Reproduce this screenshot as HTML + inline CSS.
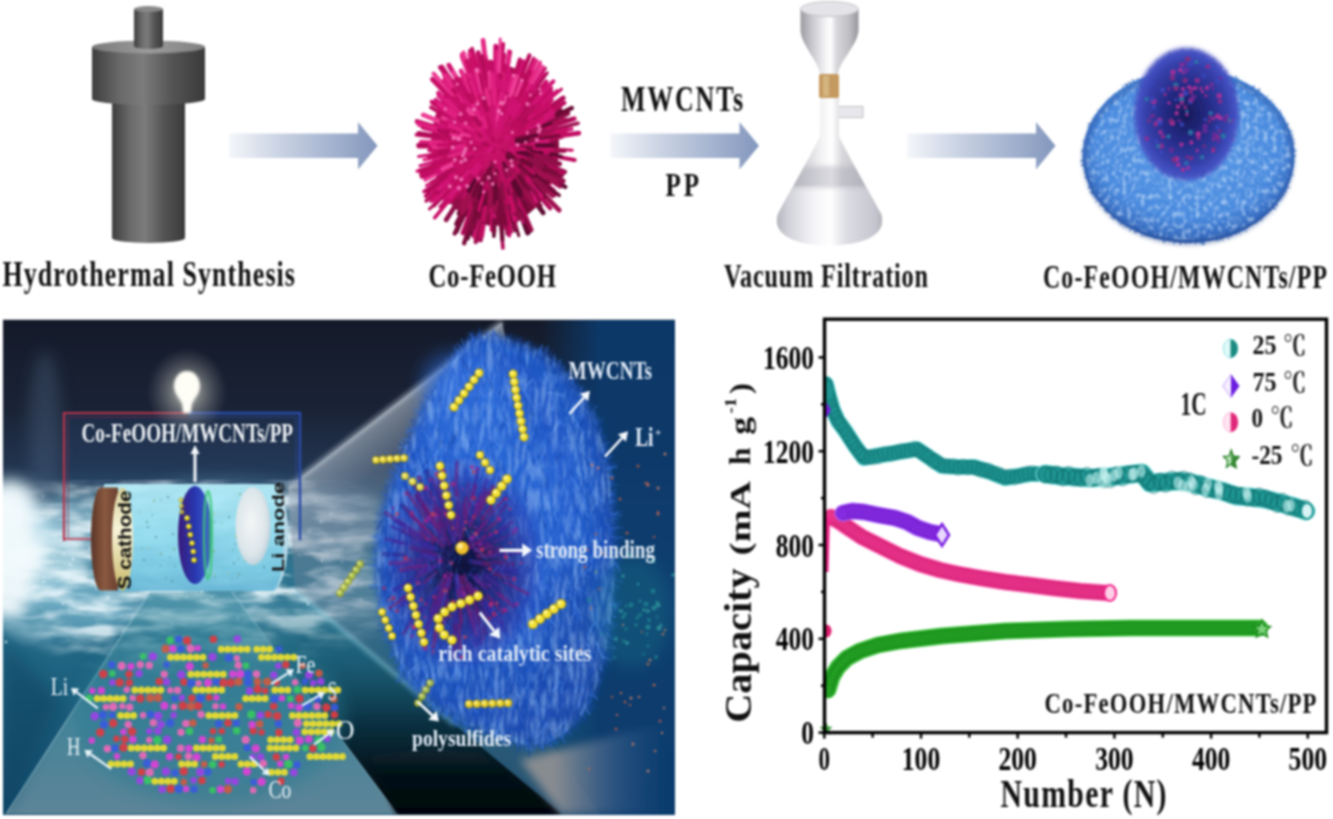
<!DOCTYPE html>
<html><head><meta charset="utf-8"><title>Co-FeOOH/MWCNTs/PP</title>
<style>html,body{margin:0;padding:0;background:#fff;overflow:hidden}svg{display:block}#w{filter:blur(1px)}</style></head>
<body><div id="w"><svg width="1333" height="819" viewBox="0 0 1333 819" font-family="Liberation Serif, 'Noto Serif CJK SC', serif">
<defs><linearGradient id="arrowg" x1="0" x2="1" y1="0" y2="0">
<stop offset="0" stop-color="#f4f6fa"/><stop offset="0.35" stop-color="#c9d2e3"/><stop offset="1" stop-color="#8397bd"/></linearGradient><linearGradient id="metal" x1="0" x2="1" y1="0" y2="0">
<stop offset="0" stop-color="#3e3e3e"/><stop offset="0.25" stop-color="#6a6a6a"/><stop offset="0.45" stop-color="#7c7c7c"/><stop offset="0.7" stop-color="#555"/><stop offset="1" stop-color="#3a3a3a"/></linearGradient><linearGradient id="metaltop" x1="0" x2="1" y1="0" y2="0">
<stop offset="0" stop-color="#7a7a7a"/><stop offset="0.5" stop-color="#9c9c9c"/><stop offset="1" stop-color="#808080"/></linearGradient><linearGradient id="glass" x1="0" x2="1" y1="0" y2="0">
<stop offset="0" stop-color="#cfcfd2"/><stop offset="0.3" stop-color="#eeeef0"/><stop offset="0.6" stop-color="#e2e2e5"/><stop offset="1" stop-color="#bdbdc2"/></linearGradient><radialGradient id="urchg" cx="0.4" cy="0.38" r="0.65"><stop offset="0" stop-color="#d41872"/><stop offset="0.6" stop-color="#b80e5e"/><stop offset="1" stop-color="#7a0a3a"/></radialGradient><linearGradient id="glass2" x1="0" x2="1" y1="0" y2="0">
<stop offset="0" stop-color="#9a9aa0"/><stop offset="0.18" stop-color="#c4c4ca"/><stop offset="0.42" stop-color="#f2f2f4"/><stop offset="0.52" stop-color="#ffffff"/><stop offset="0.62" stop-color="#d8d8dc"/><stop offset="0.85" stop-color="#bcbcc2"/><stop offset="1" stop-color="#94949a"/></linearGradient><linearGradient id="glass3" x1="0" x2="1" y1="0" y2="0">
<stop offset="0" stop-color="#a8a8b0"/><stop offset="0.15" stop-color="#d4d4dc"/><stop offset="0.35" stop-color="#f4f4f8"/><stop offset="0.5" stop-color="#ffffff"/><stop offset="0.65" stop-color="#dcdce4"/><stop offset="0.88" stop-color="#c8c8d2"/><stop offset="1" stop-color="#a0a0a8"/></linearGradient><clipPath id="conec"><path d="M820,96 L820,136 C816,146 792,188 778,214 C772,232 790,245 829.5,245 C869,245 887,232 881,214 C867,188 843,146 839,136 L839,96 Z"/></clipPath><radialGradient id="discg" cx="0.5" cy="0.42" r="0.58">
<stop offset="0" stop-color="#5c9ce8"/><stop offset="0.75" stop-color="#4a8ade"/><stop offset="0.92" stop-color="#3a70c4"/><stop offset="1" stop-color="#2d5aa8"/></radialGradient><radialGradient id="blobg" cx="0.5" cy="0.5" r="0.5">
<stop offset="0" stop-color="#161a58"/><stop offset="0.5" stop-color="#262c88"/><stop offset="0.85" stop-color="#3640aa"/><stop offset="1" stop-color="#4250c0"/></radialGradient><filter id="speck" x="0" y="0" width="100%" height="100%">
<feTurbulence type="fractalNoise" baseFrequency="0.22 0.17" numOctaves="2" seed="11" result="n"/>
<feColorMatrix in="n" type="matrix" values="0 0 0 0 0.6  0 0 0 0 0.76  0 0 0 0 0.96  2.2 0 0 0 -1.0" result="c"/>
<feComposite in="c" in2="SourceGraphic" operator="in"/></filter><clipPath id="plotc"><rect x="825" y="320" width="500" height="412"/></clipPath><marker id="mk1" markerUnits="userSpaceOnUse" markerWidth="16" markerHeight="16" refX="8.0" refY="8.0" orient="0" overflow="visible"><ellipse cx="8.0" cy="8.0" rx="4.8" ry="6.0" fill="none" stroke="#0c6a0c" stroke-width="0.8" opacity="0.55"/></marker><marker id="mk2" markerUnits="userSpaceOnUse" markerWidth="17.0" markerHeight="17.0" refX="8.5" refY="8.5" orient="0" overflow="visible"><ellipse cx="8.5" cy="8.5" rx="5.2" ry="6.5" fill="none" stroke="#b0105a" stroke-width="0.8" opacity="0.55"/></marker><marker id="mk3" markerUnits="userSpaceOnUse" markerWidth="17.0" markerHeight="17.0" refX="8.5" refY="8.5" orient="0" overflow="visible"><ellipse cx="8.5" cy="8.5" rx="5.2" ry="6.5" fill="none" stroke="#5a10b0" stroke-width="0.8" opacity="0.55"/></marker><marker id="mk4" markerUnits="userSpaceOnUse" markerWidth="18" markerHeight="18" refX="9.0" refY="9.0" orient="0" overflow="visible"><ellipse cx="9.0" cy="9.0" rx="5.6" ry="7.0" fill="none" stroke="#0b5e5c" stroke-width="0.8" opacity="0.55"/></marker><marker id="mk5" markerUnits="userSpaceOnUse" markerWidth="20" markerHeight="20" refX="10.0" refY="10.0" orient="0" overflow="visible"><ellipse cx="10.0" cy="10.0" rx="6.4" ry="8.0" fill="none" stroke="#0b5e5c" stroke-width="0.8" opacity="0.8"/></marker><clipPath id="pclip"><rect x="3" y="319.5" width="672" height="495.5"/></clipPath><linearGradient id="pbg" x1="0" x2="0" y1="320" y2="814" gradientUnits="userSpaceOnUse">
<stop offset="0" stop-color="#141a29"/><stop offset="0.18" stop-color="#1a2336"/><stop offset="0.3" stop-color="#223550"/>
<stop offset="0.38" stop-color="#2e5a76"/><stop offset="0.5" stop-color="#2f7590"/><stop offset="0.7" stop-color="#1f6482"/><stop offset="1" stop-color="#124868"/></linearGradient><linearGradient id="pright" x1="540" x2="600" y1="0" y2="0" gradientUnits="userSpaceOnUse">
<stop offset="0" stop-color="#0c3a6c" stop-opacity="0"/><stop offset="1" stop-color="#0c3a6c" stop-opacity="0.93"/></linearGradient><filter id="blur05" x="-50%" y="-50%" width="200%" height="200%"><feGaussianBlur stdDeviation="0.5"/></filter><filter id="blur8" x="-50%" y="-50%" width="200%" height="200%"><feGaussianBlur stdDeviation="8"/></filter><filter id="blur4" x="-50%" y="-50%" width="200%" height="200%"><feGaussianBlur stdDeviation="4"/></filter><filter id="blur2" x="-50%" y="-50%" width="200%" height="200%"><feGaussianBlur stdDeviation="2"/></filter><filter id="blur1" x="-50%" y="-50%" width="200%" height="200%"><feGaussianBlur stdDeviation="0.8"/></filter><filter id="blur14" x="-50%" y="-50%" width="200%" height="200%"><feGaussianBlur stdDeviation="14"/></filter><filter id="foam" x="0" y="0" width="100%" height="100%" filterUnits="objectBoundingBox">
<feTurbulence type="fractalNoise" baseFrequency="0.022 0.075" numOctaves="3" seed="5" result="n"/>
<feColorMatrix in="n" type="matrix" values="0 0 0 0 0.84  0 0 0 0 0.94  0 0 0 0 0.98  3.0 0 0 0 -1.1" result="c"/>
<feComposite in="c" in2="SourceGraphic" operator="in"/></filter><radialGradient id="foamm" cx="190" cy="565" r="240" gradientUnits="userSpaceOnUse" gradientTransform="translate(190 565) scale(1 0.48) translate(-190 -565)">
<stop offset="0" stop-color="#fff" stop-opacity="1"/><stop offset="0.7" stop-color="#fff" stop-opacity="0.8"/><stop offset="1" stop-color="#fff" stop-opacity="0"/></radialGradient><linearGradient id="latg" x1="0" x2="0" y1="592" y2="814" gradientUnits="userSpaceOnUse">
<stop offset="0" stop-color="#3f8ca0" stop-opacity="0.45"/><stop offset="0.6" stop-color="#5290a2" stop-opacity="0.8"/><stop offset="1" stop-color="#62889a" stop-opacity="0.95"/></linearGradient><linearGradient id="wedg" x1="0" x2="0" y1="590" y2="814" gradientUnits="userSpaceOnUse">
<stop offset="0" stop-color="#1e6e84" stop-opacity="0"/><stop offset="0.3" stop-color="#1a5a70" stop-opacity="0.6"/><stop offset="0.6" stop-color="#0a3040"/><stop offset="0.8" stop-color="#05161e"/><stop offset="1" stop-color="#02080c"/></linearGradient><linearGradient id="beamg" x1="288" y1="487" x2="400" y2="640" gradientUnits="userSpaceOnUse">
<stop offset="0" stop-color="#b4c0cc" stop-opacity="0.6"/><stop offset="0.22" stop-color="#7a8aa0" stop-opacity="0.45"/><stop offset="1" stop-color="#50647e" stop-opacity="0.3"/></linearGradient><linearGradient id="darkg" x1="0" x2="0" y1="745" y2="814" gradientUnits="userSpaceOnUse">
<stop offset="0" stop-color="#0a2a36"/><stop offset="0.4" stop-color="#051218"/><stop offset="1" stop-color="#020508"/></linearGradient><linearGradient id="brg" x1="555" x2="675" y1="0" y2="0" gradientUnits="userSpaceOnUse">
<stop offset="0" stop-color="#8c8e92" stop-opacity="0.95"/><stop offset="0.45" stop-color="#4a6a90" stop-opacity="0.6"/><stop offset="1" stop-color="#0d4a86" stop-opacity="0"/></linearGradient><radialGradient id="blobbg" cx="0.45" cy="0.42" r="0.62">
<stop offset="0" stop-color="#2462d2"/><stop offset="0.6" stop-color="#2058c6"/><stop offset="0.9" stop-color="#1a4cb0"/><stop offset="1" stop-color="#1a4aa8"/></radialGradient><filter id="fibr" x="0" y="0" width="100%" height="100%">
<feTurbulence type="turbulence" baseFrequency="0.15 0.035" numOctaves="3" seed="21" result="n"/>
<feColorMatrix in="n" type="matrix" values="0 0 0 0 0.45  0 0 0 0 0.68  0 0 0 0 0.98  2.2 0 0 0 -0.35" result="c"/>
<feComposite in="c" in2="SourceGraphic" operator="in"/></filter><clipPath id="blobclip"><path d="M478,336C486.7,334.0 500.5,336.7 512,340C523.5,343.3 536.3,348.3 547,356C557.7,363.7 567.8,375.0 576,386C584.2,397.0 590.7,408.0 596,422C601.3,436.0 605.0,452.0 608,470C611.0,488.0 613.2,508.3 614,530C614.8,551.7 614.7,578.3 613,600C611.3,621.7 608.2,642.5 604,660C599.8,677.5 595.0,692.5 588,705C581.0,717.5 571.7,728.3 562,735C552.3,741.7 541.2,745.0 530,745C518.8,745.0 506.3,738.8 495,735C483.7,731.2 472.8,727.5 462,722C451.2,716.5 439.8,710.7 430,702C420.2,693.3 410.5,682.8 403,670C395.5,657.2 389.3,640.8 385,625C380.7,609.2 377.7,592.5 377,575C376.3,557.5 377.8,537.5 381,520C384.2,502.5 390.0,486.3 396,470C402.0,453.7 409.7,436.7 417,422C424.3,407.3 432.8,393.7 440,382C447.2,370.3 453.7,359.7 460,352C466.3,344.3 469.3,338.0 478,336Z"/></clipPath><radialGradient id="coreg" cx="0.55" cy="0.55" r="0.5">
<stop offset="0" stop-color="#0c0c2c" stop-opacity="0.95"/><stop offset="0.35" stop-color="#1a1650" stop-opacity="0.85"/><stop offset="0.7" stop-color="#2a2088" stop-opacity="0.5"/><stop offset="1" stop-color="#3a2aa0" stop-opacity="0"/></radialGradient><radialGradient id="glow"><stop offset="0" stop-color="#ffffff" stop-opacity="0.9"/><stop offset="0.35" stop-color="#e8e8d8" stop-opacity="0.45"/><stop offset="1" stop-color="#a0a0a0" stop-opacity="0"/></radialGradient><linearGradient id="cylg" x1="0" x2="0" y1="484" y2="592" gradientUnits="userSpaceOnUse">
<stop offset="0" stop-color="#b4ecf8"/><stop offset="0.4" stop-color="#98e0f2"/><stop offset="0.8" stop-color="#7ccce6"/><stop offset="1" stop-color="#6ab8d8"/></linearGradient><linearGradient id="cathg" x1="0" x2="1" y1="0" y2="0"><stop offset="0" stop-color="#5a3428"/><stop offset="0.5" stop-color="#8a5a40"/><stop offset="1" stop-color="#6a4030"/></linearGradient><linearGradient id="creamg" x1="0" x2="0" y1="0" y2="1"><stop offset="0" stop-color="#d8d098"/><stop offset="0.4" stop-color="#f8f4d8"/><stop offset="1" stop-color="#c8b868"/></linearGradient><linearGradient id="sepg" x1="0" x2="1" y1="0" y2="0"><stop offset="0" stop-color="#3a1a7a"/><stop offset="0.5" stop-color="#2838b0"/><stop offset="0.85" stop-color="#3a58c8"/><stop offset="1" stop-color="#3ac070"/></linearGradient><radialGradient id="lig" cx="0.45" cy="0.45" r="0.6"><stop offset="0" stop-color="#f4f6f6"/><stop offset="0.7" stop-color="#dce6ea"/><stop offset="1" stop-color="#b8ccd6"/></radialGradient></defs>
<rect width="1333" height="819" fill="#fff"/>
<g id="autoclave">
<path d="M112,100 L112,238 A36.5,5 0 0 0 185,238 L185,100 Z" fill="url(#metal)"/>
<path d="M92,47 L92,99 A56.5,6 0 0 0 205,99 L205,47 Z" fill="url(#metal)"/>
<ellipse cx="148.5" cy="47" rx="56.5" ry="6.5" fill="url(#metaltop)"/>
<path d="M134,9 L134,46 A14.5,3 0 0 0 163,46 L163,9 Z" fill="url(#metal)"/>
<ellipse cx="148.5" cy="9" rx="14.5" ry="3" fill="#8a8a8a"/>
</g>
<path d="M229,133.5 L358,133.5 L358,122 L377.5,145.7 L358,169.5 L358,158 L229,158 Z" fill="url(#arrowg)"/>
<path d="M610.5,133.5 L739.5,133.5 L739.5,122 L759.0,145.7 L739.5,169.5 L739.5,158 L610.5,158 Z" fill="url(#arrowg)"/>
<path d="M907,133.5 L1036,133.5 L1036,122 L1055.5,145.7 L1036,169.5 L1036,158 L907,158 Z" fill="url(#arrowg)"/>
<g id="urchin">
<ellipse cx="495" cy="145" rx="64.0" ry="80.80000000000001" fill="url(#urchg)"/>
<path d="M505.8 205.2L509.1 223.5M545.6 149.5L560.3 150.8" stroke="#8f0f48" stroke-width="4.2" fill="none" stroke-linecap="round"/>
<path d="M548.4 176.9L565.3 187.0M474.5 214.8L467.6 238.4M543.1 120.2L561.0 111.0" stroke="#5a0830" stroke-width="4.2" fill="none" stroke-linecap="round"/>
<path d="M465.5 205.7L456.9 223.5M543.2 116.8L559.4 107.4M539.8 182.9L554.1 195.0M540.8 191.5L559.1 210.1M546.1 135.1L563.9 131.7" stroke="#a0104f" stroke-width="4.8" fill="none" stroke-linecap="round"/>
<path d="M521.6 211.9L529.3 231.3M519.8 211.8L527.7 233.1M532.1 197.3L543.2 212.9" stroke="#5a0830" stroke-width="4.8" fill="none" stroke-linecap="round"/>
<path d="M541.7 161.9L556.6 167.3M456.3 90.5L439.7 67.2M515.5 83.0L521.3 65.4M544.4 139.1L561.8 137.1M446.4 184.5L426.2 200.9M500.6 218.2L502.9 248.0" stroke="#b00b58" stroke-width="3.6" fill="none" stroke-linecap="round"/>
<path d="M448.9 186.8L435.5 199.0M453.6 191.5L439.9 206.9M453.9 185.3L440.2 198.7M476.2 75.1L469.5 50.4" stroke="#bc0c5e" stroke-width="3.0" fill="none" stroke-linecap="round"/>
<path d="M495.5 70.2L495.7 46.1M516.8 80.7L523.3 61.7M454.2 109.1L439.1 95.8M531.4 100.2L546.2 82.1M460.1 84.6L448.9 65.2" stroke="#d01272" stroke-width="4.8" fill="none" stroke-linecap="round"/>
<path d="M451.4 94.3L433.7 73.7M530.2 86.6L542.3 66.7M481.9 75.2L478.1 54.8" stroke="#ec3c94" stroke-width="4.2" fill="none" stroke-linecap="round"/>
<path d="M545.5 126.2L563.0 119.7M539.5 110.1L552.3 100.1M506.4 76.7L510.6 51.5M537.0 102.9L551.8 88.0M449.5 96.5L434.0 80.0M531.8 88.9L545.4 68.2" stroke="#c20e64" stroke-width="3.0" fill="none" stroke-linecap="round"/>
<path d="M466.6 202.4L455.7 224.3M466.1 198.5L458.0 213.7M484.1 208.1L480.8 227.6M478.2 212.3L472.4 235.3M512.5 211.9L518.7 235.7" stroke="#6d0a35" stroke-width="3.0" fill="none" stroke-linecap="round"/>
<path d="M465.1 92.2L456.1 76.3M493.6 83.4L493.1 62.9M436.6 137.4L416.4 134.8M483.1 217.7L479.3 240.4M478.5 75.2L472.1 48.5M536.4 104.2L550.4 90.3M536.5 104.9L551.2 90.8" stroke="#c20e64" stroke-width="3.6" fill="none" stroke-linecap="round"/>
<path d="M446.0 188.3L430.9 201.5M542.8 104.8L561.5 89.2M446.8 184.6L431.7 197.1M445.6 143.4L431.1 143.0M498.1 81.9L499.4 56.8M536.4 101.0L548.8 88.0M549.5 148.7L572.3 150.2M498.2 72.6L499.1 51.9M502.1 78.1L504.6 54.3" stroke="#c80e66" stroke-width="3.0" fill="none" stroke-linecap="round"/>
<path d="M537.9 106.2L552.6 92.9M508.9 205.3L514.4 229.3M521.2 89.9L531.6 68.1M439.6 160.3L420.0 165.8M445.8 174.1L426.5 185.5M445.0 131.5L427.7 126.8" stroke="#d01272" stroke-width="3.0" fill="none" stroke-linecap="round"/>
<path d="M484.3 206.2L480.8 226.3M457.2 90.5L442.8 69.6" stroke="#d21676" stroke-width="4.8" fill="none" stroke-linecap="round"/>
<path d="M545.5 149.3L564.4 150.9M542.4 175.2L560.1 186.5M469.0 200.0L460.4 218.4M549.0 120.1L567.7 111.5M541.6 170.9L558.2 180.1M481.3 213.8L475.7 242.0M547.6 173.7L562.9 182.1" stroke="#a0104f" stroke-width="4.2" fill="none" stroke-linecap="round"/>
<path d="M482.7 76.8L478.3 52.7M551.3 126.3L574.2 118.7M456.4 88.5L441.8 67.1M439.1 167.5L421.6 174.5M533.3 101.5L546.6 86.4M554.3 136.6L578.8 133.1M450.1 111.9L437.4 102.5M491.6 80.1L490.7 61.8M535.5 109.2L547.1 99.0M470.3 200.2L461.1 220.7M502.8 84.6L505.0 67.3M437.8 127.7L417.1 121.5" stroke="#c20e64" stroke-width="4.8" fill="none" stroke-linecap="round"/>
<path d="M452.2 186.1L435.6 202.1M443.8 178.6L424.0 191.6M457.9 185.0L444.3 199.6M537.8 177.8L554.0 190.1M495.8 78.6L496.1 56.5M506.2 215.4L509.4 235.7" stroke="#d01272" stroke-width="3.6" fill="none" stroke-linecap="round"/>
<path d="M500.9 207.9L502.8 228.4M543.5 183.0L559.1 195.3M481.2 203.8L476.6 223.3M476.2 211.2L470.0 233.0M543.6 169.8L558.7 177.5M547.0 126.3L565.6 119.6" stroke="#6d0a35" stroke-width="3.6" fill="none" stroke-linecap="round"/>
<path d="M475.8 76.7L469.4 53.8M471.5 80.9L461.9 54.5M471.5 82.0L461.9 56.4M505.6 79.4L509.3 56.2" stroke="#e42884" stroke-width="4.2" fill="none" stroke-linecap="round"/>
<path d="M554.3 156.2L574.5 160.0M457.7 97.1L444.4 80.0M444.0 182.6L426.0 195.9M513.4 81.7L519.8 59.6M549.6 134.7L565.0 131.8M460.6 188.5L449.9 202.0M547.1 113.3L564.3 102.9M520.7 78.1L529.4 55.4" stroke="#bc0c5e" stroke-width="4.2" fill="none" stroke-linecap="round"/>
<path d="M547.4 127.8L565.5 121.8M454.7 108.0L438.3 92.9M501.8 207.2L504.0 227.1M542.8 103.7L557.1 91.3M477.2 208.6L472.0 227.1" stroke="#d01272" stroke-width="4.2" fill="none" stroke-linecap="round"/>
<path d="M451.7 174.3L436.7 184.5M523.1 82.1L533.7 58.5M477.4 84.1L470.1 59.2M533.2 99.0L544.4 85.5M446.3 111.6L431.6 101.6M451.9 197.0L434.8 217.7" stroke="#c80e66" stroke-width="3.6" fill="none" stroke-linecap="round"/>
<path d="M529.9 93.3L543.4 73.3M505.1 82.1L508.0 63.5M516.8 204.0L523.5 222.3M445.6 181.8L431.4 192.3M478.6 216.0L473.7 237.3M511.2 210.0L515.8 228.4M519.4 203.5L526.5 220.4M443.9 155.8L429.1 159.0M439.7 153.3L418.5 156.4" stroke="#d21676" stroke-width="3.0" fill="none" stroke-linecap="round"/>
<path d="M525.3 89.1L534.3 72.6M470.1 90.4L461.2 70.9M441.3 143.0L421.2 142.2M486.6 71.2L483.1 40.4" stroke="#e42884" stroke-width="4.8" fill="none" stroke-linecap="round"/>
<path d="M532.2 184.0L544.6 197.0M543.0 166.8L561.6 175.3M479.0 206.1L473.3 227.9" stroke="#7c0b3c" stroke-width="4.8" fill="none" stroke-linecap="round"/>
<path d="M455.0 95.6L443.4 81.3M525.3 83.5L536.5 60.7M438.8 163.9L417.3 171.1M439.1 129.5L417.9 123.7" stroke="#e0207f" stroke-width="3.6" fill="none" stroke-linecap="round"/>
<path d="M484.3 217.0L480.9 240.4M553.6 129.7L578.0 123.3M520.6 207.3L528.5 226.7M521.1 205.3L531.8 230.0M503.8 209.5L507.2 233.9" stroke="#a0104f" stroke-width="3.6" fill="none" stroke-linecap="round"/>
<path d="M437.6 130.3L419.6 125.7M454.7 108.5L439.7 94.9M505.5 73.1L508.7 50.8" stroke="#e0207f" stroke-width="3.0" fill="none" stroke-linecap="round"/>
<path d="M442.3 132.1L423.4 127.5M547.4 126.7L566.2 120.1M472.2 207.9L463.1 232.9M438.4 164.6L420.5 170.8M506.3 208.4L510.5 231.8M520.1 92.3L529.7 72.2" stroke="#bc0c5e" stroke-width="4.8" fill="none" stroke-linecap="round"/>
<path d="M498.9 76.6L500.6 48.4" stroke="#e42884" stroke-width="3.0" fill="none" stroke-linecap="round"/>
<path d="M492.8 207.3L492.1 229.9M448.0 113.1L432.6 102.7M451.0 98.8L432.4 79.3M440.7 145.8L418.9 146.2" stroke="#c80e66" stroke-width="4.8" fill="none" stroke-linecap="round"/>
<path d="M454.5 181.8L443.1 192.2M447.8 172.8L431.2 182.5M449.6 180.6L433.3 193.5M449.1 118.1L430.9 107.4" stroke="#bc0c5e" stroke-width="3.6" fill="none" stroke-linecap="round"/>
<path d="M536.4 192.5L550.1 208.2M453.3 182.9L441.8 193.4M436.7 145.1L418.3 145.1M497.1 76.1L497.9 47.7M440.1 136.5L418.6 133.2M485.7 78.6L482.6 56.3" stroke="#b00b58" stroke-width="4.2" fill="none" stroke-linecap="round"/>
<path d="M548.6 165.7L564.6 171.9M546.9 122.6L567.8 113.6M457.9 201.8L446.2 219.7" stroke="#8f0f48" stroke-width="4.8" fill="none" stroke-linecap="round"/>
<path d="M471.5 75.6L463.6 52.3" stroke="#ec3c94" stroke-width="3.6" fill="none" stroke-linecap="round"/>
<path d="M521.4 211.0L529.2 230.6M503.9 207.7L506.4 225.3" stroke="#7c0b3c" stroke-width="3.0" fill="none" stroke-linecap="round"/>
<path d="M477.5 206.5L470.9 229.9M543.3 158.5L560.0 163.1" stroke="#8f0f48" stroke-width="3.0" fill="none" stroke-linecap="round"/>
<path d="M448.3 191.7L433.9 206.2M534.1 90.9L547.2 72.8M518.8 199.5L526.8 218.0M448.6 190.3L429.5 209.0" stroke="#b00b58" stroke-width="3.0" fill="none" stroke-linecap="round"/>
<path d="M464.1 91.1L453.4 72.5M443.6 123.4L423.3 114.9" stroke="#ec3c94" stroke-width="4.8" fill="none" stroke-linecap="round"/>
<path d="M447.0 177.6L427.2 191.0M453.6 180.2L438.6 192.9M543.0 111.9L563.2 98.0M544.4 165.2L562.7 172.8" stroke="#b00b58" stroke-width="4.8" fill="none" stroke-linecap="round"/>
<path d="M528.6 83.8L540.2 62.5M456.8 93.1L443.7 75.3M488.5 81.9L485.9 56.3M440.7 156.2L424.2 159.7M459.4 94.1L445.9 74.9" stroke="#e42884" stroke-width="3.6" fill="none" stroke-linecap="round"/>
<path d="M443.1 169.5L424.9 178.2M535.8 99.9L547.3 87.2M480.0 81.5L475.7 63.1M445.3 133.3L425.6 128.7M554.2 132.7L571.7 129.0M534.3 102.7L549.2 86.7" stroke="#d21676" stroke-width="3.6" fill="none" stroke-linecap="round"/>
<path d="M494.1 214.1L493.9 236.3M466.6 209.5L456.8 231.8" stroke="#5a0830" stroke-width="3.6" fill="none" stroke-linecap="round"/>
<path d="M446.3 148.9L429.4 150.2M479.1 78.4L473.0 52.9M474.5 84.2L466.7 61.1M537.1 112.2L548.7 103.2M500.9 70.1L503.0 44.2M546.0 134.1L566.2 129.8" stroke="#c80e66" stroke-width="4.2" fill="none" stroke-linecap="round"/>
<path d="M500.3 212.2L502.4 239.4M478.0 202.0L472.4 220.6M550.4 118.3L571.8 108.0" stroke="#6d0a35" stroke-width="4.2" fill="none" stroke-linecap="round"/>
<path d="M543.0 153.0L561.7 156.2" stroke="#5a0830" stroke-width="3.0" fill="none" stroke-linecap="round"/>
<path d="M494.4 212.2L494.2 232.0M530.3 192.2L540.5 205.9M466.1 208.4L454.7 233.5M473.0 215.1L464.1 243.3" stroke="#7c0b3c" stroke-width="4.2" fill="none" stroke-linecap="round"/>
<path d="M547.2 172.0L563.8 180.6M473.9 207.0L465.2 232.6" stroke="#8f0f48" stroke-width="3.6" fill="none" stroke-linecap="round"/>
<path d="M538.5 184.2L552.4 196.7M551.8 125.6L571.7 118.7" stroke="#a0104f" stroke-width="3.0" fill="none" stroke-linecap="round"/>
<path d="M439.7 168.9L421.8 176.6M503.1 85.0L505.6 66.1M485.6 210.1L481.9 236.3" stroke="#c20e64" stroke-width="4.2" fill="none" stroke-linecap="round"/>
<path d="M509.2 206.3L514.9 230.7" stroke="#7c0b3c" stroke-width="3.6" fill="none" stroke-linecap="round"/>
<path d="M497.0 77.7L497.7 52.0" stroke="#e0207f" stroke-width="4.8" fill="none" stroke-linecap="round"/>
<path d="M449.1 110.1L435.7 99.9M536.6 99.6L553.2 81.4M450.0 186.7L434.6 201.0" stroke="#d21676" stroke-width="4.2" fill="none" stroke-linecap="round"/>
<path d="M436.6 128.5L418.5 123.4" stroke="#e0207f" stroke-width="4.2" fill="none" stroke-linecap="round"/>
<path d="M498.7 69.9L500.3 38.9M443.1 171.3L425.0 180.4M498.8 76.6L500.3 50.7" stroke="#ec3c94" stroke-width="3.0" fill="none" stroke-linecap="round"/>
<path d="M510.6 199.3L516.8 221.1M453.9 130.9L440.2 126.2M465.5 180.4L454.4 193.6M534.2 148.1L548.1 149.2" stroke="#b00b58" stroke-width="3.0" fill="none" stroke-linecap="round"/>
<path d="M467.6 177.7L458.9 188.1M515.1 98.2L523.1 79.7M534.2 137.8L547.6 135.4M535.4 174.3L548.2 183.6" stroke="#b00b58" stroke-width="4.8" fill="none" stroke-linecap="round"/>
<path d="M533.1 142.2L547.3 141.2M466.8 99.6L457.2 84.2M522.1 101.5L531.4 86.5M527.0 102.1L535.9 90.1M459.0 149.0L446.9 150.3M457.5 159.1L445.2 163.7M455.0 176.4L439.2 188.9M483.6 88.0L480.1 70.8" stroke="#d21676" stroke-width="4.8" fill="none" stroke-linecap="round"/>
<path d="M458.1 108.6L445.7 96.5M464.5 98.3L453.3 81.1M538.0 157.4L552.8 161.7M535.5 151.1L547.9 153.0M461.6 175.6L449.9 186.4M497.8 92.2L498.7 74.9M523.0 104.7L533.6 89.4" stroke="#c20e64" stroke-width="3.6" fill="none" stroke-linecap="round"/>
<path d="M456.3 137.5L442.1 134.7M476.5 97.5L469.3 79.1M452.5 126.7L440.8 121.7M458.3 181.4L444.8 194.8M521.5 106.2L531.5 91.7M525.5 181.7L536.4 194.8" stroke="#bc0c5e" stroke-width="3.0" fill="none" stroke-linecap="round"/>
<path d="M451.5 132.6L437.9 128.7M510.3 202.4L514.7 219.1M451.9 129.7L439.7 125.4M509.1 191.7L513.9 207.3M521.5 107.2L530.6 94.2" stroke="#d01272" stroke-width="4.2" fill="none" stroke-linecap="round"/>
<path d="M532.7 161.0L545.4 166.4M482.6 198.6L478.3 217.3M539.1 165.4L555.9 173.2M479.7 189.5L474.8 203.6" stroke="#7c0b3c" stroke-width="4.8" fill="none" stroke-linecap="round"/>
<path d="M534.1 156.9L545.4 160.4M512.5 194.5L518.2 210.6" stroke="#5a0830" stroke-width="3.6" fill="none" stroke-linecap="round"/>
<path d="M523.7 183.0L531.7 193.7M476.3 186.6L470.2 200.1M500.2 198.5L501.8 215.1M499.2 191.9L500.6 207.2M531.3 150.9L542.1 152.7M537.6 128.4L550.7 123.3" stroke="#5a0830" stroke-width="3.0" fill="none" stroke-linecap="round"/>
<path d="M460.1 128.1L450.3 123.3M461.6 170.4L452.0 177.8M455.1 116.2L443.1 107.6M526.7 107.6L535.8 96.9M516.4 98.1L522.5 84.6" stroke="#c20e64" stroke-width="4.2" fill="none" stroke-linecap="round"/>
<path d="M448.6 146.7L433.0 147.2" stroke="#ec3c94" stroke-width="3.0" fill="none" stroke-linecap="round"/>
<path d="M482.1 193.3L478.4 207.2M540.3 146.4L554.8 146.9M485.3 192.4L482.4 206.8M485.9 199.6L482.3 221.2" stroke="#6d0a35" stroke-width="3.0" fill="none" stroke-linecap="round"/>
<path d="M458.1 148.3L446.6 149.3M479.8 88.5L474.9 70.1M481.6 100.7L477.6 87.7M491.3 92.6L490.1 75.6M459.0 142.0L446.8 141.0" stroke="#e0207f" stroke-width="3.6" fill="none" stroke-linecap="round"/>
<path d="M468.0 112.4L459.2 101.8M459.0 143.9L447.3 143.5M522.1 111.4L531.2 100.2" stroke="#c80e66" stroke-width="4.8" fill="none" stroke-linecap="round"/>
<path d="M515.7 94.8L521.7 80.4M482.0 91.2L476.9 70.1M478.8 101.4L473.9 88.3" stroke="#ec3c94" stroke-width="4.2" fill="none" stroke-linecap="round"/>
<path d="M447.8 144.5L430.2 144.3M462.2 119.5L449.3 109.5M458.4 109.8L448.1 99.9M454.2 115.2L438.8 104.1M476.8 93.3L470.3 74.8" stroke="#e0207f" stroke-width="4.2" fill="none" stroke-linecap="round"/>
<path d="M538.1 121.0L553.4 112.5M462.9 182.2L450.4 196.7M527.1 188.9L536.1 201.3" stroke="#d21676" stroke-width="4.2" fill="none" stroke-linecap="round"/>
<path d="M534.7 173.6L547.2 182.6M526.7 179.7L538.8 193.0M471.1 191.6L463.2 206.9M530.4 173.8L540.0 181.6" stroke="#6d0a35" stroke-width="4.8" fill="none" stroke-linecap="round"/>
<path d="M501.2 89.5L502.9 74.1M490.1 95.1L488.6 80.4" stroke="#e42884" stroke-width="3.6" fill="none" stroke-linecap="round"/>
<path d="M457.6 134.1L445.5 130.6M518.0 100.0L526.7 83.0M499.7 92.0L501.2 75.1M462.7 102.0L453.4 89.6" stroke="#bc0c5e" stroke-width="4.2" fill="none" stroke-linecap="round"/>
<path d="M483.5 90.7L480.2 74.8M533.1 119.4L545.0 111.4M509.8 93.0L513.9 78.5" stroke="#bc0c5e" stroke-width="3.6" fill="none" stroke-linecap="round"/>
<path d="M528.9 181.9L541.9 195.9M529.3 106.2L540.6 93.5M505.4 189.0L509.0 204.5M522.9 103.1L533.8 86.6M521.8 107.2L530.4 95.1M535.5 119.2L551.2 109.2M538.3 124.1L554.0 116.5M497.2 97.1L498.1 78.8M453.4 117.6L439.2 108.3M461.4 111.0L449.0 98.5" stroke="#d01272" stroke-width="3.0" fill="none" stroke-linecap="round"/>
<path d="M512.8 93.7L518.1 78.6M499.5 196.8L500.9 212.8M523.2 103.5L530.9 92.2M505.4 99.0L509.1 82.4M450.3 159.7L432.9 165.4M476.2 97.8L469.7 81.4M447.8 153.4L429.3 156.7M456.9 139.4L441.9 137.2" stroke="#bc0c5e" stroke-width="4.8" fill="none" stroke-linecap="round"/>
<path d="M490.3 93.9L489.0 79.4M452.8 134.0L439.3 130.5M521.5 110.2L531.4 97.2M534.1 118.2L546.3 109.8M489.2 191.8L487.0 209.8M480.8 189.2L476.9 201.0" stroke="#b00b58" stroke-width="4.2" fill="none" stroke-linecap="round"/>
<path d="M494.3 197.2L494.1 217.2M494.9 87.7L494.9 70.8M470.6 105.8L461.4 90.9M478.5 93.2L473.0 76.2M469.8 111.7L460.3 99.2M523.4 175.7L532.9 186.0M468.7 95.7L460.0 79.3" stroke="#d21676" stroke-width="3.0" fill="none" stroke-linecap="round"/>
<path d="M498.9 193.8L499.9 207.1M495.7 195.1L495.9 212.6M519.5 194.3L527.0 209.3" stroke="#6d0a35" stroke-width="3.6" fill="none" stroke-linecap="round"/>
<path d="M525.0 108.7L534.2 97.6M499.2 95.0L500.4 80.8M455.8 173.9L441.6 184.4M471.9 185.3L464.8 197.5M473.2 105.5L464.9 90.4" stroke="#d01272" stroke-width="3.6" fill="none" stroke-linecap="round"/>
<path d="M535.0 148.0L547.6 148.9M488.9 85.2L486.4 61.0M463.2 172.4L452.2 181.8M467.9 97.5L457.2 78.8M538.2 147.9L552.1 148.8M455.7 149.2L441.9 150.6" stroke="#c20e64" stroke-width="4.8" fill="none" stroke-linecap="round"/>
<path d="M507.2 92.9L511.9 72.7M452.4 150.7L438.6 152.6M518.8 108.7L526.3 97.4M454.3 168.2L438.4 177.3M528.0 103.9L539.8 89.2" stroke="#b00b58" stroke-width="3.6" fill="none" stroke-linecap="round"/>
<path d="M520.6 177.1L527.8 186.1M515.3 185.4L521.7 198.2M524.6 179.8L536.0 193.1M501.5 194.9L503.7 211.7" stroke="#8f0f48" stroke-width="3.6" fill="none" stroke-linecap="round"/>
<path d="M511.6 195.0L517.0 211.2M469.1 98.4L460.5 82.9" stroke="#c20e64" stroke-width="3.0" fill="none" stroke-linecap="round"/>
<path d="M452.1 163.8L435.1 171.2M487.5 197.1L484.8 215.7M527.3 119.8L536.2 112.8" stroke="#c80e66" stroke-width="3.6" fill="none" stroke-linecap="round"/>
<path d="M506.5 193.2L509.7 206.6M473.2 192.7L465.2 210.2M531.7 168.9L545.9 178.1M539.3 134.0L552.5 130.7M489.9 195.5L488.5 210.5" stroke="#a0104f" stroke-width="3.6" fill="none" stroke-linecap="round"/>
<path d="M540.8 138.2L558.7 135.5M521.0 182.6L530.9 196.9M480.3 193.0L476.1 207.0M486.2 202.7L483.3 222.1" stroke="#7c0b3c" stroke-width="3.6" fill="none" stroke-linecap="round"/>
<path d="M458.9 153.8L448.6 156.3" stroke="#e42884" stroke-width="3.0" fill="none" stroke-linecap="round"/>
<path d="M477.7 186.4L472.2 199.3M491.9 192.7L491.0 206.4M533.4 155.7L548.4 159.9M484.6 190.2L481.8 202.4" stroke="#8f0f48" stroke-width="3.0" fill="none" stroke-linecap="round"/>
<path d="M455.0 123.9L442.7 117.5M490.5 87.8L489.3 72.3" stroke="#ec3c94" stroke-width="3.6" fill="none" stroke-linecap="round"/>
<path d="M530.1 160.6L541.2 165.5M510.0 196.5L514.8 213.3M534.6 179.1L546.2 189.1M513.5 200.3L519.5 218.3M541.2 158.6L559.6 164.0" stroke="#8f0f48" stroke-width="4.8" fill="none" stroke-linecap="round"/>
<path d="M520.8 180.4L528.1 190.4" stroke="#6d0a35" stroke-width="4.2" fill="none" stroke-linecap="round"/>
<path d="M507.3 190.5L512.0 207.7M500.6 199.9L502.7 220.0M500.7 204.5L502.5 223.4" stroke="#7c0b3c" stroke-width="4.2" fill="none" stroke-linecap="round"/>
<path d="M470.7 195.1L462.2 212.6M531.7 132.9L541.9 129.5M487.5 198.7L484.7 218.4M524.5 189.6L535.2 205.8" stroke="#a0104f" stroke-width="4.2" fill="none" stroke-linecap="round"/>
<path d="M499.2 203.8L500.7 226.2" stroke="#7c0b3c" stroke-width="3.0" fill="none" stroke-linecap="round"/>
<path d="M509.9 196.8L514.0 211.0M452.9 145.2L438.5 145.2M518.4 105.0L525.0 93.7" stroke="#c80e66" stroke-width="4.2" fill="none" stroke-linecap="round"/>
<path d="M526.7 168.9L535.1 175.2M536.8 145.4L552.7 145.5" stroke="#5a0830" stroke-width="4.2" fill="none" stroke-linecap="round"/>
<path d="M509.4 90.6L513.5 75.5M493.2 94.5L492.5 75.1M457.5 117.8L445.3 109.0" stroke="#e0207f" stroke-width="4.8" fill="none" stroke-linecap="round"/>
<path d="M494.7 194.2L494.6 210.8M470.5 191.2L461.0 209.1" stroke="#a0104f" stroke-width="4.8" fill="none" stroke-linecap="round"/>
<path d="M485.8 201.7L482.6 221.1M529.9 124.7L542.6 117.4M459.4 176.8L446.7 188.2M482.5 195.6L478.9 210.4M520.7 107.9L530.0 94.6M450.5 162.1L437.8 167.0M536.0 115.3L550.8 104.5" stroke="#c80e66" stroke-width="3.0" fill="none" stroke-linecap="round"/>
<path d="M505.1 90.1L508.6 71.1M467.6 178.6L459.5 188.4M458.3 126.9L447.9 121.7M451.4 165.7L437.8 172.2" stroke="#d01272" stroke-width="4.8" fill="none" stroke-linecap="round"/>
<path d="M454.2 163.6L442.7 168.9M510.7 95.6L516.7 76.6" stroke="#ec3c94" stroke-width="4.8" fill="none" stroke-linecap="round"/>
<path d="M505.7 193.6L508.9 208.2" stroke="#8f0f48" stroke-width="4.2" fill="none" stroke-linecap="round"/>
<path d="M467.8 108.1L457.7 94.4M477.1 98.3L470.5 81.2" stroke="#e0207f" stroke-width="3.0" fill="none" stroke-linecap="round"/>
<path d="M473.4 190.7L465.1 208.3" stroke="#a0104f" stroke-width="3.0" fill="none" stroke-linecap="round"/>
<path d="M502.6 97.9L505.2 81.9" stroke="#d21676" stroke-width="3.6" fill="none" stroke-linecap="round"/>
<path d="M500.9 112.7L502.7 103.3M503.2 187.9L506.2 203.6M519.1 114.7L527.5 104.1M494.6 110.3L494.4 97.6M461.1 145.2L451.2 145.3M472.7 128.2L465.8 123.0" stroke="#b00b58" stroke-width="3.6" fill="none" stroke-linecap="round"/>
<path d="M520.4 171.8L529.7 181.6M519.8 133.2L526.4 130.0M468.6 132.2L458.3 127.3M471.6 114.1L464.4 104.5M493.9 114.0L493.6 104.4M475.1 163.9L467.7 170.9" stroke="#c20e64" stroke-width="4.2" fill="none" stroke-linecap="round"/>
<path d="M518.1 164.8L526.5 171.9M515.3 179.4L522.3 191.1M518.9 163.1L527.2 169.3" stroke="#a0104f" stroke-width="3.0" fill="none" stroke-linecap="round"/>
<path d="M508.0 109.8L513.0 96.3M524.3 121.8L533.1 114.8" stroke="#d01272" stroke-width="3.0" fill="none" stroke-linecap="round"/>
<path d="M508.6 119.3L513.1 110.9M519.5 131.1L527.6 126.5M469.5 122.0L460.7 114.0M504.9 187.9L508.3 202.8" stroke="#bc0c5e" stroke-width="3.0" fill="none" stroke-linecap="round"/>
<path d="M480.8 114.7L476.8 106.3M467.4 146.4L458.2 146.9M488.8 104.1L486.7 89.8M468.9 150.0L461.2 151.4" stroke="#e42884" stroke-width="4.8" fill="none" stroke-linecap="round"/>
<path d="M482.2 115.0L477.5 104.0M515.6 115.7L521.2 107.7M497.6 103.7L498.4 90.5M467.5 154.2L458.3 157.3" stroke="#c20e64" stroke-width="3.6" fill="none" stroke-linecap="round"/>
<path d="M484.6 184.4L481.6 195.9M518.5 155.3L525.8 158.5M465.4 155.9L454.9 159.8M525.4 131.2L535.9 126.4M486.6 185.6L484.2 196.9M474.9 107.7L468.0 95.1M470.3 153.0L462.8 155.4" stroke="#bc0c5e" stroke-width="4.8" fill="none" stroke-linecap="round"/>
<path d="M497.2 183.9L497.9 195.1M511.7 115.8L517.5 105.7M462.9 130.5L454.0 126.4M483.5 109.5L479.2 96.2M512.3 117.9L518.1 108.8M525.7 126.1L533.9 121.0M518.3 167.2L524.7 173.2" stroke="#c80e66" stroke-width="3.6" fill="none" stroke-linecap="round"/>
<path d="M463.4 137.2L451.2 134.2" stroke="#e42884" stroke-width="3.6" fill="none" stroke-linecap="round"/>
<path d="M472.4 168.8L465.9 175.7M471.9 132.7L463.5 128.2" stroke="#bc0c5e" stroke-width="3.6" fill="none" stroke-linecap="round"/>
<path d="M499.5 112.4L500.8 103.0M498.9 107.5L500.0 96.9M514.8 124.0L521.1 117.3M485.0 111.7L481.8 100.9" stroke="#c80e66" stroke-width="4.8" fill="none" stroke-linecap="round"/>
<path d="M498.9 186.0L500.3 201.3M526.5 141.3L536.8 140.1M516.1 179.2L523.0 190.4" stroke="#7c0b3c" stroke-width="3.0" fill="none" stroke-linecap="round"/>
<path d="M468.9 175.0L459.6 185.8M460.6 149.8L451.0 151.1M465.2 169.8L456.1 177.3M480.0 172.7L474.4 183.0M472.1 111.0L464.4 99.7" stroke="#d21676" stroke-width="3.6" fill="none" stroke-linecap="round"/>
<path d="M465.6 128.4L454.7 122.2M518.5 135.9L526.7 132.7M479.3 168.1L473.6 176.5M487.4 115.9L485.0 106.7" stroke="#d21676" stroke-width="3.0" fill="none" stroke-linecap="round"/>
<path d="M463.9 160.3L455.5 164.4M469.9 117.5L460.3 107.0M472.3 133.3L465.6 129.9M518.3 136.2L527.4 132.8M466.3 123.5L458.5 117.8" stroke="#c20e64" stroke-width="4.8" fill="none" stroke-linecap="round"/>
<path d="M478.5 184.5L474.0 195.2M488.2 187.7L485.7 203.5M515.6 171.2L522.8 180.4M522.0 160.3L530.7 165.2M490.3 182.9L489.1 193.1M497.4 185.5L498.1 197.4" stroke="#6d0a35" stroke-width="4.8" fill="none" stroke-linecap="round"/>
<path d="M501.4 183.9L503.7 198.2M492.5 179.3L491.8 190.3M490.0 178.6L488.3 190.4" stroke="#8f0f48" stroke-width="4.2" fill="none" stroke-linecap="round"/>
<path d="M516.3 179.8L523.7 192.0M528.2 156.9L537.5 160.2M515.2 164.5L521.1 170.2M527.9 133.5L539.8 129.4" stroke="#8f0f48" stroke-width="4.8" fill="none" stroke-linecap="round"/>
<path d="M487.0 180.9L484.8 190.4M472.8 160.0L466.1 164.6M462.2 140.3L452.2 138.9M467.0 170.3L457.1 179.2M496.7 182.6L497.3 195.7M525.7 153.2L533.8 155.4M471.0 172.5L461.7 183.1" stroke="#bc0c5e" stroke-width="4.2" fill="none" stroke-linecap="round"/>
<path d="M514.5 180.8L520.4 191.7M519.7 147.6L528.2 148.5M482.1 186.9L478.6 198.4" stroke="#5a0830" stroke-width="3.6" fill="none" stroke-linecap="round"/>
<path d="M479.9 119.4L474.0 109.4" stroke="#e42884" stroke-width="3.0" fill="none" stroke-linecap="round"/>
<path d="M513.4 114.6L519.0 105.5M528.2 130.2L538.5 125.6M528.9 134.7L538.7 131.7M516.3 120.6L523.8 111.9M491.2 177.7L490.2 186.5" stroke="#d01272" stroke-width="4.8" fill="none" stroke-linecap="round"/>
<path d="M528.6 134.1L541.7 129.9" stroke="#8f0f48" stroke-width="3.0" fill="none" stroke-linecap="round"/>
<path d="M511.6 167.0L516.7 173.8M495.9 189.7L496.2 205.0M490.7 188.3L489.3 202.6" stroke="#a0104f" stroke-width="4.2" fill="none" stroke-linecap="round"/>
<path d="M475.4 177.3L468.0 189.4M470.6 121.4L463.2 114.3M471.2 113.9L464.7 105.4M524.1 166.5L533.7 173.6" stroke="#c20e64" stroke-width="3.0" fill="none" stroke-linecap="round"/>
<path d="M517.9 167.1L525.0 174.0" stroke="#a0104f" stroke-width="3.6" fill="none" stroke-linecap="round"/>
<path d="M474.7 180.5L468.7 191.0M494.9 182.1L494.9 192.3M495.4 184.8L495.5 199.1" stroke="#5a0830" stroke-width="4.2" fill="none" stroke-linecap="round"/>
<path d="M469.8 135.5L462.9 132.9M499.7 105.3L501.2 93.2M462.8 146.9L452.7 147.4M465.2 140.1L453.6 138.2" stroke="#e0207f" stroke-width="3.0" fill="none" stroke-linecap="round"/>
<path d="M528.3 132.7L540.4 128.2M527.0 138.8L535.8 137.1" stroke="#a0104f" stroke-width="4.8" fill="none" stroke-linecap="round"/>
<path d="M463.9 163.0L455.4 167.9M465.4 167.4L456.4 174.2" stroke="#c80e66" stroke-width="3.0" fill="none" stroke-linecap="round"/>
<path d="M486.4 180.6L483.7 192.0M481.8 170.9L478.1 178.3M472.0 156.4L465.2 159.8" stroke="#b00b58" stroke-width="4.2" fill="none" stroke-linecap="round"/>
<path d="M522.8 152.9L533.2 155.8M522.0 152.8L530.4 155.3M512.3 182.8L517.5 194.2" stroke="#6d0a35" stroke-width="3.6" fill="none" stroke-linecap="round"/>
<path d="M498.6 188.4L499.6 200.1M519.3 165.3L525.8 170.7M484.9 175.2L482.1 183.5M521.0 140.4L529.0 138.9" stroke="#7c0b3c" stroke-width="3.6" fill="none" stroke-linecap="round"/>
<path d="M524.6 165.9L532.6 171.5M470.2 157.4L461.3 161.8M473.5 176.9L467.3 186.1M518.6 118.6L527.5 108.7M518.5 123.5L527.1 115.6" stroke="#b00b58" stroke-width="3.0" fill="none" stroke-linecap="round"/>
<path d="M486.6 110.2L483.6 98.0M519.6 126.0L526.0 121.1" stroke="#b00b58" stroke-width="4.8" fill="none" stroke-linecap="round"/>
<path d="M522.5 147.3L531.3 148.0M522.3 160.7L531.2 165.8M494.4 188.5L494.2 203.7" stroke="#6d0a35" stroke-width="3.0" fill="none" stroke-linecap="round"/>
<path d="M510.8 111.2L515.6 101.1" stroke="#d01272" stroke-width="4.2" fill="none" stroke-linecap="round"/>
<path d="M472.5 130.0L464.0 124.3M479.0 115.5L473.4 105.2" stroke="#e0207f" stroke-width="4.2" fill="none" stroke-linecap="round"/>
<path d="M519.7 166.1L527.3 172.6" stroke="#7c0b3c" stroke-width="4.2" fill="none" stroke-linecap="round"/>
<path d="M474.2 117.5L468.3 109.8" stroke="#ec3c94" stroke-width="4.8" fill="none" stroke-linecap="round"/>
<path d="M461.5 130.5L449.6 125.4M469.0 145.9L461.6 146.2" stroke="#e0207f" stroke-width="3.6" fill="none" stroke-linecap="round"/>
<path d="M468.9 171.6L461.2 179.4" stroke="#d21676" stroke-width="4.2" fill="none" stroke-linecap="round"/>
<path d="M503.2 108.7L506.1 95.8M463.0 138.4L453.2 136.4M466.9 140.4L458.4 139.1" stroke="#ec3c94" stroke-width="3.0" fill="none" stroke-linecap="round"/>
<path d="M468.5 137.1L461.5 135.0" stroke="#ec3c94" stroke-width="4.2" fill="none" stroke-linecap="round"/>
<path d="M518.7 151.6L527.1 153.9M514.4 183.0L520.8 195.7" stroke="#5a0830" stroke-width="4.8" fill="none" stroke-linecap="round"/>
<path d="M526.8 137.4L537.1 135.0" stroke="#5a0830" stroke-width="3.0" fill="none" stroke-linecap="round"/>
<path d="M517.1 169.4L523.5 176.5" stroke="#8f0f48" stroke-width="3.6" fill="none" stroke-linecap="round"/>
<path d="M484.8 116.8L481.8 108.3" stroke="#c80e66" stroke-width="4.2" fill="none" stroke-linecap="round"/>
<path d="M494.6 103.2L494.5 90.6" stroke="#e0207f" stroke-width="4.8" fill="none" stroke-linecap="round"/>
<path d="M481.3 136.1L476.3 132.8M503.9 129.3L506.6 124.6" stroke="#b00b58" stroke-width="3.0" fill="none" stroke-linecap="round"/>
<path d="M492.4 162.9L491.3 170.4M506.0 166.6L510.4 175.3" stroke="#8f0f48" stroke-width="4.2" fill="none" stroke-linecap="round"/>
<path d="M475.8 140.8L470.6 139.6M482.1 141.4L477.5 140.1M512.0 148.4L518.7 149.7" stroke="#d21676" stroke-width="3.6" fill="none" stroke-linecap="round"/>
<path d="M515.8 135.3L522.0 132.4M473.5 147.8L465.7 148.8M514.9 128.5L520.4 123.9M511.1 136.6L516.9 133.6M512.6 164.7L518.1 170.9" stroke="#bc0c5e" stroke-width="4.8" fill="none" stroke-linecap="round"/>
<path d="M473.7 158.8L466.0 163.8M478.7 150.7L473.1 152.6M471.4 150.2L464.5 151.8M477.7 147.0L472.4 147.6" stroke="#bc0c5e" stroke-width="4.2" fill="none" stroke-linecap="round"/>
<path d="M494.9 165.7L494.9 173.6M491.4 171.9L490.1 182.1M517.4 142.9L525.6 142.1" stroke="#a0104f" stroke-width="3.0" fill="none" stroke-linecap="round"/>
<path d="M518.3 148.3L525.0 149.3M507.3 136.0L512.3 132.4M484.5 129.5L480.6 123.7M482.2 150.5L478.0 152.3M477.2 157.8L471.6 161.8" stroke="#d21676" stroke-width="3.0" fill="none" stroke-linecap="round"/>
<path d="M475.3 141.7L469.5 140.8M484.7 118.7L480.7 108.5M505.6 119.0L508.7 111.3M489.2 128.6L487.3 123.1" stroke="#d01272" stroke-width="3.6" fill="none" stroke-linecap="round"/>
<path d="M506.2 139.0L511.0 136.4M476.1 133.9L470.6 130.7" stroke="#d01272" stroke-width="3.0" fill="none" stroke-linecap="round"/>
<path d="M507.2 157.0L511.2 161.0M503.5 163.0L506.8 169.9" stroke="#5a0830" stroke-width="3.0" fill="none" stroke-linecap="round"/>
<path d="M511.9 144.9L517.5 144.8M502.3 116.3L505.0 105.6M504.9 170.5L508.2 179.0M472.0 140.3L464.0 138.7M509.3 133.7L514.1 129.9" stroke="#c20e64" stroke-width="4.8" fill="none" stroke-linecap="round"/>
<path d="M494.3 126.7L494.1 120.6M488.4 128.3L486.4 123.2" stroke="#ec3c94" stroke-width="4.8" fill="none" stroke-linecap="round"/>
<path d="M480.3 161.0L474.6 167.1M474.3 159.2L468.0 163.5M483.1 161.9L478.5 168.6" stroke="#c20e64" stroke-width="3.0" fill="none" stroke-linecap="round"/>
<path d="M492.7 129.1L491.9 123.8M498.2 166.6L499.3 174.0M481.2 155.7L476.9 159.0" stroke="#c20e64" stroke-width="3.6" fill="none" stroke-linecap="round"/>
<path d="M514.0 160.1L520.9 165.6" stroke="#6d0a35" stroke-width="3.0" fill="none" stroke-linecap="round"/>
<path d="M512.1 158.2L517.9 162.7" stroke="#a0104f" stroke-width="4.2" fill="none" stroke-linecap="round"/>
<path d="M496.5 171.3L497.0 179.2" stroke="#5a0830" stroke-width="4.2" fill="none" stroke-linecap="round"/>
<path d="M493.2 173.7L492.6 184.0M478.0 125.1L471.5 117.4M484.8 156.2L480.6 160.9" stroke="#c80e66" stroke-width="4.2" fill="none" stroke-linecap="round"/>
<path d="M512.2 155.9L518.4 159.8" stroke="#8f0f48" stroke-width="3.0" fill="none" stroke-linecap="round"/>
<path d="M507.3 153.5L512.6 157.1M490.3 169.2L488.7 177.7" stroke="#6d0a35" stroke-width="4.8" fill="none" stroke-linecap="round"/>
<path d="M499.9 128.3L501.5 123.0M493.8 128.5L493.2 121.2M497.6 119.6L498.5 111.4M472.2 152.7L464.0 155.4" stroke="#d01272" stroke-width="4.8" fill="none" stroke-linecap="round"/>
<path d="M496.7 172.3L497.2 180.7" stroke="#7c0b3c" stroke-width="4.2" fill="none" stroke-linecap="round"/>
<path d="M511.9 126.5L518.6 119.2M479.5 147.9L474.8 148.8M482.1 144.2L477.8 143.9" stroke="#b00b58" stroke-width="4.2" fill="none" stroke-linecap="round"/>
<path d="M478.3 165.2L472.9 171.7" stroke="#d21676" stroke-width="4.8" fill="none" stroke-linecap="round"/>
<path d="M503.6 168.2L506.8 176.8" stroke="#8f0f48" stroke-width="3.6" fill="none" stroke-linecap="round"/>
<path d="M503.3 130.8L505.9 126.4M492.9 171.4L492.3 179.4M477.9 143.1L471.1 142.3M482.9 149.7L478.7 151.3" stroke="#c80e66" stroke-width="3.6" fill="none" stroke-linecap="round"/>
<path d="M491.2 130.6L489.9 125.6" stroke="#bc0c5e" stroke-width="3.0" fill="none" stroke-linecap="round"/>
<path d="M516.7 139.2L524.2 137.2" stroke="#6d0a35" stroke-width="4.2" fill="none" stroke-linecap="round"/>
<path d="M489.7 128.8L487.5 122.3M511.9 127.4L517.7 121.3" stroke="#bc0c5e" stroke-width="3.6" fill="none" stroke-linecap="round"/>
<path d="M492.2 173.8L491.2 184.6" stroke="#7c0b3c" stroke-width="4.8" fill="none" stroke-linecap="round"/>
<path d="M480.1 126.6L476.1 121.6M497.3 116.1L498.1 105.9M486.4 125.1L483.3 118.0" stroke="#e0207f" stroke-width="4.2" fill="none" stroke-linecap="round"/>
<path d="M482.4 149.2L478.3 150.6M489.5 125.0L487.4 117.3M515.6 148.1L523.1 149.3M473.7 143.9L467.4 143.6" stroke="#c20e64" stroke-width="4.2" fill="none" stroke-linecap="round"/>
<path d="M507.7 160.4L512.0 165.6M517.1 140.8L523.9 139.6M497.8 174.9L498.9 186.0" stroke="#a0104f" stroke-width="3.6" fill="none" stroke-linecap="round"/>
<path d="M494.3 115.5L494.1 107.2" stroke="#d21676" stroke-width="4.2" fill="none" stroke-linecap="round"/>
<path d="M482.5 127.5L478.4 121.7" stroke="#e0207f" stroke-width="4.8" fill="none" stroke-linecap="round"/>
<path d="M480.0 125.0L474.9 118.2" stroke="#b00b58" stroke-width="4.8" fill="none" stroke-linecap="round"/>
<path d="M476.8 160.0L469.9 165.6" stroke="#c80e66" stroke-width="4.8" fill="none" stroke-linecap="round"/>
<path d="M517.3 141.5L525.8 140.2" stroke="#5a0830" stroke-width="4.8" fill="none" stroke-linecap="round"/>
<path d="M497.8 119.7L498.8 110.9" stroke="#ec3c94" stroke-width="3.6" fill="none" stroke-linecap="round"/>
<path d="M500.0 121.4L501.7 113.7M480.4 166.4L475.0 174.2" stroke="#d01272" stroke-width="4.2" fill="none" stroke-linecap="round"/>
<path d="M488.1 170.4L485.6 179.6" stroke="#7c0b3c" stroke-width="3.6" fill="none" stroke-linecap="round"/>
<path d="M502.8 134.6L506.1 130.1M488.0 148.7L483.6 151.1" stroke="#c80e66" stroke-width="3.0" fill="none" stroke-linecap="round"/>
<path d="M494.8 153.5L494.6 158.9M483.4 144.4L478.9 144.2" stroke="#d21676" stroke-width="3.6" fill="none" stroke-linecap="round"/>
<path d="M498.9 141.9L501.7 139.8M494.3 148.3L493.3 152.4" stroke="#bc0c5e" stroke-width="4.2" fill="none" stroke-linecap="round"/>
<path d="M495.1 143.4L495.4 139.9" stroke="#d21676" stroke-width="4.2" fill="none" stroke-linecap="round"/>
<path d="M494.9 140.5L494.8 135.5" stroke="#d01272" stroke-width="3.0" fill="none" stroke-linecap="round"/>
<path d="M493.7 141.3L492.4 137.7" stroke="#bc0c5e" stroke-width="4.8" fill="none" stroke-linecap="round"/>
<path d="M490.5 134.5L488.5 129.9" stroke="#c20e64" stroke-width="4.8" fill="none" stroke-linecap="round"/>
<path d="M497.5 141.9L499.8 138.9" stroke="#c20e64" stroke-width="3.6" fill="none" stroke-linecap="round"/>
<path d="M491.3 148.3L488.2 151.2" stroke="#d21676" stroke-width="4.8" fill="none" stroke-linecap="round"/>
<path d="M487.2 134.7L483.7 130.1" stroke="#d01272" stroke-width="4.8" fill="none" stroke-linecap="round"/>
<path d="M495.1 157.2L495.1 161.9M483.5 144.4L479.0 144.1" stroke="#c80e66" stroke-width="4.8" fill="none" stroke-linecap="round"/>
<path d="M489.4 135.2L487.1 131.2" stroke="#c20e64" stroke-width="3.0" fill="none" stroke-linecap="round"/>
<path d="M502.0 150.0L505.9 152.8" stroke="#b00b58" stroke-width="3.0" fill="none" stroke-linecap="round"/>
<path d="M489.5 146.2L485.7 147.0" stroke="#c80e66" stroke-width="4.2" fill="none" stroke-linecap="round"/>
<path d="M487.3 144.2L483.6 143.8" stroke="#b00b58" stroke-width="4.2" fill="none" stroke-linecap="round"/>
<path d="M502.7 103.3h0M458.9 188.1h0M477.5 104.0h0M500.8 103.0h0M465.7 148.8h0M474.0 109.4h0M511.2 161.0h0M517.5 144.8h0M527.5 104.1h0M456.1 177.3h0M492.6 184.0h0M454.9 159.8h0M476.9 70.1h0M483.6 98.0h0M461.3 161.8h0M538.5 125.6h0M536.8 140.1h0M512.0 165.6h0M461.2 179.4h0M449.9 186.4h0M538.7 131.7h0M464.5 151.8h0M488.7 177.7h0M460.7 114.0h0M458.4 139.1h0M452.7 147.4h0M498.8 110.9h0M467.3 186.1h0M453.6 138.2h0M465.2 159.8h0M462.8 155.4h0M539.8 129.4h0" stroke="#f27ab8" stroke-width="4.2" fill="none" opacity="0.85" stroke-linecap="round"/>
<path d="M454.7 122.2h0M521.7 80.4h0M494.9 173.6h0M512.3 132.4h0M457.2 84.2h0M540.6 93.5h0M483.7 192.0h0M513.5 75.5h0M530.4 95.1h0M527.4 132.8h0M525.6 142.1h0M482.1 183.5h0M474.8 148.8h0M478.1 178.3h0M506.8 169.9h0M539.8 89.2h0M471.1 142.3h0M495.1 161.9h0M501.7 113.7h0M445.3 109.0h0M465.8 123.0h0" stroke="#f27ab8" stroke-width="3.4" fill="none" opacity="0.85" stroke-linecap="round"/>
</g>
<g id="flask">
<path d="M800.5,9 L800.5,30 C801,45 818,60 820,74 L838,74 C840,60 858,45 858.5,30 L858.5,9 Z" fill="url(#glass2)"/>
<ellipse cx="829.5" cy="9" rx="29" ry="7.5" fill="#e4e4e8" stroke="#b8b8bc" stroke-width="0.8"/>
<rect x="837" y="106.5" width="26" height="11" fill="#e8e8ec" stroke="#b4b4b8" stroke-width="0.8"/>
<path d="M820,96 L820,136 C816,146 792,188 778,214 C772,232 790,245 829.5,245 C869,245 887,232 881,214 C867,188 843,146 839,136 L839,96 Z" fill="url(#glass2)"/>
<g clip-path="url(#conec)">
<rect x="770" y="186" width="120" height="70" fill="url(#glass3)" opacity="0.9"/>
<rect x="770" y="166" width="120" height="22" fill="#a4a4b0" opacity="0.4" filter="url(#blur2)"/>
</g>
<rect x="819" y="74" width="20" height="24" rx="2" fill="#c49a60"/>
<rect x="823" y="76" width="6" height="20" fill="#dcc08e" opacity="0.7"/>
</g>
<g id="disc">
<path d="M1197.6 71.9L1197.4 67.4M1249.5 88.0L1250.8 86.3M1196.7 240.1L1195.5 244.5M1185.6 71.6L1186.6 66.4M1288.4 176.3L1291.4 175.7M1261.4 215.6L1263.7 216.5M1225.3 234.8L1224.9 238.0M1287.9 134.2L1291.1 134.0M1192.5 71.7L1194.2 68.0M1249.0 87.7L1254.6 85.8M1280.8 193.3L1283.9 195.5M1085.8 158.2L1082.3 160.4M1286.6 130.4L1291.2 131.4M1133.6 227.3L1128.9 231.0M1203.0 239.6L1202.4 245.3M1179.4 240.1L1180.8 243.5M1135.0 84.0L1131.9 79.5M1135.3 228.2L1135.5 231.0M1137.6 229.3L1135.8 231.5M1094.8 190.5L1089.2 192.2M1279.3 195.8L1281.6 196.0M1186.2 71.6L1184.9 68.2M1214.1 74.2L1217.6 70.8M1283.6 188.2L1286.9 189.2M1290.9 164.8L1293.2 163.7M1135.4 83.8L1133.6 81.1M1289.5 172.1L1293.8 176.0M1291.1 149.8L1295.0 150.2M1136.4 83.3L1132.4 79.0M1291.3 159.2L1294.7 161.8M1291.4 153.4L1293.9 154.2M1161.8 237.5L1163.2 241.1M1129.1 224.8L1126.7 227.6M1271.2 206.2L1276.3 209.1M1163.6 74.1L1161.7 71.8M1216.6 237.2L1217.6 239.7M1281.2 192.6L1282.8 195.9M1291.3 152.3L1296.0 150.8M1280.8 118.6L1284.8 117.9M1135.0 84.0L1132.9 82.0M1203.9 239.5L1203.6 244.4M1220.4 236.3L1218.9 241.5M1099.9 198.6L1095.2 202.2M1133.5 227.2L1129.8 229.1M1092.6 125.8L1087.7 123.4M1165.4 238.2L1162.3 241.2M1097.3 117.2L1093.6 116.8M1124.0 221.7L1119.8 225.9M1257.3 218.8L1258.9 221.6M1291.2 161.2L1293.6 162.8M1204.3 239.4L1202.9 245.0M1274.1 202.8L1277.7 204.8M1139.5 230.1L1136.8 231.6M1178.7 72.0L1176.9 66.3M1085.8 153.7L1083.3 154.3M1108.5 208.9L1104.4 210.3M1092.6 186.2L1088.8 187.5M1277.6 113.7L1281.0 109.7M1121.3 219.8L1118.8 223.2M1086.5 165.7L1081.6 164.8M1098.8 197.1L1097.3 201.2M1282.5 190.3L1287.0 190.6M1242.9 227.7L1244.0 230.5M1091.8 184.6L1089.4 185.5M1117.8 94.8L1114.4 93.3M1137.1 229.0L1136.1 233.2M1088.0 138.7L1085.6 136.7M1086.9 143.6L1082.7 140.5M1275.3 110.6L1277.4 108.2M1092.2 185.4L1089.5 187.3M1132.0 226.5L1130.1 228.4M1290.5 144.5L1292.9 143.5M1286.9 131.3L1290.5 129.0M1278.7 115.3L1281.0 112.2M1182.1 240.2L1181.2 242.5M1087.2 170.1L1084.3 172.7M1201.4 239.7L1200.2 244.2M1157.2 236.4L1157.0 239.1" stroke="#3c70c8" stroke-width="0.9" fill="none"/>
<path d="M1222.8 235.6L1225.8 237.6M1258.4 94.1L1259.2 90.8M1190.4 71.6L1192.4 68.4M1290.2 142.8L1295.2 142.8M1108.7 209.2L1105.6 213.1M1269.8 207.7L1275.4 208.8M1092.9 125.1L1088.5 123.6M1285.4 184.4L1287.5 184.6M1223.5 76.6L1222.3 71.3M1126.6 88.7L1126.1 84.7M1150.4 234.3L1150.9 237.3M1289.1 138.3L1293.2 135.3M1228.1 78.1L1227.9 74.9M1135.0 228.0L1132.7 229.1M1291.0 163.6L1292.8 164.8M1144.9 232.4L1143.7 236.6M1181.7 240.2L1180.2 245.0M1165.8 238.3L1163.7 243.3M1086.0 150.6L1081.0 152.5M1126.0 222.9L1123.1 227.4M1253.6 90.6L1253.8 88.5M1127.0 88.4L1127.2 82.6M1131.1 86.0L1128.9 81.7M1124.3 221.9L1124.3 223.9M1115.8 96.4L1112.9 94.9M1254.8 91.4L1257.2 90.3M1277.8 114.1L1281.0 112.9M1201.7 239.7L1204.9 244.4M1095.7 192.1L1090.7 194.3M1138.6 82.3L1136.7 78.3M1108.5 103.1L1106.4 101.5M1290.9 147.6L1294.6 148.3M1129.6 86.9L1124.3 84.1M1169.3 73.1L1167.8 68.3M1220.1 75.7L1218.3 70.3M1191.5 71.6L1192.0 68.6M1211.6 73.8L1215.2 70.4M1256.4 92.6L1260.3 88.2M1256.0 219.7L1256.8 223.6M1185.4 71.7L1185.8 68.4M1272.5 107.2L1273.9 105.2M1086.0 161.4L1080.5 159.8M1230.6 79.0L1232.2 76.2M1216.6 74.8L1217.7 69.1M1221.6 235.9L1222.4 240.7M1216.8 237.2L1216.4 241.3M1094.0 122.9L1091.6 123.4M1109.8 210.2L1107.7 211.8M1115.9 96.3L1114.1 95.2M1285.6 127.9L1288.1 124.5M1109.4 209.8L1106.8 210.9M1098.6 196.8L1093.3 197.3M1096.2 193.0L1090.8 191.9M1155.5 235.9L1154.4 239.2M1111.5 100.2L1108.2 98.2M1088.7 176.0L1084.9 178.1M1251.7 89.4L1254.3 86.5M1108.4 103.2L1107.8 100.9M1246.2 86.1L1247.2 83.6M1291.0 163.4L1293.4 163.2M1086.8 143.9L1084.9 142.8M1280.3 194.1L1282.7 199.3M1094.2 122.5L1089.9 123.7M1122.8 91.2L1121.0 89.1M1277.7 113.8L1279.7 113.4M1259.9 216.8L1262.2 218.9M1094.8 121.3L1092.4 118.0M1285.0 126.7L1288.8 123.2M1183.3 240.3L1186.0 244.4M1086.5 165.8L1080.8 165.2M1086.9 143.7L1083.7 141.8M1106.4 105.3L1103.4 104.4M1122.4 220.6L1120.8 224.9M1087.0 143.3L1084.9 143.5M1281.6 192.0L1286.9 192.6M1114.9 214.8L1110.0 218.1M1103.4 203.2L1099.3 206.1M1241.4 83.6L1241.6 81.5M1210.7 73.6L1211.3 71.6M1276.9 112.7L1279.3 112.7" stroke="#27509c" stroke-width="0.9" fill="none"/>
<path d="M1175.1 239.7L1173.7 241.3M1267.4 210.2L1269.9 211.5M1088.1 174.0L1085.3 177.4M1227.8 234.0L1228.8 239.1M1291.3 159.3L1294.0 160.1M1277.8 198.0L1280.6 197.6M1120.7 92.6L1118.6 90.2M1119.5 218.5L1117.1 221.3M1289.4 139.3L1294.8 139.7M1291.4 158.4L1296.2 155.2M1111.3 211.7L1109.4 212.9M1226.4 234.5L1228.7 236.4M1091.8 184.5L1088.0 186.3M1093.4 187.9L1087.7 188.3M1095.2 191.4L1091.4 193.0M1168.8 73.2L1168.6 70.7M1222.4 76.3L1226.4 73.9M1274.6 202.2L1277.1 206.5M1108.7 102.9L1107.3 100.4M1091.9 127.4L1088.2 127.1M1170.9 72.9L1173.0 68.6M1289.4 172.6L1291.5 173.5M1190.4 240.4L1189.2 243.9M1229.2 78.5L1231.3 76.7M1284.1 187.2L1288.0 188.0M1108.8 209.2L1105.1 210.5M1288.9 137.6L1293.2 134.8M1089.6 133.2L1087.7 132.1M1290.3 143.7L1294.0 144.4M1176.6 72.2L1178.1 69.1M1135.8 228.4L1134.3 233.3M1129.9 225.3L1125.5 228.0M1175.3 239.7L1174.6 243.3M1284.6 125.8L1286.5 124.6M1194.4 240.3L1196.3 242.7M1116.2 215.9L1114.0 218.4M1278.0 114.4L1282.2 114.1M1095.2 120.7L1091.3 121.6M1291.4 155.3L1294.2 155.3M1154.2 76.5L1151.5 71.7M1133.4 84.8L1129.7 81.6M1281.9 191.5L1285.1 196.5M1240.1 229.1L1243.7 231.9M1273.4 108.2L1276.2 107.6M1232.0 232.5L1231.4 237.2M1100.7 112.3L1097.7 109.7M1221.5 235.9L1220.8 238.9M1269.9 207.7L1270.7 209.8M1087.6 140.2L1084.3 141.8M1246.5 86.2L1246.6 84.1M1285.0 185.3L1290.2 188.1M1089.1 177.4L1085.8 176.3M1236.1 81.1L1235.5 75.7M1199.9 239.9L1200.6 242.6M1257.7 93.5L1259.7 90.3M1108.5 103.1L1106.1 100.4M1210.7 73.6L1212.2 72.1M1116.1 215.8L1113.1 220.3M1124.1 221.7L1122.5 224.0M1257.7 218.5L1262.3 220.7M1148.6 233.7L1146.2 237.0M1289.8 141.0L1293.3 138.3M1265.9 100.4L1268.1 99.8M1157.6 75.5L1156.6 73.0M1185.0 71.7L1186.7 67.9M1093.8 123.3L1092.4 120.6M1098.4 196.5L1095.4 199.5" stroke="#2f5fb0" stroke-width="0.9" fill="none"/>
<path d="M1094.1 189.2L1091.1 188.7M1244.8 226.7L1247.8 229.7M1287.7 133.5L1293.1 131.1M1216.6 237.2L1219.7 239.5M1270.9 105.4L1274.5 104.9M1290.6 166.9L1292.7 166.7M1119.8 218.7L1118.8 223.3M1163.1 74.3L1162.0 68.7M1216.9 74.9L1219.6 71.4M1085.8 157.8L1081.0 155.7M1114.7 214.7L1113.1 218.4M1264.4 98.9L1268.5 95.6M1110.1 210.5L1107.7 212.5M1200.1 239.9L1203.1 243.7M1255.2 91.7L1255.4 89.6M1086.2 148.1L1081.0 151.0M1086.0 150.6L1082.6 152.0M1109.1 209.5L1104.9 209.7M1271.9 106.6L1274.1 102.9M1097.9 195.7L1092.3 195.0M1237.1 230.4L1239.2 233.2M1197.7 71.9L1196.3 68.6M1108.5 209.0L1103.5 210.3M1086.1 149.2L1081.4 149.5M1260.3 95.5L1262.9 93.6M1206.7 72.9L1204.4 67.4M1244.4 226.9L1246.6 232.4M1175.1 239.7L1173.5 244.8M1200.6 72.2L1202.6 66.7M1102.0 110.6L1098.9 110.1M1200.9 239.8L1202.6 241.6M1115.2 215.1L1112.3 218.0M1087.8 172.7L1085.4 172.9M1099.1 114.5L1095.0 114.6M1223.8 76.7L1225.4 72.4M1282.6 190.2L1284.6 192.6M1123.6 90.6L1122.6 84.9M1092.2 126.7L1087.1 126.5M1095.5 191.8L1092.6 192.3M1180.9 71.8L1181.4 67.0M1086.0 161.6L1080.0 161.6M1099.9 198.6L1098.0 200.4M1267.5 101.9L1272.6 100.2M1291.3 151.8L1297.0 150.4M1196.3 71.8L1197.1 66.9M1095.7 192.1L1093.2 193.4M1180.7 240.1L1179.5 242.5M1112.9 98.9L1110.8 96.4M1087.0 142.8L1083.3 143.2M1236.1 230.8L1240.2 232.8M1092.2 126.6L1087.9 128.0M1233.7 231.8L1235.2 234.9M1236.4 230.7L1236.4 235.3M1142.4 231.4L1141.2 237.0M1208.9 73.3L1212.9 69.3M1275.2 201.5L1277.0 206.5M1088.5 136.7L1084.7 138.4M1236.6 81.4L1237.7 76.7M1115.9 96.3L1112.1 94.8M1086.0 161.6L1081.9 164.1M1276.7 199.5L1281.3 200.9M1224.2 76.8L1224.2 74.0M1175.2 72.3L1176.1 66.5M1257.3 93.2L1258.5 88.8M1213.8 74.2L1212.2 69.0M1129.2 224.9L1127.0 226.0M1255.2 91.7L1256.3 89.0M1237.0 230.4L1240.7 234.6M1288.0 177.4L1289.4 178.9M1188.5 71.6L1188.5 67.7M1086.3 147.6L1084.0 148.5M1202.3 239.6L1203.9 244.3M1202.3 239.6L1202.6 245.0M1095.5 191.8L1092.6 195.6M1201.2 239.8L1201.0 243.2" stroke="#5b8fd6" stroke-width="0.9" fill="none"/>
<ellipse cx="1188.6" cy="156" rx="106" ry="87" fill="url(#discg)"/>
<ellipse cx="1188.6" cy="156" rx="103" ry="84" fill="#fff" filter="url(#speck)" opacity="0.85"/>
<ellipse cx="1188.6" cy="158" rx="104" ry="85" fill="none" stroke="#22448e" stroke-width="3" opacity="0.6" filter="url(#blur2)"/>
<ellipse cx="1186.5" cy="114" rx="52" ry="66" fill="#4450c0" filter="url(#blur2)"/>
<path d="M1219.5 71.9L1221.0 64.4M1229.6 90.9L1236.8 91.3M1194.6 172.5L1197.4 175.6M1153.2 72.3L1150.1 68.4M1186.1 173.4L1186.9 177.7M1229.8 91.4L1233.1 87.2M1228.9 139.2L1232.9 140.2M1202.2 58.1L1201.4 52.7M1188.2 54.6L1190.9 48.6M1159.8 162.8L1158.6 167.8M1230.0 92.0L1232.9 88.7M1211.5 63.8L1214.0 57.3M1192.9 172.8L1193.1 176.6M1183.8 54.7L1181.8 48.3M1226.3 145.3L1229.1 150.8M1192.2 55.0L1192.8 47.7M1222.4 75.8L1227.8 71.2M1232.4 102.7L1236.4 103.2M1211.1 164.5L1212.5 169.7M1201.8 170.1L1202.8 177.9M1144.8 87.1L1139.9 87.2M1233.1 119.7L1239.2 116.8M1205.7 168.2L1207.1 171.1M1169.3 58.8L1169.2 51.2M1230.3 134.9L1235.7 135.3M1141.2 128.9L1135.0 132.7M1218.6 70.8L1221.8 65.4M1213.7 65.6L1217.2 59.0M1203.9 169.2L1203.5 175.5M1165.1 166.8L1163.6 171.8M1141.5 130.4L1139.4 132.9M1195.5 55.7L1195.3 50.8M1214.1 66.0L1217.1 64.7M1188.4 173.4L1189.0 176.3M1147.0 145.9L1144.6 149.5M1229.7 91.3L1235.3 89.3M1155.2 158.1L1150.4 161.5M1170.0 58.4L1169.2 53.5M1202.6 58.2L1205.1 54.0M1155.3 158.2L1149.6 161.0M1228.4 87.4L1231.7 86.8M1231.1 95.9L1237.0 91.4M1233.3 113.9L1237.9 112.1M1229.2 138.2L1236.0 139.2M1165.8 167.3L1161.4 173.8" stroke="#3a44b0" stroke-width="0.8" fill="none" opacity="0.7"/>
<path d="M1155.4 69.6L1151.5 68.6M1232.5 124.8L1237.4 128.6M1178.1 172.4L1176.8 177.3M1232.9 121.7L1236.4 120.3M1216.7 68.6L1218.1 62.2M1153.6 156.3L1151.0 158.1M1200.0 57.1L1203.5 50.9M1206.1 60.0L1209.2 57.8M1231.4 131.0L1236.4 130.6M1160.6 163.5L1159.5 169.8M1142.3 133.6L1135.5 137.7M1165.3 61.1L1164.9 57.5M1206.9 60.5L1206.6 56.0M1161.5 63.8L1158.0 59.1M1143.7 90.0L1139.1 90.1M1223.2 150.8L1230.1 154.1M1210.2 62.8L1213.0 60.4M1190.6 173.2L1192.5 176.4M1233.1 108.4L1240.7 110.2M1220.3 72.9L1227.1 70.8M1142.6 134.4L1138.4 134.3M1228.0 141.5L1235.4 140.8M1206.4 167.8L1209.5 174.3M1149.7 150.8L1147.1 157.1M1161.0 64.2L1157.2 62.0M1222.1 75.4L1225.8 68.5M1169.9 58.5L1169.0 55.3M1207.9 61.2L1209.8 56.6M1215.4 160.7L1219.4 164.8M1187.4 173.4L1187.9 176.9M1159.8 162.8L1153.2 166.6M1227.9 86.3L1231.3 80.2M1155.6 158.6L1153.0 162.1M1153.7 71.6L1152.2 68.7M1180.1 55.2L1182.4 49.4M1226.5 144.8L1229.4 150.8M1187.1 173.4L1186.3 177.4M1228.8 139.3L1230.7 142.0M1210.7 63.1L1212.7 57.6M1172.2 170.6L1167.6 176.1M1216.7 159.3L1220.0 166.6M1151.1 152.9L1147.2 156.0M1212.2 163.6L1212.5 168.0M1159.3 162.4L1158.3 169.2M1178.7 172.6L1181.6 179.3M1142.5 93.9L1137.5 91.8M1211.4 164.3L1214.7 168.3M1232.6 123.9L1235.9 124.2M1232.8 122.6L1238.0 125.0M1140.0 121.0L1135.5 120.0M1198.8 56.7L1199.4 49.0M1146.6 145.0L1140.3 148.9M1207.6 61.0L1207.9 54.4M1184.3 54.7L1184.6 50.7M1187.9 54.6L1189.4 49.7M1173.4 57.0L1171.6 53.6M1218.0 70.0L1223.0 66.5M1229.4 90.3L1232.2 86.3M1175.2 56.3L1176.4 50.9" stroke="#5460cc" stroke-width="0.8" fill="none" opacity="0.7"/>
<path d="M1143.3 136.9L1138.4 138.7M1141.4 98.2L1136.6 95.7M1218.6 70.8L1222.2 65.9M1182.8 54.8L1180.0 50.3M1182.2 54.9L1182.4 48.5M1233.2 117.5L1240.1 119.5M1163.3 62.4L1163.3 57.6M1210.6 63.1L1214.9 58.3M1224.9 80.0L1227.3 75.8M1233.1 108.4L1237.6 107.2M1228.3 87.4L1234.2 82.7M1149.5 150.4L1145.9 155.2M1176.2 171.9L1174.1 176.2M1228.8 88.5L1235.5 84.2M1166.8 167.9L1164.6 173.9M1166.1 167.5L1166.1 172.1M1216.8 68.8L1220.2 61.7M1213.2 162.8L1215.6 166.1M1146.5 83.2L1141.6 78.0M1139.9 119.3L1133.0 117.5M1211.7 164.1L1212.1 167.6M1207.3 60.8L1209.9 57.7M1145.7 84.8L1140.0 80.6M1187.6 173.4L1187.6 178.4M1150.4 151.8L1144.0 152.6M1147.1 82.0L1141.8 81.0M1232.6 104.1L1238.6 103.2M1171.7 170.4L1169.7 174.0M1146.9 82.4L1143.7 81.4M1229.1 89.5L1232.6 87.8M1212.1 163.8L1215.8 168.0M1154.0 71.2L1148.2 69.8M1140.9 100.5L1138.4 98.3M1167.3 168.2L1166.8 172.6M1140.1 106.1L1137.1 104.7M1225.8 81.8L1231.4 77.4M1153.5 71.9L1148.9 67.8M1153.0 155.5L1151.1 157.8M1194.5 172.5L1197.6 178.4M1215.9 160.3L1217.9 165.1M1205.9 59.9L1209.9 56.1M1211.5 164.2L1211.9 169.3M1148.6 148.8L1143.4 150.0M1146.9 82.4L1140.1 80.3M1140.9 127.4L1136.6 126.1M1158.0 161.1L1157.0 167.1M1232.9 121.6L1237.4 123.2M1233.3 115.0L1238.2 114.3M1213.6 65.5L1217.6 63.5M1183.4 173.3L1184.8 177.2M1184.1 173.3L1183.0 179.0M1160.6 64.6L1155.4 59.4M1158.1 66.7L1155.9 62.1M1196.9 56.1L1197.3 49.4M1185.4 173.4L1185.3 179.8M1168.3 59.3L1164.8 54.5" stroke="#4a56c4" stroke-width="0.8" fill="none" opacity="0.7"/>
<ellipse cx="1186.5" cy="114" rx="47.84" ry="60.720000000000006" fill="url(#blobg)" filter="url(#blur1)"/>
<path d="M1197.3 80.4h0M1190.9 100.6h0M1227.8 116.9h0M1161.2 145.9h0M1230.4 119.9h0M1183.8 71.7h0" stroke="#9a2a8c" stroke-width="5.5" fill="none" opacity="0.85" stroke-linecap="round"/>
<path d="M1153.8 101.6h0M1173.0 72.2h0M1217.6 116.3h0M1219.1 95.7h0M1198.3 134.1h0" stroke="#b03098" stroke-width="5.5" fill="none" opacity="0.85" stroke-linecap="round"/>
<path d="M1149.0 120.8h0M1153.2 115.7h0M1219.5 130.9h0M1210.0 116.9h0M1209.4 121.2h0M1187.1 157.0h0M1204.1 146.2h0" stroke="#8a2a80" stroke-width="3.5" fill="none" opacity="0.85" stroke-linecap="round"/>
<path d="M1176.7 159.1h0M1172.4 123.1h0M1181.5 95.4h0M1159.6 120.6h0" stroke="#b8309a" stroke-width="5.5" fill="none" opacity="0.85" stroke-linecap="round"/>
<path d="M1185.3 107.4h0M1213.5 149.5h0M1191.2 158.3h0M1190.8 92.0h0" stroke="#8a2a80" stroke-width="4.5" fill="none" opacity="0.85" stroke-linecap="round"/>
<path d="M1180.4 64.1h0M1179.1 120.8h0M1163.3 90.3h0M1212.6 88.3h0M1150.7 116.2h0" stroke="#6a2a98" stroke-width="3.5" fill="none" opacity="0.85" stroke-linecap="round"/>
<path d="M1183.0 88.9h0M1191.3 142.6h0M1195.4 88.1h0M1183.0 169.7h0M1188.1 167.4h0M1160.4 132.3h0" stroke="#b03098" stroke-width="4.5" fill="none" opacity="0.85" stroke-linecap="round"/>
<path d="M1155.7 123.0h0M1186.9 114.6h0M1213.2 118.4h0M1168.9 103.1h0" stroke="#b8309a" stroke-width="3.5" fill="none" opacity="0.85" stroke-linecap="round"/>
<path d="M1190.6 132.4h0M1223.3 136.3h0M1181.7 99.4h0M1229.3 119.4h0M1175.9 85.2h0" stroke="#2a7aa8" stroke-width="5.5" fill="none" opacity="0.85" stroke-linecap="round"/>
<path d="M1146.8 138.6h0M1181.9 102.8h0M1198.4 137.9h0M1220.0 101.5h0M1155.7 124.4h0M1207.9 66.5h0M1163.0 136.5h0M1217.4 136.7h0" stroke="#9a2a8c" stroke-width="4.5" fill="none" opacity="0.85" stroke-linecap="round"/>
<path d="M1154.0 107.2h0M1186.9 69.3h0M1161.5 152.3h0M1152.5 99.2h0M1183.6 70.6h0M1203.7 75.9h0M1181.9 124.4h0M1156.4 141.3h0M1195.4 167.9h0M1217.2 127.4h0" stroke="#3a48c0" stroke-width="4.5" fill="none" opacity="0.85" stroke-linecap="round"/>
<path d="M1187.0 111.4h0" stroke="#2a7aa8" stroke-width="3.5" fill="none" opacity="0.85" stroke-linecap="round"/>
<path d="M1186.2 69.7h0M1214.5 134.7h0M1205.1 130.7h0M1205.1 126.2h0M1225.4 119.5h0M1171.4 149.9h0M1193.4 97.0h0" stroke="#6a2a98" stroke-width="5.5" fill="none" opacity="0.85" stroke-linecap="round"/>
<path d="M1212.9 151.1h0M1182.0 65.1h0M1197.2 150.4h0M1202.4 91.8h0M1192.5 88.5h0M1198.3 133.5h0M1200.8 88.3h0" stroke="#b03098" stroke-width="3.5" fill="none" opacity="0.85" stroke-linecap="round"/>
<path d="M1184.5 63.8h0M1218.3 140.6h0M1219.9 78.6h0M1168.9 88.7h0" stroke="#6a2a98" stroke-width="4.5" fill="none" opacity="0.85" stroke-linecap="round"/>
<path d="M1202.1 157.2h0M1186.4 163.3h0M1168.5 136.6h0M1196.4 62.1h0M1158.2 145.9h0M1210.5 113.2h0M1146.6 99.2h0" stroke="#2a7aa8" stroke-width="4.5" fill="none" opacity="0.85" stroke-linecap="round"/>
<path d="M1185.1 80.5h0M1187.8 58.9h0M1176.0 88.3h0M1172.5 77.8h0M1174.0 159.7h0M1171.2 121.2h0" stroke="#8a2a80" stroke-width="5.5" fill="none" opacity="0.85" stroke-linecap="round"/>
<path d="M1159.9 122.5h0M1190.7 63.7h0M1217.5 80.8h0M1162.6 90.0h0M1230.3 116.6h0M1185.6 93.2h0" stroke="#3a48c0" stroke-width="5.5" fill="none" opacity="0.85" stroke-linecap="round"/>
<path d="M1165.2 94.5h0M1213.4 138.9h0M1211.8 84.2h0M1205.9 95.8h0" stroke="#9a2a8c" stroke-width="3.5" fill="none" opacity="0.85" stroke-linecap="round"/>
<path d="M1177.8 106.8h0M1176.6 113.3h0M1207.1 87.8h0M1220.5 118.0h0M1180.2 69.9h0M1181.5 144.4h0M1189.1 87.2h0M1178.2 164.7h0" stroke="#b8309a" stroke-width="4.5" fill="none" opacity="0.85" stroke-linecap="round"/>
<path d="M1175.8 99.7h0M1225.4 139.8h0M1189.9 102.4h0M1187.8 165.4h0M1205.2 119.5h0M1152.6 83.7h0" stroke="#3a48c0" stroke-width="3.5" fill="none" opacity="0.85" stroke-linecap="round"/>
</g>
<text transform="translate(2.5,286.0) scale(0.72,1)" font-size="36.0" font-weight="bold" fill="#111" textLength="406.2" lengthAdjust="spacing" >Hydrothermal Synthesis</text>
<text transform="translate(428.5,286.5) scale(0.72,1)" font-size="34.4" font-weight="bold" fill="#111" textLength="177.1" lengthAdjust="spacing" >Co-FeOOH</text>
<text transform="translate(621.0,111.0) scale(0.74,1)" font-size="35.1" font-weight="bold" fill="#111" textLength="164.9" lengthAdjust="spacing" >MWCNTs</text>
<text transform="translate(665.5,195.6) scale(0.74,1)" font-size="33.9" font-weight="bold" fill="#111" textLength="45.3" lengthAdjust="spacing" >PP</text>
<text transform="translate(724.0,286.5) scale(0.72,1)" font-size="33.6" font-weight="bold" fill="#111" textLength="283.3" lengthAdjust="spacing" >Vacuum Filtration</text>
<text transform="translate(1043.0,287.8) scale(0.72,1)" font-size="33.0" font-weight="bold" fill="#111" textLength="394.4" lengthAdjust="spacing" >Co-FeOOH/MWCNTs/PP</text>
<g id="chart">
<g clip-path="url(#plotc)">
<polyline points="828.0,690.0 832.0,677.0 838.0,667.0 847.0,658.0 860.0,651.0 878.0,645.0 900.0,641.0 942.0,636.0 1005.0,631.0 1069.0,629.0 1132.0,628.0 1200.0,628.0 1260.0,628.0" fill="none" stroke="#56cc56" stroke-width="17" stroke-linejoin="round" stroke-linecap="round"/>
<polyline points="828.0,690.0 832.0,677.0 838.0,667.0 847.0,658.0 860.0,651.0 878.0,645.0 900.0,641.0 942.0,636.0 1005.0,631.0 1069.0,629.0 1132.0,628.0 1200.0,628.0 1260.0,628.0" fill="none" stroke="#28aa28" stroke-width="15" stroke-linejoin="round" stroke-linecap="round"/>
<polyline points="828.0,690.0 829.0,686.7 830.1,683.3 831.1,680.0 832.2,676.7 834.0,673.7 835.8,670.7 837.6,667.7 839.9,665.1 842.4,662.6 844.9,660.1 847.4,657.8 850.5,656.1 853.6,654.4 856.7,652.8 859.8,651.1 863.1,650.0 866.4,648.9 869.7,647.8 873.0,646.7 876.4,645.5 879.7,644.7 883.2,644.1 886.6,643.4 890.1,642.8 893.5,642.2 897.0,641.6 900.4,641.0 903.9,640.5 907.4,640.1 910.8,639.7 914.3,639.3 917.8,638.9 921.3,638.5 924.7,638.1 928.2,637.6 931.7,637.2 935.2,636.8 938.6,636.4 942.1,636.0 945.6,635.7 949.1,635.4 952.6,635.2 956.1,634.9 959.6,634.6 963.0,634.3 966.5,634.1 970.0,633.8 973.5,633.5 977.0,633.2 980.5,632.9 984.0,632.7 987.5,632.4 991.0,632.1 994.4,631.8 997.9,631.6 1001.4,631.3 1004.9,631.0 1008.4,630.9 1011.9,630.8 1015.4,630.7 1018.9,630.6 1022.4,630.5 1025.9,630.3 1029.4,630.2 1032.9,630.1 1036.4,630.0 1039.9,629.9 1043.4,629.8 1046.9,629.7 1050.4,629.6 1053.9,629.5 1057.4,629.4 1060.9,629.3 1064.4,629.1 1067.9,629.0 1071.4,629.0 1074.9,628.9 1078.4,628.9 1081.9,628.8 1085.4,628.7 1088.9,628.7 1092.4,628.6 1095.9,628.6 1099.4,628.5 1102.9,628.5 1106.4,628.4 1109.9,628.4 1113.4,628.3 1116.9,628.2 1120.4,628.2 1123.9,628.1 1127.4,628.1 1130.9,628.0 1134.4,628.0 1137.9,628.0 1141.4,628.0 1144.9,628.0 1148.4,628.0 1151.9,628.0 1155.4,628.0 1158.9,628.0 1162.4,628.0 1165.9,628.0 1169.4,628.0 1172.9,628.0 1176.4,628.0 1179.9,628.0 1183.4,628.0 1186.9,628.0 1190.4,628.0 1193.9,628.0 1197.4,628.0 1200.9,628.0 1204.4,628.0 1207.9,628.0 1211.4,628.0 1214.9,628.0 1218.4,628.0 1221.9,628.0 1225.4,628.0 1228.9,628.0 1232.4,628.0 1235.9,628.0 1239.4,628.0 1242.9,628.0 1246.4,628.0 1249.9,628.0 1253.4,628.0 1256.9,628.0" fill="none" stroke="none" marker-start="url(#mk1)" marker-mid="url(#mk1)" marker-end="url(#mk1)"/>
<polyline points="831.0,517.0 840.0,522.0 850.0,529.0 862.0,537.0 880.0,546.0 900.0,556.0 920.0,564.0 940.0,570.0 958.0,574.0 980.0,578.0 1005.0,582.0 1030.0,585.0 1053.0,588.0 1080.0,591.0 1108.0,593.0" fill="none" stroke="#ff8ac6" stroke-width="17" stroke-linejoin="round" stroke-linecap="round"/>
<polyline points="831.0,517.0 840.0,522.0 850.0,529.0 862.0,537.0 880.0,546.0 900.0,556.0 920.0,564.0 940.0,570.0 958.0,574.0 980.0,578.0 1005.0,582.0 1030.0,585.0 1053.0,588.0 1080.0,591.0 1108.0,593.0" fill="none" stroke="#f23892" stroke-width="15" stroke-linejoin="round" stroke-linecap="round"/>
<polyline points="831.0,517.0 834.1,518.7 837.1,520.4 840.2,522.1 843.0,524.1 845.9,526.1 848.8,528.1 851.7,530.1 854.6,532.0 857.5,534.0 860.4,535.9 863.4,537.7 866.5,539.3 869.7,540.8 872.8,542.4 875.9,544.0 879.1,545.5 882.2,547.1 885.3,548.7 888.5,550.2 891.6,551.8 894.7,553.4 897.8,554.9 901.0,556.4 904.3,557.7 907.5,559.0 910.8,560.3 914.0,561.6 917.3,562.9 920.5,564.2 923.9,565.2 927.2,566.2 930.6,567.2 933.9,568.2 937.3,569.2 940.7,570.1 944.1,570.9 947.5,571.7 950.9,572.4 954.3,573.2 957.7,573.9 961.2,574.6 964.6,575.2 968.1,575.8 971.5,576.5 975.0,577.1 978.4,577.7 981.8,578.3 985.3,578.8 988.8,579.4 992.2,580.0 995.7,580.5 999.1,581.1 1002.6,581.6 1006.0,582.1 1009.5,582.5 1013.0,583.0 1016.5,583.4 1019.9,583.8 1023.4,584.2 1026.9,584.6 1030.4,585.0 1033.8,585.5 1037.3,586.0 1040.8,586.4 1044.3,586.9 1047.7,587.3 1051.2,587.8 1054.7,588.2 1058.1,588.6 1061.6,589.0 1065.1,589.3 1068.6,589.7 1072.1,590.1 1075.5,590.5 1079.0,590.9 1082.5,591.2 1086.0,591.4 1089.5,591.7 1093.0,591.9 1096.5,592.2 1100.0,592.4 1103.5,592.7 1106.9,592.9" fill="none" stroke="none" marker-start="url(#mk2)" marker-mid="url(#mk2)" marker-end="url(#mk2)"/>
<polyline points="843.0,513.0 852.0,511.0 864.0,512.0 878.0,515.0 895.0,518.0 907.0,522.0 918.0,528.0 930.0,532.0 940.0,534.0" fill="none" stroke="#b070ff" stroke-width="17" stroke-linejoin="round" stroke-linecap="round"/>
<polyline points="843.0,513.0 852.0,511.0 864.0,512.0 878.0,515.0 895.0,518.0 907.0,522.0 918.0,528.0 930.0,532.0 940.0,534.0" fill="none" stroke="#8a2ee6" stroke-width="15" stroke-linejoin="round" stroke-linecap="round"/>
<polyline points="843.0,513.0 846.9,512.1 850.8,511.3 854.8,511.2 858.8,511.6 862.7,511.9 866.7,512.6 870.6,513.4 874.5,514.3 878.4,515.1 882.4,515.8 886.3,516.5 890.2,517.2 894.2,517.9 898.0,519.0 901.8,520.3 905.6,521.5 909.2,523.2 912.7,525.1 916.2,527.0 919.9,528.6 923.7,529.9 927.5,531.2 931.3,532.3 935.2,533.0 939.1,533.8" fill="none" stroke="none" marker-start="url(#mk3)" marker-mid="url(#mk3)" marker-end="url(#mk3)"/>
<polyline points="826.0,384.0 829.0,396.0 833.0,410.0 838.0,421.0 846.0,432.0 855.0,446.0 864.0,458.0 875.0,456.0 888.0,454.0 905.0,451.0 917.0,449.0 930.0,458.0 942.0,466.0 958.0,467.0 974.0,467.0 990.0,472.0 1005.0,478.0 1018.0,476.0 1030.0,474.0 1045.0,474.0 1060.0,476.0 1075.0,477.0 1089.0,478.0 1110.0,477.0 1125.0,475.0 1142.0,473.0 1150.0,483.0 1165.0,482.0 1180.0,481.0 1192.0,483.0 1210.0,488.0 1225.0,492.0 1236.0,496.0 1250.0,497.0 1265.0,499.0 1280.0,503.0 1295.0,507.0 1306.0,511.0" fill="none" stroke="#6ad6d4" stroke-width="16" stroke-linejoin="round" stroke-linecap="round"/>
<polyline points="826.0,384.0 829.0,396.0 833.0,410.0 838.0,421.0 846.0,432.0 855.0,446.0 864.0,458.0 875.0,456.0 888.0,454.0 905.0,451.0 917.0,449.0 930.0,458.0 942.0,466.0 958.0,467.0 974.0,467.0 990.0,472.0 1005.0,478.0 1018.0,476.0 1030.0,474.0 1045.0,474.0 1060.0,476.0 1075.0,477.0 1089.0,478.0 1110.0,477.0 1125.0,475.0 1142.0,473.0 1150.0,483.0 1165.0,482.0 1180.0,481.0 1192.0,483.0 1210.0,488.0 1225.0,492.0 1236.0,496.0 1250.0,497.0 1265.0,499.0 1280.0,503.0 1295.0,507.0 1306.0,511.0" fill="none" stroke="#1e9592" stroke-width="14" stroke-linejoin="round" stroke-linecap="round"/>
<polyline points="826.0,383.7 827.1,387.3 828.2,393.2 829.3,396.9 830.5,401.3 831.8,406.9 833.0,411.0 834.9,413.1 836.8,418.3 838.9,422.8 841.5,425.0 844.2,429.0 846.7,434.0 849.2,438.3 851.6,441.4 854.0,444.3 856.6,448.7 859.3,453.0 862.0,454.2 865.2,456.5 869.7,457.3 874.1,457.5 878.5,456.7 883.0,454.0 887.4,453.6 891.8,454.1 896.3,452.3 900.7,450.8 905.1,450.9 909.6,450.5 914.0,448.9 918.2,450.5 921.9,452.6 925.6,454.8 929.3,456.8 933.1,461.4 936.8,461.2 940.5,464.5 944.7,465.8 949.2,466.3 953.7,466.0 958.2,468.2 962.7,466.3 967.2,467.9 971.7,467.2 976.1,468.4 980.4,470.1 984.7,470.1 989.0,470.3 993.2,473.0 997.4,473.5 1001.6,475.2 1005.8,476.6 1010.2,476.1 1014.7,477.7 1019.1,476.6 1023.6,474.3 1028.0,473.1 1032.5,472.6 1037.0,473.8 1041.5,473.8 1046.0,475.3 1050.4,474.4 1054.9,475.5 1059.4,476.2 1063.8,475.4 1068.3,475.8 1072.8,476.0 1077.3,476.7 1081.8,477.9 1086.3,477.6 1090.8,479.0 1095.3,478.0 1099.8,476.6 1104.3,476.8 1108.8,478.3 1113.2,475.1 1117.7,475.7 1122.1,475.3 1126.6,473.8 1131.1,475.1 1135.5,475.1 1140.0,472.6 1143.6,474.6 1146.4,477.7 1149.2,482.6 1153.2,481.3 1157.7,482.4 1162.2,481.0 1166.7,482.5 1171.2,481.9 1175.6,481.5 1180.1,481.6 1184.6,480.7 1189.0,483.8 1193.4,484.5 1197.7,483.9 1202.1,486.0 1206.4,487.1 1210.8,489.4 1215.1,489.7 1219.5,490.5 1223.8,490.8 1228.1,492.5 1232.3,494.7 1236.6,494.5 1241.0,495.9 1245.5,496.2 1250.0,497.5 1254.5,498.1 1258.9,497.0 1263.4,498.2 1267.8,500.8 1272.1,499.6 1276.5,501.7 1280.8,502.0 1285.2,503.7 1289.5,507.0 1293.9,506.5 1298.1,509.3 1302.4,508.4" fill="none" stroke="none" marker-start="url(#mk4)" marker-mid="url(#mk4)" marker-end="url(#mk4)"/>
<polyline points="1045.0,474.0 1060.0,476.0 1075.0,477.0 1089.0,478.0 1110.0,477.0 1125.0,475.0 1142.0,473.0 1150.0,483.0 1165.0,482.0 1180.0,481.0 1192.0,483.0 1210.0,488.0 1225.0,492.0 1236.0,496.0 1250.0,497.0 1265.0,499.0 1280.0,503.0 1295.0,507.0 1306.0,511.0" fill="none" stroke="#7ee0de" stroke-width="19" stroke-linejoin="round" stroke-linecap="round"/>
<polyline points="1045.0,474.0 1060.0,476.0 1075.0,477.0 1089.0,478.0 1110.0,477.0 1125.0,475.0 1142.0,473.0 1150.0,483.0 1165.0,482.0 1180.0,481.0 1192.0,483.0 1210.0,488.0 1225.0,492.0 1236.0,496.0 1250.0,497.0 1265.0,499.0 1280.0,503.0 1295.0,507.0 1306.0,511.0" fill="none" stroke="#1e9592" stroke-width="17" stroke-linejoin="round" stroke-linecap="round"/>
<polyline points="1045.0,474.7 1050.9,475.0 1056.9,474.1 1062.9,477.8 1068.8,474.5 1074.8,477.8 1080.8,478.3 1086.8,475.4 1092.8,478.3 1098.8,476.2 1104.8,479.7 1110.8,479.5 1116.7,474.9 1122.7,477.8 1128.6,473.9 1134.6,473.6 1140.5,473.6 1144.8,477.7 1148.6,481.8 1153.7,485.5 1159.7,481.2 1165.7,484.1 1171.7,479.1 1177.7,480.9 1183.6,479.2 1189.5,480.7 1195.4,486.6 1201.1,483.8 1206.9,489.5 1212.7,489.7 1218.5,489.8 1224.3,491.9 1230.0,494.1 1235.6,494.7 1241.6,495.5 1247.5,498.0 1253.5,498.4 1259.5,496.1 1265.4,498.1 1271.2,500.8 1277.0,504.3 1282.8,501.4 1288.6,507.2 1294.4,508.2 1300.0,509.1 1305.7,508.4" fill="none" stroke="none" marker-start="url(#mk5)" marker-mid="url(#mk5)" marker-end="url(#mk5)"/>
<ellipse cx="1108.0" cy="479.9" rx="4.2" ry="6.5" fill="#c8f4f2" opacity="0.55"/>
<ellipse cx="1207.8" cy="483.9" rx="4.2" ry="6.5" fill="#c8f4f2" opacity="0.55"/>
<ellipse cx="1191.5" cy="481.5" rx="4.2" ry="6.5" fill="#c8f4f2" opacity="0.55"/>
<ellipse cx="1246.4" cy="492.5" rx="4.2" ry="6.5" fill="#c8f4f2" opacity="0.55"/>
<ellipse cx="1118.7" cy="472.7" rx="4.2" ry="6.5" fill="#c8f4f2" opacity="0.55"/>
<ellipse cx="1219.0" cy="493.6" rx="4.2" ry="6.5" fill="#c8f4f2" opacity="0.55"/>
<ellipse cx="1290.9" cy="505.3" rx="4.2" ry="6.5" fill="#c8f4f2" opacity="0.55"/>
<ellipse cx="1182.3" cy="485.7" rx="4.2" ry="6.5" fill="#c8f4f2" opacity="0.55"/>
<ellipse cx="1286.7" cy="506.0" rx="4.2" ry="6.5" fill="#c8f4f2" opacity="0.55"/>
<ellipse cx="1096.0" cy="478.0" rx="4.2" ry="6.5" fill="#c8f4f2" opacity="0.55"/>
<ellipse cx="1205.4" cy="489.8" rx="4.2" ry="6.5" fill="#c8f4f2" opacity="0.55"/>
<ellipse cx="1089.6" cy="480.2" rx="4.2" ry="6.5" fill="#c8f4f2" opacity="0.55"/>
<ellipse cx="1219.5" cy="488.3" rx="4.2" ry="6.5" fill="#c8f4f2" opacity="0.55"/>
<ellipse cx="1101.9" cy="482.3" rx="4.2" ry="6.5" fill="#c8f4f2" opacity="0.55"/>
<ellipse cx="1134.1" cy="473.7" rx="4.2" ry="6.5" fill="#c8f4f2" opacity="0.55"/>
<ellipse cx="1103.5" cy="472.3" rx="4.2" ry="6.5" fill="#c8f4f2" opacity="0.55"/>
<ellipse cx="1177.7" cy="483.0" rx="4.2" ry="6.5" fill="#c8f4f2" opacity="0.55"/>
<ellipse cx="1114.1" cy="475.2" rx="4.2" ry="6.5" fill="#c8f4f2" opacity="0.55"/>
<ellipse cx="1247.7" cy="496.1" rx="4.2" ry="6.5" fill="#c8f4f2" opacity="0.55"/>
<ellipse cx="1141.4" cy="471.1" rx="4.2" ry="6.5" fill="#c8f4f2" opacity="0.55"/>
<ellipse cx="1188.5" cy="487.3" rx="4.2" ry="6.5" fill="#c8f4f2" opacity="0.55"/>
<ellipse cx="1106.0" cy="476.9" rx="4.2" ry="6.5" fill="#c8f4f2" opacity="0.55"/>
<ellipse cx="1103.6" cy="473.9" rx="4.2" ry="6.5" fill="#c8f4f2" opacity="0.55"/>
<ellipse cx="1131.9" cy="474.4" rx="4.2" ry="6.5" fill="#c8f4f2" opacity="0.55"/>
<ellipse cx="1193.3" cy="484.3" rx="4.2" ry="6.5" fill="#c8f4f2" opacity="0.55"/>
<ellipse cx="1218.0" cy="486.7" rx="4.2" ry="6.5" fill="#c8f4f2" opacity="0.55"/>
<line x1="826" y1="572" x2="827.5" y2="518" stroke="#f0248a" stroke-width="5"/>
<ellipse cx="826.5" cy="631" rx="5" ry="6.5" fill="#e0206f"/>
<path d="M826,402 l5,8 l-5,8 l-3,-8 Z" fill="#7a1fe0"/>
<ellipse cx="828" cy="392" rx="5" ry="8" fill="#1e9592"/>
</g>
<ellipse cx="1307" cy="511" rx="6" ry="8" fill="#d9f4f4" stroke="#1e9592" stroke-width="2"/>
<path d="M942,524 l7,11 l-7,11 l-7,-11 Z" fill="#e9d8ff" stroke="#7a1fe0" stroke-width="2.5"/>
<ellipse cx="1110" cy="593" rx="6" ry="8" fill="#ffd0e8" stroke="#f0248a" stroke-width="2"/>
<path d="M1262,620 l2.5,6 l6,0.5 l-4.5,4 l1.5,6.5 l-5.5,-3.5 l-5.5,3.5 l1.5,-6.5 l-4.5,-4 l6,-0.5 Z" fill="#7ad27a" stroke="#1a8a1a" stroke-width="1.5"/>
<path d="M826,722 l2,4.5 l4.5,0.5 l-3.5,3 l1,5 l-4,-2.5 l-4,2.5 l1,-5 l-3.5,-3 l4.5,-0.5 Z" fill="#3a9a3a"/>
<rect x="824.5" y="319.2" width="502" height="413.4" fill="none" stroke="#000" stroke-width="3.4"/>
<line x1="818.5" y1="732.6" x2="824.5" y2="732.6" stroke="#000" stroke-width="2.5"/>
<line x1="821.0" y1="685.7" x2="824.5" y2="685.7" stroke="#000" stroke-width="2.5"/>
<line x1="818.5" y1="638.8" x2="824.5" y2="638.8" stroke="#000" stroke-width="2.5"/>
<line x1="821.0" y1="591.9" x2="824.5" y2="591.9" stroke="#000" stroke-width="2.5"/>
<line x1="818.5" y1="545.0" x2="824.5" y2="545.0" stroke="#000" stroke-width="2.5"/>
<line x1="821.0" y1="498.1" x2="824.5" y2="498.1" stroke="#000" stroke-width="2.5"/>
<line x1="818.5" y1="451.2" x2="824.5" y2="451.2" stroke="#000" stroke-width="2.5"/>
<line x1="821.0" y1="404.3" x2="824.5" y2="404.3" stroke="#000" stroke-width="2.5"/>
<line x1="818.5" y1="357.4" x2="824.5" y2="357.4" stroke="#000" stroke-width="2.5"/>
<line x1="824.3" y1="732.6" x2="824.3" y2="738.6" stroke="#000" stroke-width="2.5"/>
<line x1="872.6" y1="732.6" x2="872.6" y2="737.6" stroke="#000" stroke-width="2.5"/>
<line x1="921.0" y1="732.6" x2="921.0" y2="738.6" stroke="#000" stroke-width="2.5"/>
<line x1="969.3" y1="732.6" x2="969.3" y2="737.6" stroke="#000" stroke-width="2.5"/>
<line x1="1017.7" y1="732.6" x2="1017.7" y2="738.6" stroke="#000" stroke-width="2.5"/>
<line x1="1066.0" y1="732.6" x2="1066.0" y2="737.6" stroke="#000" stroke-width="2.5"/>
<line x1="1114.4" y1="732.6" x2="1114.4" y2="738.6" stroke="#000" stroke-width="2.5"/>
<line x1="1162.8" y1="732.6" x2="1162.8" y2="737.6" stroke="#000" stroke-width="2.5"/>
<line x1="1211.1" y1="732.6" x2="1211.1" y2="738.6" stroke="#000" stroke-width="2.5"/>
<line x1="1259.4" y1="732.6" x2="1259.4" y2="737.6" stroke="#000" stroke-width="2.5"/>
<line x1="1307.8" y1="732.6" x2="1307.8" y2="738.6" stroke="#000" stroke-width="2.5"/>
<text x="801.2" y="744.2" font-size="34.5" font-weight="bold" fill="#000" textLength="12.7" lengthAdjust="spacingAndGlyphs" >0</text>
<text x="775.8" y="650.4" font-size="34.5" font-weight="bold" fill="#000" textLength="38.1" lengthAdjust="spacingAndGlyphs" >400</text>
<text x="775.8" y="556.6" font-size="34.5" font-weight="bold" fill="#000" textLength="38.1" lengthAdjust="spacingAndGlyphs" >800</text>
<text x="763.1" y="462.8" font-size="34.5" font-weight="bold" fill="#000" textLength="50.8" lengthAdjust="spacingAndGlyphs" >1200</text>
<text x="763.1" y="369.0" font-size="34.5" font-weight="bold" fill="#000" textLength="50.8" lengthAdjust="spacingAndGlyphs" >1600</text>
<text x="818.5" y="770.4" font-size="34.5" font-weight="bold" fill="#000" textLength="11.5" lengthAdjust="spacingAndGlyphs" >0</text>
<text x="901.8" y="770.4" font-size="34.5" font-weight="bold" fill="#000" textLength="38.4" lengthAdjust="spacingAndGlyphs" >100</text>
<text x="998.5" y="770.4" font-size="34.5" font-weight="bold" fill="#000" textLength="38.4" lengthAdjust="spacingAndGlyphs" >200</text>
<text x="1095.2" y="770.4" font-size="34.5" font-weight="bold" fill="#000" textLength="38.4" lengthAdjust="spacingAndGlyphs" >300</text>
<text x="1191.9" y="770.4" font-size="34.5" font-weight="bold" fill="#000" textLength="38.4" lengthAdjust="spacingAndGlyphs" >400</text>
<text x="1288.6" y="770.4" font-size="34.5" font-weight="bold" fill="#000" textLength="38.4" lengthAdjust="spacingAndGlyphs" >500</text>
<text transform="translate(1000.5,807.0) scale(0.76,1)" font-size="39.2" font-weight="bold" fill="#111" textLength="218.4" lengthAdjust="spacing" >Number (N)</text>
<g transform="translate(750.5,722.8) rotate(-90)">
<text x="0.0" y="0.0" font-size="38.6" font-weight="bold" fill="#111" textLength="154.5" lengthAdjust="spacingAndGlyphs" >Capacity</text>
</g>
<g transform="translate(750,555.5) rotate(-90)">
<text x="0.0" y="0.0" font-size="29.9" font-weight="bold" fill="#111" textLength="74.5" lengthAdjust="spacingAndGlyphs" >(mA</text>
<text x="90.5" y="0.0" font-size="29.9" font-weight="bold" fill="#111" textLength="17.5" lengthAdjust="spacingAndGlyphs" >h</text>
<text x="120.7" y="0.0" font-size="29.9" font-weight="bold" fill="#111" textLength="17.8" lengthAdjust="spacingAndGlyphs" >g</text>
<text x="161.5" y="0.0" font-size="29.9" font-weight="bold" fill="#111" textLength="11.0" lengthAdjust="spacingAndGlyphs" >)</text>
</g>
<g transform="translate(736.4,413.5) rotate(-90)">
<text x="0.0" y="0.0" font-size="17.0" font-weight="bold" fill="#111" textLength="15.5" lengthAdjust="spacingAndGlyphs" >-1</text>
</g>
<text transform="translate(1044.5,713.0) scale(0.76,1)" font-size="29.9" font-weight="bold" fill="#111" textLength="357.9" lengthAdjust="spacing" >Co-FeOOH/MWCNTs/PP</text>
<ellipse cx="1230.5" cy="348.5" rx="7.3" ry="9.3" fill="#e0fafa" stroke="#7adada" stroke-width="0.8"/>
<path d="M1230.5,339.2 A7.3,9.3 0 0 1 1230.5,357.8 Z" fill="#1a8a80"/>
<path d="M1231,374.5 L1239.3,386 L1231,397.5 L1222.7,386 Z" fill="#f6efff" stroke="#b48cff" stroke-width="0.8"/>
<path d="M1231,374.5 L1239.3,386 L1231,397.5 Z" fill="#6a1ee0"/>
<ellipse cx="1230.7" cy="422.3" rx="7.3" ry="9.8" fill="#ffe6f2" stroke="#ff9ccc" stroke-width="0.8"/>
<path d="M1230.7,412.5 A7.3,9.8 0 0 1 1230.7,432.1 Z" fill="#e0287a"/>
<path d="M1231.2,450.0 L1233.3,456.1 L1238.9,456.6 L1234.6,460.8 L1235.9,467.2 L1231.2,463.7 L1226.5,467.2 L1227.8,460.8 L1223.5,456.6 L1229.1,456.1 Z" fill="#bfeabf" stroke="#1f7a1f" stroke-width="1.3"/>
<path d="M1231.2,450 L1231.2,466 L1237,469 L1235.5,462 L1240,457 L1234,456.5 Z" fill="#1f7a1f" opacity="0.8"/>
<text x="1252.4" y="354.3" font-size="27.0" font-weight="bold" fill="#111" textLength="24.0" lengthAdjust="spacingAndGlyphs" >25</text>
<text transform="translate(1283.2,354.8) scale(0.85,1)" font-size="27" font-weight="bold" fill="#1a1a1a" font-family="'Noto Serif CJK SC', 'DejaVu Serif', serif">&#8451;</text>
<text x="1252.4" y="391.0" font-size="27.0" font-weight="bold" fill="#111" textLength="24.0" lengthAdjust="spacingAndGlyphs" >75</text>
<text transform="translate(1283.2,391.5) scale(0.85,1)" font-size="27" font-weight="bold" fill="#1a1a1a" font-family="'Noto Serif CJK SC', 'DejaVu Serif', serif">&#8451;</text>
<text x="1251.5" y="426.6" font-size="27.0" font-weight="bold" fill="#111" textLength="11.5" lengthAdjust="spacingAndGlyphs" >0</text>
<text transform="translate(1270.4,427.1) scale(0.85,1)" font-size="27" font-weight="bold" fill="#1a1a1a" font-family="'Noto Serif CJK SC', 'DejaVu Serif', serif">&#8451;</text>
<text x="1251.5" y="464.2" font-size="27.0" font-weight="bold" fill="#111" textLength="31.0" lengthAdjust="spacingAndGlyphs" >-25</text>
<text transform="translate(1290.6,464.7) scale(0.85,1)" font-size="27" font-weight="bold" fill="#1a1a1a" font-family="'Noto Serif CJK SC', 'DejaVu Serif', serif">&#8451;</text>
<text x="1180.5" y="415.2" font-size="32.8" font-weight="bold" fill="#111" textLength="26.0" lengthAdjust="spacingAndGlyphs" >1C</text>
</g>
<g clip-path="url(#pclip)">
<rect x="3" y="319.5" width="672" height="495.5" fill="url(#pbg)"/>
<rect x="540" y="320" width="140" height="500" fill="url(#pright)"/>
<ellipse cx="10" cy="530" rx="40" ry="50" fill="#e8f6fa" opacity="0.95" filter="url(#blur8)"/>
<ellipse cx="30" cy="560" rx="60" ry="40" fill="#bfe2ee" opacity="0.8" filter="url(#blur8)"/>
<ellipse cx="90" cy="520" rx="70" ry="25" fill="#9fcde0" opacity="0.6" filter="url(#blur8)"/>
<ellipse cx="150" cy="600" rx="120" ry="25" fill="#8cc4d8" opacity="0.45" filter="url(#blur8)"/>
<ellipse cx="60" cy="610" rx="70" ry="30" fill="#7ab8d0" opacity="0.5" filter="url(#blur8)"/>
<ellipse cx="330" cy="520" rx="60" ry="30" fill="#7f9cb2" opacity="0.6" filter="url(#blur8)"/>
<ellipse cx="360" cy="600" rx="60" ry="30" fill="#6aa0b8" opacity="0.45" filter="url(#blur8)"/>
<ellipse cx="250" cy="620" rx="80" ry="20" fill="#7ab8cc" opacity="0.35" filter="url(#blur8)"/>
<ellipse cx="220" cy="500" rx="80" ry="22" fill="#6e98b0" opacity="0.4" filter="url(#blur8)"/>
<rect x="3" y="480" width="440" height="200" fill="url(#foamm)" filter="url(#foam)"/>
<path d="M40 563h0M92 571h0M67 547h0M146 586h0M336 518h0M69 581h0M69 610h0M210 539h0M296 548h0M247 555h0M374 537h0M9 547h0M49 518h0M94 573h0M199 588h0M40 522h0M273 543h0M77 546h0M141 586h0M144 539h0M254 536h0M314 584h0" stroke="#e0f4fa" stroke-width="1.5" fill="none" opacity="0.8" stroke-linecap="round"/>
<path d="M258 567h0M50 577h0M219 568h0M204 489h0M71 565h0M174 525h0M101 578h0M34 593h0M201 553h0M416 603h0M238 581h0M340 516h0M102 551h0M163 544h0M186 590h0M161 537h0" stroke="#e0f4fa" stroke-width="2.2" fill="none" opacity="0.4" stroke-linecap="round"/>
<path d="M172 624h0M260 570h0M407 593h0M63 604h0M309 531h0M9 508h0M233 537h0M211 504h0M238 618h0M231 537h0M192 566h0M70 564h0M272 524h0M81 608h0M424 581h0M197 555h0M385 611h0M361 584h0M90 549h0M330 592h0M331 514h0M44 582h0" stroke="#e0f4fa" stroke-width="2.8" fill="none" opacity="0.6" stroke-linecap="round"/>
<path d="M42 608h0M285 617h0M160 548h0M268 560h0M107 583h0M161 575h0M57 597h0M378 535h0M401 567h0M144 518h0M281 506h0M63 587h0M372 535h0M243 572h0" stroke="#e0f4fa" stroke-width="1.5" fill="none" opacity="0.4" stroke-linecap="round"/>
<path d="M395 563h0M424 597h0M10 553h0M356 580h0M183 537h0M18 582h0M212 561h0M332 539h0M177 533h0M420 555h0M326 574h0M43 496h0M96 589h0M361 600h0M6 555h0M164 549h0M123 588h0M342 562h0" stroke="#e0f4fa" stroke-width="2.8" fill="none" opacity="0.4" stroke-linecap="round"/>
<path d="M132 563h0M92 580h0M315 500h0M105 588h0M247 554h0M227 553h0M419 594h0M268 585h0M249 541h0M275 595h0M44 577h0M81 544h0M328 555h0M148 539h0M202 525h0M236 581h0M187 562h0M299 555h0M326 536h0" stroke="#e0f4fa" stroke-width="2.2" fill="none" opacity="0.6" stroke-linecap="round"/>
<path d="M402 520h0M177 551h0M187 597h0M202 592h0M212 597h0M6 642h0M321 522h0M164 564h0M208 599h0M108 598h0M421 594h0M322 561h0M73 559h0M308 604h0M102 545h0" stroke="#e0f4fa" stroke-width="2.8" fill="none" opacity="0.8" stroke-linecap="round"/>
<path d="M286 565h0M198 575h0M238 539h0M44 555h0M171 639h0M241 564h0M114 524h0M294 510h0M419 571h0M120 500h0M408 608h0M87 513h0M313 615h0M147 565h0M54 556h0M168 613h0M247 633h0M7 552h0M273 575h0M410 612h0" stroke="#e0f4fa" stroke-width="1.5" fill="none" opacity="0.6" stroke-linecap="round"/>
<path d="M110 580h0M199 587h0M39 555h0M402 562h0M242 568h0M64 554h0M372 537h0M406 590h0M220 571h0M102 581h0M385 523h0M410 602h0M61 540h0" stroke="#e0f4fa" stroke-width="2.2" fill="none" opacity="0.8" stroke-linecap="round"/>
<ellipse cx="8" cy="555" rx="30" ry="65" fill="#f4fbfd" opacity="0.9" filter="url(#blur8)"/>
<path d="M150,592 L232,592 L398,814 L6,814 Z" fill="url(#latg)"/>
<path d="M150,592 L6,814 M232,592 L398,814" stroke="#a8d0dc" stroke-width="1.5" opacity="0.5"/>
<path d="M3,640 L60,700 L6,814 L3,814 Z" fill="#0c4060" opacity="0.5" filter="url(#blur8)"/>
<path d="M232,592 L295,590 L561,814 L398,814 Z" fill="url(#wedg)"/>
<path d="M288,487 L502,322 L506,340 L520,700 L600,814 L561,814 L295,590 Z" fill="url(#beamg)"/>
<path d="M288,487 L502,322" stroke="#d8e0e8" stroke-width="5" opacity="0.5" filter="url(#blur2)"/>
<path d="M295,590 L455,725" stroke="#9ad8e6" stroke-width="4" opacity="0.55" filter="url(#blur2)"/>
<path d="M396,814 L370,756 L430,748 L480,752 L561,814 Z" fill="url(#darkg)" filter="url(#blur2)"/>
<path d="M520,760 L561,814 L675,814 L675,720 Z" fill="url(#brg)" filter="url(#blur4)"/>
<path d="M478,336C486.7,334.0 500.5,336.7 512,340C523.5,343.3 536.3,348.3 547,356C557.7,363.7 567.8,375.0 576,386C584.2,397.0 590.7,408.0 596,422C601.3,436.0 605.0,452.0 608,470C611.0,488.0 613.2,508.3 614,530C614.8,551.7 614.7,578.3 613,600C611.3,621.7 608.2,642.5 604,660C599.8,677.5 595.0,692.5 588,705C581.0,717.5 571.7,728.3 562,735C552.3,741.7 541.2,745.0 530,745C518.8,745.0 506.3,738.8 495,735C483.7,731.2 472.8,727.5 462,722C451.2,716.5 439.8,710.7 430,702C420.2,693.3 410.5,682.8 403,670C395.5,657.2 389.3,640.8 385,625C380.7,609.2 377.7,592.5 377,575C376.3,557.5 377.8,537.5 381,520C384.2,502.5 390.0,486.3 396,470C402.0,453.7 409.7,436.7 417,422C424.3,407.3 432.8,393.7 440,382C447.2,370.3 453.7,359.7 460,352C466.3,344.3 469.3,338.0 478,336Z" fill="url(#blobbg)" filter="url(#blur4)"/>
<ellipse cx="470" cy="420" rx="50" ry="60" fill="#2e6ede" opacity="0.5" filter="url(#blur8)"/>
<ellipse cx="545" cy="520" rx="45" ry="80" fill="#2a68d8" opacity="0.45" filter="url(#blur8)"/>
<ellipse cx="520" cy="690" rx="60" ry="40" fill="#1c4eb4" opacity="0.5" filter="url(#blur8)"/>
<ellipse cx="570" cy="620" rx="30" ry="60" fill="#1a4aa8" opacity="0.4" filter="url(#blur8)"/>
<ellipse cx="455" cy="380" rx="35" ry="30" fill="#3070e0" opacity="0.4" filter="url(#blur8)"/>
<path d="M597.0 436.5L601.5 429.5M381.6 585.1L367.9 585.1M609.3 512.9L621.9 515.8M570.7 384.5L573.0 377.5M424.2 414.6L414.6 409.6M607.6 617.9L614.6 629.4M440.1 386.4L433.5 378.1M603.5 646.5L616.5 648.8M407.8 449.9L399.5 440.0M541.4 738.3L542.8 748.4M523.9 348.6L530.2 342.0M535.1 353.8L542.7 344.5M485.9 339.9L488.8 330.4M382.6 539.0L375.5 535.4M434.5 396.4L433.9 384.9M516.9 738.4L516.7 745.1M537.6 354.9L543.5 345.9M525.8 741.0L533.1 751.0M439.2 387.9L438.0 380.4M459.2 357.0L458.4 349.5M584.3 406.3L587.8 396.7M391.3 633.1L380.9 639.9M564.4 728.2L561.6 737.9M508.1 342.6L509.1 336.2M453.5 365.7L452.3 353.7M580.1 398.6L587.5 393.5M578.4 711.9L583.3 716.9M382.7 538.5L370.6 536.2M439.8 704.7L438.6 716.0M465.2 350.7L461.5 338.6M411.6 675.8L401.8 682.9M595.4 676.6L601.4 681.7M606.3 626.4L611.3 630.3M604.6 468.0L617.4 466.9M427.6 408.6L426.2 396.8M411.6 441.0L401.7 438.6M605.6 631.5L613.6 639.4M594.0 424.2L594.1 412.1M609.8 518.3L617.6 511.4M589.8 692.9L597.7 699.9M498.7 341.4L493.8 331.6M381.2 558.3L372.0 554.3M402.2 661.0L400.8 671.4M554.3 367.4L554.4 354.4M610.2 599.5L616.4 610.8M399.2 469.9L392.7 464.1M607.8 496.6L613.0 493.2M469.9 346.5L466.8 340.3M394.1 486.7L384.9 480.2M388.9 627.0L385.2 637.2M382.7 537.4L373.5 541.0M602.2 655.6L611.3 661.8M496.7 732.5L498.8 738.1M521.8 739.8L522.8 746.8" stroke="#4480e4" stroke-width="0.9" fill="none" opacity="0.75"/>
<path d="M383.2 531.6L373.8 536.4M471.3 722.5L464.0 734.0M463.1 719.3L464.8 727.0M434.4 701.3L430.1 711.6M410.3 674.2L399.2 681.6M600.5 450.8L611.2 442.2M576.5 392.2L578.5 379.1M418.8 684.4L413.8 691.0M391.1 632.5L383.3 635.9M470.6 345.9L473.7 336.9M405.6 454.9L403.6 443.6M414.1 435.1L408.5 429.1M605.7 630.8L617.3 635.8M403.2 460.6L393.6 455.2M591.4 688.2L597.8 694.4M486.9 340.0L486.7 331.0M432.4 400.1L422.9 394.6M389.9 629.4L376.6 631.3M572.0 719.3L578.3 731.3M385.9 613.1L379.5 621.3M587.3 700.0L592.5 711.6M482.2 726.9L479.5 732.0M497.2 341.3L493.8 329.7M503.0 734.3L507.3 745.6M488.7 729.5L492.7 739.7M609.8 517.4L616.4 516.6M461.4 354.1L462.1 344.1M472.5 344.2L467.0 336.9M380.2 571.2L374.5 577.0M421.2 419.9L420.4 411.4M442.8 706.6L445.0 715.5M596.2 433.0L602.5 427.2M558.3 371.5L558.7 360.7M599.1 445.1L606.7 436.9M446.4 708.9L441.3 713.8M386.4 616.2L380.9 624.4M402.8 461.5L391.5 458.1M443.6 707.1L438.4 717.7M519.1 346.4L520.2 336.7M454.1 713.7L454.4 719.7M424.4 414.2L421.1 401.6M407.4 450.7L399.0 442.8M472.4 723.0L475.2 736.4M547.7 360.5L552.3 349.6M547.0 736.5L544.1 747.8M587.8 412.7L587.6 400.9M524.4 740.5L525.8 747.4M381.4 555.5L373.7 561.4M605.5 471.7L611.8 460.2M570.9 720.6L578.6 727.1M580.2 709.8L584.6 719.2M401.5 464.6L392.9 462.7M410.3 443.9L405.3 440.1M477.3 339.8L479.0 331.5M500.0 733.4L502.9 746.2M391.2 496.2L385.4 495.0M580.5 399.5L586.1 387.6M496.8 732.5L491.0 743.7M403.3 663.9L393.6 671.4M443.1 706.8L440.8 715.7" stroke="#1a48a8" stroke-width="0.9" fill="none" opacity="0.75"/>
<path d="M391.7 494.5L383.6 486.4M384.1 601.3L377.8 603.2M580.0 398.5L579.6 385.2M389.0 503.9L383.8 500.7M546.4 736.7L548.7 744.0M576.2 391.5L576.3 385.9M454.0 364.9L448.7 356.6M610.5 565.9L621.2 560.6M474.2 342.6L472.3 330.8M402.3 661.3L401.4 668.2M610.4 524.3L617.4 522.4M596.9 672.4L599.5 678.6M429.2 696.9L423.4 701.8M575.3 715.5L579.1 723.6M553.6 366.7L551.8 358.9M550.9 735.3L551.2 746.9M397.1 476.3L389.6 471.3M382.0 587.9L370.0 588.0M607.8 496.8L616.9 497.3M481.7 339.4L479.3 327.4M610.8 542.7L622.5 537.4M380.4 568.2L374.4 572.2M471.3 345.2L468.5 339.1M604.4 640.6L612.3 641.9M602.6 653.2L614.6 654.6M575.6 715.1L581.5 719.8M597.6 439.1L605.3 435.3M550.8 735.4L559.2 742.2M518.5 738.9L517.0 750.0M473.5 343.2L474.0 336.4M533.8 740.7L543.2 748.7M475.5 724.2L473.5 729.7M393.9 487.1L387.1 484.9M470.4 722.2L465.0 732.4M610.9 535.9L617.3 538.4M607.0 488.1L611.7 483.6M610.8 545.8L618.0 547.1M458.4 716.4L461.2 727.0M541.1 356.5L542.7 348.7M395.7 644.3L390.1 655.0M582.2 402.5L583.2 394.5M606.0 629.2L609.0 636.4" stroke="#1d52c0" stroke-width="0.9" fill="none" opacity="0.75"/>
<path d="M609.3 605.9L617.2 606.5M543.3 357.5L546.5 346.2M380.7 564.9L372.0 564.7M546.6 736.7L552.5 742.0M390.4 630.8L387.0 636.7M540.1 356.1L539.1 348.5M556.4 733.6L565.3 742.3M390.9 497.2L379.7 492.6M609.6 515.8L619.3 519.4M609.4 604.7L614.8 612.9M441.7 383.7L445.1 373.3M391.6 633.8L386.2 641.2M385.5 610.5L381.3 622.5M501.7 734.0L504.2 741.5M497.7 341.3L491.9 330.0M382.5 540.5L372.2 544.2M607.4 618.9L618.4 626.8M608.4 502.9L615.5 501.5M384.9 606.4L381.3 611.4M495.6 341.1L489.9 333.0M540.9 356.5L542.1 350.3M403.3 663.9L397.9 666.9M417.0 682.3L409.8 686.4M562.5 376.0L564.4 365.2M610.5 565.7L618.3 566.3M380.6 566.1L367.8 564.9M457.5 359.5L454.0 348.1M601.1 453.4L611.2 452.3M466.3 720.5L471.7 730.4M559.0 372.3L561.4 362.7M383.5 597.5L378.8 601.9M443.0 381.8L439.5 377.4M415.6 431.5L407.4 428.5M418.0 683.4L414.1 688.5M575.0 389.4L572.4 377.4M452.2 367.6L444.8 357.6M495.8 341.1L493.1 329.3M414.7 679.5L410.8 691.6M534.2 740.6L534.0 747.0M512.3 737.0L510.8 746.9M542.4 738.0L549.4 745.3M607.6 494.7L616.2 489.4M606.5 482.8L612.9 482.1M474.9 342.0L477.4 335.3M609.5 604.5L622.4 602.2M387.3 509.5L379.9 510.2M410.2 674.1L406.3 680.1M456.0 361.8L455.2 355.2M552.9 365.9L559.9 359.7M546.0 358.8L548.6 345.5M413.7 678.2L407.2 681.9M416.3 681.4L405.8 688.0M396.8 477.2L388.5 470.7M593.1 422.6L598.3 417.5M398.8 470.8L395.5 464.3M446.7 709.0L445.1 715.2M453.5 713.4L456.5 726.4M403.7 459.5L397.9 453.7M610.4 577.9L623.5 582.5M608.2 613.6L617.3 618.0M564.3 728.3L572.7 736.7M589.9 692.7L590.9 701.9M604.7 468.5L616.8 464.3M603.2 462.2L611.6 456.6M594.3 425.2L603.5 418.7M609.5 514.7L621.9 511.3M580.3 399.1L589.8 392.5" stroke="#2a64d4" stroke-width="0.9" fill="none" opacity="0.75"/>
<path d="M565.5 726.9L570.7 733.4M418.3 683.8L414.7 689.8M561.0 732.2L565.2 744.0M567.1 380.8L574.2 375.3M597.6 438.7L601.8 433.4M445.7 377.6L444.0 371.1M442.8 382.1L442.1 373.5M427.0 694.3L421.8 701.5M600.8 452.1L605.7 444.8M537.8 355.0L534.6 346.9M610.6 557.9L623.0 558.1M417.8 683.2L416.4 689.6M462.9 352.8L459.9 347.1M484.5 727.8L482.8 733.6M540.3 738.6L543.4 751.2M457.7 716.0L451.0 722.9M609.0 608.0L613.6 612.8M596.4 673.9L598.5 686.1M610.5 563.9L619.7 565.6M474.8 342.1L471.0 333.3M404.3 666.3L395.0 669.4M602.9 461.1L613.4 455.2M521.7 739.8L518.9 746.0M382.2 544.9L375.8 548.1M475.1 341.9L467.4 332.1M382.4 590.0L375.6 595.4M549.9 735.6L546.6 744.6M398.8 652.4L389.5 657.1M458.6 358.0L458.0 349.1M382.8 592.5L375.8 595.8M526.9 741.3L531.7 751.2M603.1 649.3L614.0 652.2M559.5 732.6L560.0 738.5M591.8 420.1L596.0 414.7M380.6 565.6L370.3 565.6M606.7 484.8L619.1 485.1M609.5 604.1L618.9 612.8M526.2 349.7L526.3 342.0M447.7 709.7L447.4 716.3M610.7 527.5L623.9 527.9M380.5 566.5L373.2 568.2M423.6 690.1L415.8 697.8M605.7 473.8L612.0 469.6M419.8 685.5L410.2 695.6M463.6 352.2L459.5 346.0M442.3 382.8L441.6 375.8M466.3 349.8L465.4 340.6M605.9 475.6L614.7 476.2M463.5 352.3L457.7 342.2M383.0 533.8L377.1 529.9M435.2 701.8L428.7 709.4M463.6 719.5L461.1 728.6M395.7 481.1L389.0 479.0M583.6 705.8L583.3 714.5M603.1 649.6L604.3 662.3" stroke="#3470dc" stroke-width="0.6" fill="none" opacity="0.75"/>
<path d="M404.1 458.5L392.1 451.6M448.5 373.3L440.0 364.2M385.4 515.8L377.1 515.9M563.7 377.2L563.1 367.7M609.1 510.4L616.5 504.2M567.7 724.4L571.2 731.1M466.3 720.5L465.4 727.4M411.2 441.8L407.3 432.6M584.8 407.3L588.1 398.0M398.1 650.6L396.6 656.2M584.2 406.3L587.3 398.8M518.5 346.1L516.3 336.5M390.1 500.2L382.9 491.3M397.4 648.7L392.0 652.5M451.7 712.2L450.1 720.1M603.1 649.7L607.7 656.9M487.5 729.0L489.2 742.6M468.8 721.5L472.5 729.8M400.0 655.2L399.6 667.7M486.7 728.7L483.5 737.4M604.9 469.1L614.7 467.3M509.6 736.2L507.9 742.8M606.4 481.6L615.1 474.8M431.9 400.9L431.7 390.5M587.3 700.0L595.5 708.2M387.7 508.0L381.1 505.1M382.6 539.1L370.0 536.2M539.7 355.9L540.9 344.7M596.3 433.3L601.6 427.4M593.2 683.1L598.1 691.8M419.1 423.7L410.9 419.5M526.4 741.2L527.6 748.4M381.7 551.3L369.9 548.0M575.1 715.7L584.8 723.9M416.0 430.7L410.5 419.3M610.5 565.8L620.0 572.7M386.0 513.6L374.9 513.3M496.5 341.2L490.5 331.9M464.4 351.4L463.1 343.2M433.4 398.3L434.8 385.9M564.4 378.0L573.3 368.6M603.8 464.7L615.5 462.3M444.4 379.6L440.8 373.1M380.7 579.2L373.6 583.3M575.8 390.8L574.4 380.3M475.5 341.4L469.2 331.5M511.0 342.9L511.3 333.0M505.4 342.2L502.1 335.8M384.0 520.4L373.4 522.4M608.3 612.9L620.1 615.4M432.3 699.9L426.9 704.4" stroke="#1a48a8" stroke-width="0.6" fill="none" opacity="0.75"/>
<path d="M388.6 626.3L384.2 635.2M589.4 693.9L594.1 697.3M446.9 375.8L440.5 367.0M553.4 366.5L555.8 358.0M594.9 427.7L598.3 417.4M528.8 741.8L530.6 750.0M385.7 611.9L379.2 614.3M464.1 351.7L455.9 343.8M480.6 339.3L478.2 331.8M564.3 728.3L563.6 736.8M450.2 370.7L454.2 361.6M458.1 716.3L457.3 725.9M602.1 656.4L614.0 659.2M382.7 538.2L372.6 532.1M411.9 676.1L407.7 685.5M434.3 701.2L424.0 707.3M565.3 378.9L568.6 373.9M465.5 720.2L467.7 727.6M591.2 688.7L596.6 698.2M392.3 635.8L386.7 639.6M582.9 403.8L587.2 396.0M605.9 476.4L613.7 475.4M450.1 370.8L451.0 361.6M432.8 399.2L431.5 392.9M442.6 706.4L438.9 710.8M600.0 663.4L601.6 670.9M608.3 501.7L615.4 500.1M460.2 355.4L454.4 344.8M610.1 521.0L616.9 517.6M568.7 382.5L569.0 373.4M502.5 734.2L501.7 741.9M379.9 574.3L372.7 575.2M578.8 396.3L583.2 385.2M382.6 539.6L374.5 540.4M455.7 362.3L457.9 354.2M497.2 732.6L499.0 741.1M544.7 737.3L546.0 743.5M444.8 379.0L441.5 374.0M418.5 684.1L413.4 689.9M443.3 381.3L445.1 368.6M508.5 342.6L506.3 335.4M610.9 537.1L623.7 537.6M538.6 739.2L535.0 749.4M475.5 724.2L474.2 737.5M447.7 709.6L442.9 719.1M421.1 420.1L414.3 415.3M449.5 371.7L446.0 367.0M404.0 665.7L397.9 670.2M536.6 739.8L542.7 748.8M415.5 680.4L415.9 690.5M506.3 735.3L501.1 746.2M568.4 382.2L566.7 370.4M383.8 522.9L376.7 519.6M432.9 399.2L425.1 393.4M515.7 738.0L517.2 744.9M422.1 418.4L421.0 408.6M604.3 641.2L615.7 647.4M579.6 397.8L581.8 387.2" stroke="#4480e4" stroke-width="0.6" fill="none" opacity="0.75"/>
<path d="M465.2 350.8L467.1 342.2M407.7 671.1L404.4 676.2M610.7 551.8L616.9 552.5M472.9 343.8L470.6 333.0M399.1 652.9L389.2 657.4M429.2 405.7L424.6 400.7M601.1 453.4L606.6 448.9M383.8 599.5L377.8 610.4M415.3 680.2L406.4 684.0M608.4 612.2L615.3 618.1M484.7 727.9L483.8 734.4M457.1 360.2L457.2 349.7M385.1 607.6L380.2 611.4M410.0 673.8L405.1 678.4M448.5 373.4L447.3 367.2M609.5 604.2L620.1 605.6M610.7 552.3L622.3 553.2M433.9 701.0L424.4 708.9M439.1 388.1L441.7 377.6M504.8 734.9L510.2 741.7M607.6 494.7L616.0 494.5M598.5 667.8L603.4 670.6M599.4 446.3L608.7 442.0M522.4 347.9L528.5 341.4M600.7 451.7L605.8 444.7M420.1 421.9L419.3 415.9M610.4 583.0L619.5 588.2M589.7 416.2L597.2 405.2M408.6 672.2L403.9 681.8M471.8 344.8L473.5 337.5M610.5 566.9L616.4 570.9M540.6 356.3L539.7 348.2M605.0 469.7L612.9 468.1M555.9 369.0L561.7 359.1M513.2 737.3L517.8 745.0M582.1 707.5L589.2 713.0M566.1 726.2L565.7 733.3M383.1 532.4L374.4 537.5M424.9 413.3L421.9 402.8M607.7 617.0L611.1 623.3M610.9 529.4L618.9 527.4M388.8 626.7L383.6 633.5M403.4 664.1L400.5 676.7" stroke="#3470dc" stroke-width="0.9" fill="none" opacity="0.75"/>
<path d="M442.1 383.1L438.5 373.4M564.1 728.6L566.9 737.0M466.8 720.7L464.2 732.5M399.0 652.7L389.7 655.4M608.4 503.6L613.7 499.5M387.3 622.1L384.0 629.1M406.2 453.6L399.8 451.0M495.9 732.3L491.4 740.5M455.1 714.3L448.6 725.8M610.6 561.4L620.6 569.3M416.5 429.4L410.2 423.7M381.8 550.1L371.5 552.2M608.4 503.6L617.1 501.6M457.8 716.1L450.3 723.0M436.6 392.6L435.9 386.5M468.9 347.4L468.0 336.4M544.4 737.4L546.5 746.7M461.4 354.2L451.6 345.6M520.3 739.4L523.3 752.6M449.5 710.8L444.2 719.0M600.5 450.9L608.1 448.3M391.2 632.8L384.6 642.5M571.7 385.6L574.5 378.7M408.4 448.4L401.6 441.5M380.5 578.0L371.8 579.5M605.0 469.4L617.0 467.5M547.9 360.7L546.1 347.7M422.9 416.9L413.8 407.6M421.6 687.7L415.1 697.8M610.7 547.5L619.0 544.3M381.9 586.9L371.6 584.0M590.5 690.9L598.9 700.5M397.6 649.1L391.1 653.0M602.5 653.8L605.4 663.0M428.8 696.4L424.6 702.3M423.2 689.7L419.0 698.0M436.7 702.7L430.6 711.8M606.7 484.3L613.3 482.7M490.9 340.5L493.3 334.0M568.8 382.6L568.8 375.4M432.0 400.8L433.0 392.6M585.1 704.1L590.6 708.4M562.8 376.3L571.8 370.1M388.6 505.0L380.1 506.0M397.0 476.5L388.2 466.5M455.0 363.4L454.3 357.0M453.6 365.5L451.2 358.4" stroke="#2a64d4" stroke-width="0.6" fill="none" opacity="0.75"/>
<path d="M405.2 668.1L401.9 675.3M455.4 714.5L455.0 727.1M401.4 464.9L395.7 461.9M456.4 361.2L450.5 352.7M602.6 653.4L615.2 657.9M477.6 725.1L469.6 734.1M583.9 705.5L582.9 716.0M406.4 669.5L404.9 681.2M610.3 596.2L615.3 602.3M605.4 632.8L616.1 641.8M497.8 341.3L496.2 334.5M493.6 340.8L499.9 332.5M606.3 480.7L614.5 480.8M381.1 558.7L371.6 557.5M587.1 700.8L596.3 708.4M457.2 715.6L453.4 725.3M596.0 432.4L602.3 421.6M600.6 661.5L610.5 667.5M380.9 561.8L368.5 558.4M556.1 369.3L559.0 363.9M422.1 418.3L420.0 408.8M608.9 508.4L615.7 505.6M391.7 494.8L386.1 485.3M541.6 356.8L542.2 348.0M458.7 716.6L456.7 724.7M549.6 362.4L555.2 354.8M409.6 673.3L405.4 679.6M502.4 341.9L497.9 334.5M387.4 622.9L376.8 625.4M535.3 740.2L542.5 751.0M471.4 345.1L478.6 334.4M585.9 703.1L593.5 712.5M395.7 480.9L389.5 476.3M380.9 561.3L374.6 562.3M608.7 609.5L617.9 610.6M548.7 736.0L550.1 746.8M418.2 425.5L412.1 418.6M435.3 394.8L429.9 390.0M440.0 704.8L431.1 712.7M536.8 739.8L540.4 744.5M595.7 431.1L598.0 422.5M607.9 498.0L615.2 494.5M380.5 577.9L373.3 578.2" stroke="#1d52c0" stroke-width="0.6" fill="none" opacity="0.75"/>
<path d="M536 427Q535 430 537 434M543 357Q547 366 547 370M583 598Q585 601 584 605M549 708Q546 714 540 719M530 737Q528 747 529 757M540 730Q546 730 557 733M427 553Q429 560 426 570M423 477Q421 483 418 489M513 687Q512 693 509 694M418 461Q417 465 421 466M504 664Q497 669 489 668M548 588Q547 600 549 606M539 513Q542 522 547 528M458 430Q455 438 451 444M436 420Q440 426 438 433M521 346Q520 351 519 356M402 521Q406 525 406 530M456 684Q452 689 454 694M587 414Q589 418 595 427M551 372Q554 371 560 375M476 515Q469 525 469 530M467 517Q470 523 474 526M476 374Q482 378 484 386M585 704Q587 709 586 711M581 679Q580 682 584 688M492 560Q495 570 498 574M508 416Q504 424 497 431M585 416Q582 423 581 426M433 571Q432 577 434 581M412 566Q416 569 417 575M475 724Q474 732 479 741M495 571Q496 576 497 577M480 539Q481 544 482 550M513 444Q514 447 517 451M435 643Q435 647 437 652M433 484Q432 490 427 492M491 490Q491 498 489 502M414 456Q415 463 416 468M480 493Q478 502 480 508M548 680Q542 684 541 685M563 451Q558 456 557 465M562 718Q559 726 559 734M594 496Q596 499 594 503M526 423Q527 430 529 435M611 530Q607 531 608 536M551 553Q547 563 544 568M525 705Q521 708 514 716" stroke="#14409c" stroke-width="1.2" fill="none" opacity="0.7"/>
<path d="M509 348Q510 357 506 366M525 739Q526 747 528 752M578 415Q575 423 577 428M505 430Q505 431 502 437M474 455Q472 460 473 470M543 648Q538 658 538 664M390 545Q397 548 405 557M575 470Q575 477 575 482M425 576Q424 579 418 584M485 694Q494 697 500 703M516 564Q523 575 526 580M440 637Q438 644 441 648M605 461Q611 467 611 477M602 550Q600 557 598 559M476 561Q471 571 467 578M460 572Q460 580 457 584M522 569Q513 575 508 581M521 640Q516 646 516 647M545 618Q550 621 555 625M534 578Q530 586 526 591M517 691Q516 694 520 699M548 723Q541 729 537 739M594 479Q590 488 584 495M445 660Q448 664 446 666M550 488Q548 497 551 503M415 445Q414 451 418 455M452 490Q454 496 450 501M535 456Q540 467 540 474M527 350Q525 361 528 367M440 465Q441 474 441 480M527 654Q526 657 521 658M549 662Q545 670 544 674M472 564Q477 568 477 572M393 585Q403 587 409 595M419 585Q422 590 420 596M486 384Q487 394 483 403M482 395Q489 401 496 408M460 627Q458 634 460 637M576 400Q585 409 588 414M578 556Q578 557 579 564M447 517Q446 524 445 534M436 705Q435 713 438 719M546 564Q542 571 543 578M473 526Q480 530 484 533M543 411Q542 418 540 422M568 477Q569 488 565 496M384 598Q382 604 385 613M437 414Q433 421 429 428M526 649Q523 659 524 666M523 379Q521 385 519 387M547 577Q539 584 530 587M399 504Q396 510 393 520M517 679Q522 684 523 693" stroke="#4282e6" stroke-width="0.9" fill="none" opacity="0.7"/>
<path d="M493 504Q492 509 494 514M412 624Q414 629 415 639M480 686Q486 689 491 698M518 375Q516 380 519 389M433 618Q431 629 429 638M494 685Q495 690 496 698M465 573Q469 583 471 589M397 506Q398 511 397 516M551 508Q546 507 545 510M527 686Q529 691 528 693M415 564Q411 565 413 571M466 722Q464 725 466 734M473 643Q477 647 480 648M417 638Q419 644 417 650M526 378Q525 385 526 392M505 385Q509 387 508 394M469 532Q466 538 463 550M411 621Q409 630 406 633M446 686Q447 690 448 692M445 554Q448 562 450 568M570 497Q572 504 571 512M492 364Q494 369 492 371M483 590Q483 594 482 600M593 492Q591 500 590 502M570 668Q570 669 575 676M543 400Q539 404 536 407M417 464Q410 474 406 479M572 389Q576 392 582 401M475 706Q474 710 475 713M571 507Q572 512 570 514M492 380Q486 391 485 397M509 520Q505 525 497 530M443 555Q439 562 436 566M465 502Q465 506 465 513M399 580Q394 587 388 591M416 581Q414 585 410 592M524 484Q519 488 513 493M436 680Q434 683 432 688M437 631Q432 636 430 635M550 562Q553 567 552 569M494 404Q494 408 491 413M424 430Q429 441 429 447M496 601Q496 605 493 614M570 546Q576 558 577 565M433 667Q432 676 434 684M503 716Q498 720 489 728M454 626Q451 628 452 634M436 406Q440 416 445 420M565 559Q561 563 561 573M502 445Q501 451 498 459M459 452Q458 458 452 465M460 704Q465 713 469 720M520 441Q517 447 520 449M582 456Q584 457 586 463M477 523Q470 530 468 533M392 555Q388 559 389 564M527 393Q531 400 534 407M596 622Q600 628 601 637" stroke="#5a94ea" stroke-width="0.6" fill="none" opacity="0.7"/>
<path d="M596 445Q594 453 596 460M528 514Q529 522 529 532M525 527Q528 530 527 534M440 449Q439 452 440 458M493 467Q491 472 488 475M528 404Q526 406 529 411M564 469Q570 480 571 488M454 679Q453 685 448 686M524 442Q528 447 535 455M577 682Q575 689 574 693M521 563Q518 575 519 582M447 524Q441 530 439 540M485 690Q485 697 490 703M476 653Q470 657 459 658M533 710Q538 717 546 723M575 418Q573 428 569 436M524 606Q525 612 522 614M422 424Q427 430 431 437M560 486Q557 491 555 498M547 621Q551 624 555 626M584 449Q577 458 576 467M408 646Q413 650 417 654M605 502Q607 509 611 517M523 546Q520 549 515 554M462 455Q461 461 461 463M431 500Q437 504 439 507M491 709Q494 714 504 723M485 699Q489 704 495 707M525 697Q522 701 525 711M589 539Q591 547 588 553M578 648Q577 650 571 655M418 422Q419 429 418 431M459 601Q459 613 458 619M533 741Q537 744 546 752M527 587Q527 590 529 595M423 665Q424 673 427 676M390 580Q390 583 386 585M538 394Q540 402 542 408M544 735Q546 739 546 744M382 545Q381 551 381 552M464 419Q468 424 473 429M529 548Q526 553 525 556M471 555Q482 560 488 565M515 540Q513 547 511 553M515 709Q513 712 513 719M455 380Q456 381 461 385M577 431Q579 436 577 437M463 595Q462 601 462 603M475 543Q471 552 470 558M541 657Q549 660 551 664M531 577Q525 584 524 595M502 620Q498 623 500 629M517 526Q521 535 522 543M509 473Q506 478 500 485M415 593Q413 600 417 602M538 578Q534 585 531 591M430 514Q426 518 423 525M471 434Q469 443 470 448" stroke="#1c50bc" stroke-width="0.6" fill="none" opacity="0.7"/>
<path d="M484 535Q480 541 481 542M403 667Q396 676 395 678M409 556Q410 561 412 568M453 499Q448 505 442 509M551 598Q553 605 552 618M506 732Q505 736 507 743M593 506Q595 512 592 515M490 466Q489 472 491 472M576 698Q576 701 572 704M540 648Q541 655 548 662M460 604Q456 610 454 619M479 360Q480 365 482 371M423 621Q424 631 420 640M496 684Q496 689 500 690M508 510Q504 520 502 527M494 465Q492 477 494 484M432 669Q434 677 440 680M540 616Q543 626 543 632M612 568Q611 573 612 575M551 419Q550 423 547 434M549 711Q549 715 548 717M500 577Q503 581 505 580M454 681Q458 685 463 694M575 406Q573 411 576 421M537 476Q540 483 544 494M405 551Q410 556 414 566M531 743Q535 748 533 754M599 504Q596 510 588 517M530 438Q525 441 517 447M542 698Q547 706 546 715M576 448Q575 456 579 465M499 548Q499 553 496 560M504 373Q504 378 508 384M488 549Q491 551 499 556M472 437Q470 440 470 444M504 696Q500 699 500 703M504 662Q507 667 505 670M507 377Q507 382 511 385M426 658Q419 667 417 674M506 656Q504 660 505 666M468 515Q465 518 466 525M554 661Q563 664 570 672M429 479Q428 484 430 493M556 461Q555 468 559 472M552 528Q552 530 550 535M469 696Q474 700 472 707M538 551Q534 555 531 561M439 677Q446 676 455 679M520 541Q517 544 511 553M478 398Q478 403 478 404M533 658Q533 663 537 670M468 360Q467 363 468 371M596 544Q594 546 594 550M493 489Q500 491 504 497M495 344Q496 346 496 352M582 449Q578 454 578 463" stroke="#2f6cdc" stroke-width="0.6" fill="none" opacity="0.7"/>
<path d="M491 547Q491 554 490 560M575 447Q576 454 575 462M470 379Q474 385 474 389M522 389Q528 396 529 403M599 500Q594 503 593 512M569 444Q570 450 572 453M431 406Q430 413 429 415M500 723Q498 733 495 741M553 393Q555 403 553 411M389 603Q396 610 400 619M586 642Q589 649 593 660M403 561Q403 566 406 571M592 566Q590 571 586 571M470 508Q468 512 466 516M545 372Q545 378 548 379M497 480Q494 488 497 492M435 471Q438 478 443 480M576 466Q576 473 582 475M535 731Q538 737 535 737M574 554Q575 562 574 574M535 624Q531 632 531 643M472 610Q466 612 462 621M585 498Q584 509 588 517M446 504Q447 509 446 518M485 402Q481 410 483 420M503 419Q504 421 509 425M388 608Q391 613 388 619M553 585Q554 593 550 596M508 593Q506 595 505 600M469 656Q473 663 472 669M585 451Q584 460 583 470M540 561Q535 566 531 576M574 601Q577 609 580 613M597 642Q600 653 604 659M492 436Q494 443 499 445M411 610Q406 614 400 619M487 669Q485 675 486 677M561 420Q555 427 551 435M601 527Q600 533 601 541M422 517Q425 520 427 521M402 625Q403 633 407 637M540 575Q537 579 532 587M500 567Q500 574 505 578M590 643Q588 646 589 650M546 393Q553 392 564 396M570 475Q575 484 580 490M504 613Q501 622 498 627M557 505Q555 512 554 515M456 607Q461 608 471 609M416 666Q409 671 408 675M533 379Q529 383 523 389M491 593Q494 599 491 600M483 575Q482 587 484 595" stroke="#5a94ea" stroke-width="1.2" fill="none" opacity="0.7"/>
<path d="M557 696Q556 704 554 711M516 655Q518 660 517 662M485 579Q484 579 477 583M437 635Q441 644 440 652M447 629Q443 633 436 636M495 460Q502 468 504 471M419 490Q418 493 412 502M443 440Q439 443 440 449M506 706Q501 713 501 717M533 682Q534 689 539 700M383 528Q382 530 383 534M572 661Q570 667 568 676M466 481Q464 487 463 490M526 489Q524 497 527 503M488 377Q493 387 493 393M387 515Q382 520 377 530M457 472Q452 480 452 490M533 413Q530 421 530 428M572 503Q578 509 579 519M464 485Q469 488 475 494M439 650Q434 652 433 657M462 358Q465 362 463 367M540 635Q536 646 537 653M506 496Q513 504 517 509M447 495Q445 503 449 509M410 564Q417 570 420 579M387 532Q393 543 394 548M526 581Q521 585 515 594M460 564Q460 574 458 579M573 579Q574 585 580 593M489 578Q488 587 488 592M497 631Q500 639 498 647M546 478Q545 483 547 488M555 677Q555 682 551 684M454 434Q453 443 452 450M591 503Q590 509 594 513M591 611Q586 617 584 624M498 648Q501 652 500 657M534 717Q531 719 528 722M581 454Q587 461 593 470M474 540Q477 541 479 546M441 504Q436 512 427 517M588 574Q592 576 597 583M439 582Q440 584 439 589M466 366Q470 371 478 378M432 459Q425 462 418 471M530 376Q529 380 525 382M434 515Q436 525 433 534M578 644Q578 650 579 652M505 587Q504 592 504 600M414 553Q410 556 412 560M579 604Q585 608 590 614M403 476Q413 482 418 486M406 482Q405 487 408 492M527 399Q529 407 531 416M426 447Q426 450 422 456M539 600Q545 605 551 613M533 618Q531 624 524 627M562 477Q560 483 557 488" stroke="#1a46a8" stroke-width="1.2" fill="none" opacity="0.7"/>
<path d="M436 492Q435 500 435 507M447 711Q446 717 445 718M510 644Q515 647 514 653M392 547Q393 554 391 559M480 423Q480 427 484 430M505 656Q505 661 503 672M506 696Q509 701 508 703M457 662Q456 670 455 675M462 510Q458 514 458 522M555 550Q557 553 556 557M467 604Q462 610 463 613M556 698Q551 703 545 713M494 380Q494 385 495 394M388 614Q392 618 396 627M532 521Q526 525 521 533M424 570Q428 579 431 583M479 622Q475 626 465 635M506 550Q509 554 509 562M600 477Q594 487 593 493M453 527Q445 533 442 538M474 393Q478 396 477 404M451 514Q452 521 451 525M436 520Q431 528 430 539M564 488Q568 491 571 496M561 503Q564 505 570 511M443 558Q442 565 440 569M541 515Q546 523 549 528M431 568Q430 571 431 574M540 709Q537 713 534 718M556 574Q559 576 562 582M455 671Q464 677 469 680M470 427Q465 431 460 434M443 637Q443 645 448 656M556 414Q554 417 550 420M413 635Q412 643 406 647M427 657Q429 662 431 666M576 653Q576 661 582 667M514 466Q511 477 512 485M484 356Q485 363 487 371M479 412Q484 416 484 424M547 470Q550 474 553 483M420 670Q415 670 413 670M437 590Q434 591 434 597M487 394Q497 394 505 395M427 679Q430 687 434 691M422 489Q422 497 420 509M481 439Q486 446 489 449M579 613Q577 615 578 623M521 513Q518 522 514 529M406 536Q401 540 395 546M481 560Q477 568 477 576M415 660Q416 664 414 670M458 411Q460 416 459 420M582 648Q587 652 596 652M527 698Q531 701 534 702M396 648Q390 654 390 656M397 476Q398 481 404 481M428 555Q431 558 430 564" stroke="#3574e0" stroke-width="0.9" fill="none" opacity="0.7"/>
<path d="M581 632Q577 639 578 649M401 616Q398 616 401 622M556 447Q557 457 557 464M455 657Q451 662 453 668M543 447Q540 451 538 461M425 515Q425 523 430 527M516 638Q514 647 518 653M389 626Q392 633 398 636M546 661Q541 668 540 678M423 647Q427 648 428 654M438 703Q436 706 431 713M434 413Q433 416 437 419M515 689Q512 695 507 703M473 582Q472 584 474 590M446 660Q447 667 451 679M462 537Q462 548 461 554M529 604Q534 610 541 618M563 708Q562 714 564 717M520 360Q524 366 534 367M480 636Q480 643 484 648M453 538Q453 540 447 542M496 341Q494 349 495 354M496 584Q500 591 499 600M468 634Q467 638 460 645M414 452Q411 457 408 467M445 669Q443 678 443 682M431 570Q437 577 440 583M522 346Q519 354 519 365M462 607Q456 614 452 622M468 598Q466 602 467 604M445 640Q437 649 436 655M433 534Q429 533 421 538M591 674Q587 679 586 684M551 361Q548 368 549 371M473 552Q472 557 475 559M601 628Q596 629 590 630M572 467Q571 470 571 476M409 591Q402 597 393 599M541 462Q541 469 546 480M607 491Q606 501 605 509M437 486Q439 495 440 503M459 640Q458 647 458 654M447 621Q446 623 448 628M498 595Q490 604 487 611M505 630Q511 633 517 640M475 516Q474 522 474 522M487 493Q490 501 489 508M395 568Q395 577 397 583M544 688Q548 690 551 692M430 534Q434 538 435 548M506 705Q511 708 518 707M452 434Q450 443 448 449M428 404Q429 410 428 413" stroke="#14409c" stroke-width="0.9" fill="none" opacity="0.7"/>
<path d="M456 462Q464 466 467 471M552 545Q555 551 560 553M474 520Q472 529 471 534M419 479Q417 483 413 492M511 463Q511 465 515 472M605 509Q594 511 586 512M591 564Q589 569 592 578M495 442Q494 443 489 447M449 651Q442 658 438 664M398 657Q403 660 405 667M576 539Q578 550 577 558M406 497Q411 506 414 513M486 530Q481 535 477 543M508 383Q510 394 507 402M503 570Q502 582 502 588M442 693Q441 702 444 707M516 539Q512 542 507 547M529 644Q529 652 532 661M466 455Q469 457 476 459M465 358Q465 368 460 375M533 403Q532 408 528 408M515 458Q519 462 523 464M383 583Q386 589 385 594M499 391Q502 397 506 402M460 631Q458 637 457 641M465 593Q470 597 470 596M448 446Q450 451 449 455M579 670Q584 682 583 689M579 672Q582 681 582 691M396 641Q394 644 398 651M478 471Q479 478 478 485M400 587Q399 593 399 599M441 601Q436 605 432 606M537 478Q542 482 545 488M472 364Q471 375 467 382M430 564Q432 571 434 579M468 645Q469 654 472 657M412 471Q407 474 406 481M514 487Q517 490 522 498M442 645Q441 654 437 657M603 539Q605 545 611 556M590 469Q591 474 591 480M465 688Q472 696 472 707M570 497Q565 508 566 516M516 709Q513 715 511 721M493 491Q498 496 497 504M466 524Q468 531 465 541M602 451Q606 461 609 468M526 477Q522 481 520 487M565 437Q565 442 563 445M578 704Q580 710 587 721" stroke="#1c50bc" stroke-width="0.9" fill="none" opacity="0.7"/>
<path d="M509 699Q510 705 515 710M544 597Q547 604 548 616M394 551Q397 560 400 567M406 638Q406 647 407 654M517 718Q513 720 515 723M410 626Q405 626 404 630M578 587Q581 592 579 596M501 584Q496 591 496 593M483 720Q484 725 487 730M498 509Q500 514 504 516M453 607Q456 609 463 615M521 676Q523 681 524 681M425 665Q424 668 421 670M457 529Q459 535 464 538M474 381Q469 383 465 388M593 639Q599 647 600 653M554 474Q561 478 565 482M466 644Q467 655 468 663M404 599Q405 603 407 608M581 494Q584 503 589 510M436 423Q440 430 439 432M595 552Q599 557 598 558M392 552Q391 558 394 563M505 436Q513 446 516 451M517 423Q520 428 518 435M455 665Q459 669 462 676M494 342Q493 348 494 349M462 599Q455 602 453 611M414 669Q415 672 414 677M440 591Q442 599 440 603M434 453Q432 460 428 468M440 551Q440 557 439 559M502 655Q499 662 494 664M592 608Q597 609 597 616M580 506Q581 511 578 516M494 560Q491 563 484 567M503 456Q505 461 512 465M551 443Q548 445 550 450M402 653Q400 663 404 670M503 616Q499 618 496 622M457 615Q458 621 455 624M607 524Q611 533 611 538M582 696Q579 705 576 709M493 470Q498 474 501 477" stroke="#2f6cdc" stroke-width="1.2" fill="none" opacity="0.7"/>
<path d="M540 622Q535 630 534 635M467 439Q467 442 469 448M517 409Q517 419 517 426M513 368Q515 376 521 384M391 613Q391 619 394 625M472 708Q475 710 479 713M481 376Q476 378 477 382M491 567Q492 571 496 577M480 668Q482 671 482 677M563 683Q561 689 562 694M536 699Q538 709 539 717M461 454Q460 461 457 466M429 412Q432 416 432 419M525 592Q525 593 524 599M458 583Q458 586 455 592M560 619Q557 620 560 626M553 512Q557 518 557 522M441 593Q440 596 440 604M576 453Q575 458 578 459M569 652Q566 656 567 664M579 530Q581 538 585 547M433 472Q439 474 446 481M570 593Q569 597 572 600M535 416Q536 426 533 435M390 554Q395 558 394 559M611 592Q613 604 619 610M517 648Q520 653 519 662M477 434Q477 441 471 451M609 592Q610 598 607 601M528 458Q527 462 527 470M427 675Q424 680 423 688M570 436Q564 437 562 442M530 549Q529 551 530 557M436 614Q440 621 439 623M520 459Q518 464 514 474M442 566Q443 574 440 585M488 659Q489 665 489 675M484 586Q485 591 490 590M585 477Q581 479 580 486M409 445Q400 449 397 447M478 484Q479 487 476 492M526 573Q528 577 525 580M575 569Q573 580 568 585M467 445Q472 451 474 456M496 623Q498 628 497 636M548 618Q553 622 559 628M594 618Q595 625 599 629M381 555Q383 563 387 566M465 537Q467 547 465 550M520 634Q519 637 514 638M589 475Q588 481 593 487M460 703Q461 708 459 715M455 375Q453 381 451 388M421 558Q420 564 416 571" stroke="#5a94ea" stroke-width="0.9" fill="none" opacity="0.7"/>
<path d="M489 475Q482 482 481 488M548 402Q551 411 548 417M505 425Q502 428 500 432M458 561Q461 566 463 574M390 590Q393 597 396 600M538 670Q540 675 538 678M450 493Q458 497 465 500M514 590Q510 600 508 604M515 606Q516 616 520 624M521 451Q524 457 524 459M579 425Q577 435 574 441M559 369Q559 377 564 382M463 565Q459 574 460 579M513 490Q517 499 518 506M567 402Q570 405 577 407M552 423Q548 425 547 431M445 475Q453 482 460 485M406 672Q403 675 396 682M611 572Q613 583 614 591M475 409Q475 419 480 426M409 502Q409 505 409 514M445 453Q444 458 448 463M505 681Q503 686 503 687M563 547Q555 554 553 563M532 397Q531 403 536 405M537 382Q542 384 542 390M565 617Q565 624 561 626M594 471Q595 476 598 477M446 512Q447 517 447 526M433 462Q430 467 433 474M523 450Q523 454 527 458M589 447Q587 456 590 460M396 590Q399 593 396 599M467 534Q465 540 468 547M441 577Q440 582 441 592M409 666Q408 672 407 677M557 521Q555 525 551 534M440 697Q438 699 442 705M542 667Q543 667 538 671M470 636Q468 640 471 645M479 523Q477 529 475 529M421 458Q423 462 424 472M520 402Q517 403 518 409M447 670Q441 676 433 680M389 566Q386 575 386 581M543 424Q546 429 548 428M517 679Q515 684 515 687M589 421Q591 426 590 427M392 589Q394 599 403 605M528 452Q525 453 525 458M427 594Q424 601 426 612M524 694Q526 697 527 706M401 557Q403 564 402 571M575 572Q576 580 571 589M522 444Q517 450 515 460M590 440Q584 440 575 435M404 620Q405 623 403 627M516 675Q518 681 516 683M518 666Q513 669 511 675M420 489Q416 496 416 506" stroke="#1c50bc" stroke-width="1.2" fill="none" opacity="0.7"/>
<path d="M410 606Q408 610 405 613M484 508Q486 511 490 519M582 478Q581 487 580 498M487 350Q488 361 484 368M386 593Q382 594 380 599M556 541Q557 547 553 548M504 724Q503 732 501 734M421 452Q424 454 422 459M467 364Q466 366 469 374M607 515Q609 520 607 523M488 601Q493 605 493 606M457 492Q454 497 453 506M584 515Q588 521 588 529M574 444Q582 439 590 437M405 577Q406 584 408 592M600 447Q595 453 590 455M518 579Q526 584 533 585M489 636Q484 639 484 642M461 683Q469 687 477 691M458 683Q459 690 458 697M566 608Q564 610 558 618M418 574Q413 576 410 581M539 675Q542 685 546 692M567 681Q567 687 564 691M489 520Q485 524 482 529M426 467Q425 473 425 482M503 567Q501 570 505 578M495 497Q495 501 498 504M404 479Q402 483 406 488M582 610Q580 621 581 626M483 653Q487 655 490 663M549 625Q552 628 553 631M551 669Q551 674 551 682M511 512Q510 523 509 529M396 637Q394 644 397 646M565 427Q568 436 566 443M568 527Q569 535 575 541M524 742Q520 749 514 757M496 570Q502 573 513 578M548 438Q550 441 551 447M533 406Q530 413 533 415M437 474Q437 485 438 492M586 490Q587 499 590 508M601 498Q595 507 593 513M555 621Q559 629 565 632M495 499Q492 506 488 514M474 602Q476 603 482 610M576 534Q579 541 576 543M389 631Q396 638 397 647M404 464Q406 470 405 475M479 413Q478 421 479 426M595 682Q598 684 599 691" stroke="#1a46a8" stroke-width="0.9" fill="none" opacity="0.7"/>
<path d="M488 559Q485 571 485 578M547 673Q543 675 539 678M406 518Q408 520 416 527M525 738Q529 744 532 747M462 570Q464 571 470 576M568 402Q564 406 557 414M606 464Q606 472 607 483M545 406Q542 413 543 424M604 607Q607 612 608 617M441 654Q443 656 440 660M394 597Q390 607 387 614M585 637Q586 642 588 645M558 603Q557 610 562 623M598 464Q593 469 593 475M504 510Q510 514 513 518M546 656Q550 662 549 668M493 668Q488 670 479 670M609 559Q612 564 610 568M491 591Q496 598 495 608M392 568Q390 574 390 580M543 506Q542 509 543 513M527 475Q530 477 536 477M505 494Q512 500 513 501M520 724Q520 730 524 729M488 715Q482 716 479 721M477 505Q476 506 473 512M605 535Q598 540 590 544M398 543Q396 551 396 558M411 594Q406 595 404 601M491 453Q498 462 502 465M401 467Q403 473 398 478M567 573Q570 577 573 582M506 489Q505 501 506 507M538 725Q534 733 529 740M514 673Q509 679 508 685M388 543Q391 544 391 550M489 430Q488 437 491 448M515 482Q512 483 512 488M500 479Q501 484 499 491M497 365Q498 369 505 370M444 394Q442 398 441 407M549 598Q549 606 550 617M598 547Q599 551 601 559M480 391Q476 400 474 405M464 462Q463 466 466 474M552 557Q553 563 548 567M476 458Q473 462 465 466M403 593Q405 596 403 600M522 439Q520 442 516 449M569 532Q576 540 578 547M443 441Q446 450 450 459M396 570Q397 575 397 581M597 566Q602 569 605 575M607 575Q609 580 607 584M428 517Q430 525 434 530M384 573Q382 581 384 585M515 614Q520 619 525 626M508 609Q506 609 504 614M548 573Q549 583 551 587" stroke="#1a46a8" stroke-width="0.6" fill="none" opacity="0.7"/>
<path d="M536 502Q535 507 528 511M613 564Q609 567 609 569M482 395Q482 402 483 406M574 651Q572 653 569 657M500 726Q497 730 495 734M497 682Q494 684 493 687M523 372Q527 374 528 378M554 421Q565 425 573 428M536 675Q533 679 534 681M435 465Q431 466 426 469M506 471Q499 479 499 489M475 430Q481 432 483 436M459 468Q460 473 462 477M566 463Q569 465 571 468M484 693Q481 701 482 706M495 391Q493 397 492 408M435 609Q436 612 432 616M541 580Q548 587 550 594M428 577Q436 582 440 588M482 436Q477 445 478 452M481 414Q479 419 479 425M445 627Q447 629 445 635M489 674Q493 682 496 685M402 510Q408 519 407 525M423 669Q423 670 428 677M579 686Q578 688 574 692M421 655Q418 659 411 659M572 665Q572 670 568 670M443 449Q440 454 442 462M425 451Q421 461 421 470M394 513Q397 520 402 529M472 498Q475 503 475 506M582 414Q584 416 581 421M435 439Q436 443 436 453M570 594Q567 596 561 596M484 416Q485 422 488 428M515 600Q521 609 523 617M439 534Q439 541 439 549M592 555Q590 560 592 565M551 627Q549 633 552 642M567 489Q561 495 558 504M580 574Q577 582 574 587M541 453Q544 461 543 468M460 685Q458 688 456 696M438 620Q435 630 436 636M556 498Q555 503 549 507M611 557Q618 565 620 572M490 462Q489 470 486 474M443 447Q436 455 428 460M504 548Q501 555 503 564M469 548Q463 549 462 552M524 402Q522 411 526 420M575 587Q580 588 587 594M465 437Q467 442 465 445M418 427Q409 430 405 433M472 411Q481 417 486 422M462 405Q466 415 463 421M577 476Q574 485 571 493M499 518Q502 522 503 529" stroke="#3574e0" stroke-width="1.2" fill="none" opacity="0.7"/>
<path d="M401 489Q403 496 408 507M417 473Q416 479 415 480M570 622Q573 629 570 637M553 472Q556 474 556 479M574 452Q571 456 569 462M395 510Q399 518 398 528M556 638Q562 644 567 651M573 498Q570 502 573 506M602 547Q602 551 599 560M469 406Q462 407 457 411M441 650Q441 655 438 659M555 447Q558 455 559 463M482 383Q482 387 480 391M559 567Q558 578 553 585M544 680Q550 680 550 685M433 649Q438 653 443 653M494 701Q504 707 509 708M596 663Q590 673 588 677M416 623Q416 631 413 636M608 538Q608 546 612 549M519 533Q520 537 515 537M417 576Q425 582 429 586M436 681Q441 689 442 697M476 582Q474 591 473 600M527 590Q528 593 526 598M436 576Q433 580 432 591M447 702Q451 704 456 711M490 582Q494 588 494 589M550 540Q545 545 541 550M551 455Q555 462 555 470M527 502Q525 506 526 512M489 409Q490 414 486 419M533 543Q531 545 526 548M590 617Q596 621 598 628M544 693Q547 695 549 699M573 454Q571 462 567 470M491 412Q489 422 483 426M483 496Q481 504 476 513M520 377Q524 385 526 394M592 448Q592 455 594 457M426 666Q423 672 426 674M431 505Q430 514 430 517M512 627Q514 632 513 635M429 615Q426 617 428 624M502 717Q495 723 494 730M461 620Q463 630 469 635M542 467Q549 472 552 477M584 456Q588 459 593 467" stroke="#2f6cdc" stroke-width="0.9" fill="none" opacity="0.7"/>
<path d="M524 458Q526 464 532 470M569 531Q568 534 563 539M475 466Q474 469 469 474M525 680Q526 682 527 686M566 486Q570 492 577 501M464 355Q463 361 464 369M398 643Q392 652 389 658M607 515Q608 520 609 522M428 647Q424 649 426 654M509 497Q507 507 500 512M509 432Q506 437 501 444M532 459Q534 462 535 467M430 486Q423 491 421 495M494 387Q491 389 487 395M442 572Q440 577 436 583M426 636Q426 643 424 647M381 600Q388 609 396 613M491 702Q487 711 484 721M386 568Q390 574 391 581M525 435Q530 441 538 449M420 549Q422 555 419 556M532 618Q530 621 534 628M394 487Q397 489 403 492M495 519Q496 525 500 536M475 440Q472 443 469 449M544 452Q547 461 547 466M499 392Q504 397 512 404M518 445Q516 447 515 452M511 340Q512 347 509 350M524 682Q522 690 524 698M532 672Q528 677 525 680M523 541Q519 553 517 560M437 428Q438 438 442 445M534 532Q535 542 531 547M429 405Q424 408 423 408M518 548Q518 550 515 557M441 396Q438 404 438 410M423 418Q424 423 425 429M590 685Q595 692 597 694M587 419Q582 426 573 431M540 399Q542 406 543 413M549 679Q550 688 553 698M501 475Q499 479 498 483M457 445Q461 449 462 450M502 388Q498 391 499 397M548 359Q545 364 547 371M392 500Q399 507 407 514M525 471Q527 476 525 481M589 663Q588 670 589 675M568 538Q574 547 575 556M569 723Q575 727 576 728M476 396Q474 405 474 411M418 447Q417 453 417 453M589 579Q587 585 587 591M599 582Q597 587 600 594M475 641Q473 648 466 655" stroke="#14409c" stroke-width="0.6" fill="none" opacity="0.7"/>
<path d="M528 448Q524 453 517 457M543 383Q546 386 552 392M534 534Q537 537 539 546M381 557Q382 558 381 563M532 604Q530 608 532 610M552 526Q549 531 552 540M560 671Q555 677 554 684M557 670Q555 676 557 680M464 507Q467 512 467 521M604 540Q599 545 597 556M452 660Q455 666 454 670M431 448Q432 460 431 467M441 701Q444 707 450 716M526 738Q527 744 528 749M526 692Q527 694 527 699M475 434Q476 441 471 453M535 520Q526 521 521 526M397 559Q398 562 396 568M530 351Q532 353 529 358M559 550Q556 557 556 562M394 545Q394 549 392 556M472 575Q465 580 462 589M605 507Q605 514 608 517M426 624Q424 627 428 632M453 543Q449 545 451 551M400 479Q401 487 399 497M460 475Q463 480 467 483M388 603Q390 604 389 610M572 676Q571 678 571 684M512 493Q514 497 518 498M523 371Q520 378 520 390M482 718Q490 721 494 730M609 529Q612 528 613 533M462 517Q464 527 462 536M502 685Q496 689 494 693M426 538Q420 547 419 551M504 371Q502 375 504 377M529 666Q528 674 523 685M563 511Q569 522 571 528M384 542Q380 549 380 552M467 636Q466 645 464 654M559 703Q561 702 563 707M599 572Q599 576 596 580M598 441Q596 444 593 450M505 515Q506 518 509 522M466 408Q469 414 469 415M515 708Q521 714 522 721M604 556Q607 558 608 564M536 728Q532 733 533 738M471 391Q468 396 468 403M508 440Q513 440 516 441M431 416Q430 419 434 421M506 574Q509 576 510 581M547 607Q547 614 550 621M509 377Q509 382 509 387M541 365Q545 375 545 382M474 396Q469 403 469 414M479 523Q486 530 486 534M382 606Q385 611 391 614M466 630Q462 639 458 647M598 615Q593 625 591 634M490 516Q490 520 491 527M523 688Q521 692 525 695M436 407Q434 415 438 425M440 584Q436 592 436 597M564 441Q559 444 555 449M439 462Q437 468 435 476" stroke="#2a66d8" stroke-width="0.6" fill="none" opacity="0.7"/>
<path d="M406 507Q404 517 398 525M494 434Q497 438 496 447M505 420Q499 426 497 433M437 479Q441 486 447 489M544 465Q546 471 544 482M544 378Q546 381 547 384M524 533Q525 536 530 537M487 616Q481 620 477 627M543 719Q547 725 552 730M502 676Q500 682 501 693M410 467Q407 472 403 477M596 533Q594 539 588 543M592 518Q591 524 591 527M524 440Q523 443 526 453M555 374Q551 376 554 382M576 425Q576 430 572 431M527 393Q528 398 534 409M433 553Q428 556 426 560M544 737Q542 742 543 747M454 492Q456 496 458 505M468 405Q470 409 472 411M527 683Q528 687 532 694M546 432Q546 440 543 451M585 432Q579 439 576 449M397 645Q397 651 397 655M491 499Q492 501 496 506M449 386Q448 391 448 394M415 483Q414 485 410 490M603 571Q605 579 607 587M527 602Q525 608 522 618M478 462Q482 470 480 476M496 347Q497 349 497 357M462 656Q461 658 460 665M532 577Q531 580 534 583M446 425Q448 436 451 443M604 481Q605 486 601 489M458 436Q464 439 467 442M529 404Q529 408 532 413M580 437Q582 442 578 446M486 644Q488 652 486 657M457 358Q454 359 452 365M540 724Q536 730 532 731M541 463Q539 474 535 481M570 435Q568 442 563 446M557 633Q562 634 562 639M399 657Q406 664 406 673M513 427Q513 433 516 435M431 588Q429 591 429 598M385 556Q383 563 385 574M541 393Q544 394 543 400M578 487Q573 490 569 495M461 442Q459 446 454 445M536 621Q539 629 538 633M508 638Q509 647 510 655M433 535Q431 542 431 545M431 505Q435 514 444 519" stroke="#4282e6" stroke-width="0.6" fill="none" opacity="0.7"/>
<path d="M439 535Q441 540 438 548M562 377Q557 382 552 385M442 558Q445 563 442 574M525 517Q528 523 531 534M540 646Q542 651 545 654M520 424Q516 435 515 442M474 532Q472 534 473 539M421 566Q422 573 420 578M451 496Q453 500 455 506M469 658Q471 666 471 668M532 538Q530 546 534 557M540 404Q548 409 555 411M546 515Q548 523 546 525M553 398Q549 402 547 405M431 591Q427 597 424 604M411 529Q412 529 407 534M527 450Q528 454 525 459M398 649Q399 657 395 664M484 392Q489 397 490 401M564 596Q561 600 557 605M434 675Q432 682 433 688M558 499Q560 510 565 517M495 506Q499 509 504 511M493 636Q494 643 500 648M537 661Q533 667 526 673M478 418Q480 420 485 427M597 529Q597 539 598 546M494 394Q499 397 498 403M414 456Q418 460 420 468M464 664Q461 666 454 670M573 590Q575 598 574 608M414 675Q420 679 422 689M517 362Q515 368 518 373M400 565Q393 567 392 570M457 684Q455 691 454 698M473 444Q469 453 469 459M515 618Q513 626 508 628M540 398Q537 406 538 413M447 455Q445 457 441 464M550 734Q555 741 557 745M451 533Q452 541 448 552M544 722Q545 731 542 737M573 603Q576 614 582 621M608 618Q604 624 600 626" stroke="#2a66d8" stroke-width="1.2" fill="none" opacity="0.7"/>
<path d="M488 485Q480 490 478 500M532 474Q535 478 541 485M452 645Q452 646 457 650M413 533Q413 540 413 546M573 417Q578 422 579 430M526 564Q521 572 519 580M499 342Q498 349 493 352M496 627Q500 632 509 641M595 623Q588 630 588 641M487 662Q486 664 489 668M405 464Q404 474 408 481M481 542Q486 544 487 551M469 459Q471 470 469 478M466 423Q462 430 464 441M513 671Q509 673 507 682M566 719Q562 725 555 732M570 529Q573 537 579 545M495 611Q495 616 493 618M395 553Q397 555 400 559M405 503Q405 508 402 509M455 381Q455 385 453 392M436 409Q433 413 431 419M500 526Q504 534 506 537M433 703Q433 710 437 711M483 510Q486 513 492 517M584 704Q586 709 590 715M559 535Q555 538 556 547M388 548Q384 551 386 556M404 559Q401 568 398 577M435 639Q431 648 422 651M494 543Q497 548 498 554M401 660Q402 666 401 674M591 489Q595 493 603 502M531 673Q528 682 527 689M567 428Q566 436 569 447M486 537Q486 541 488 551M543 497Q549 505 550 508M494 390Q487 396 482 398M571 505Q574 512 573 520M416 475Q415 479 410 480M494 696Q489 700 481 699M500 386Q497 393 497 398M417 464Q414 465 411 468M529 472Q532 477 537 487M464 535Q462 543 464 548M577 612Q574 613 572 618M593 491Q597 501 598 506M561 681Q555 688 552 692M383 587Q387 588 394 592M468 502Q467 508 467 518M431 460Q427 466 418 475M490 459Q492 460 492 466" stroke="#4282e6" stroke-width="1.2" fill="none" opacity="0.7"/>
<path d="M431 415Q435 423 436 426M568 411Q569 416 572 418M487 640Q490 649 490 654M572 611Q574 613 579 617M496 405Q500 412 499 412M415 680Q418 685 417 689M444 436Q445 439 447 447M476 613Q477 618 474 623M525 522Q521 529 518 531M490 599Q487 602 485 604M427 642Q423 649 425 650M544 620Q546 626 547 634M438 641Q437 646 436 650M501 416Q499 422 497 422M481 516Q482 517 481 524M417 469Q415 473 419 476M434 420Q438 421 440 426M563 640Q568 643 566 649M543 376Q539 378 537 384M545 702Q544 707 542 709M455 432Q454 438 447 443M577 639Q580 647 585 655M500 432Q501 438 499 449M439 546Q438 551 440 557M475 446Q478 453 484 459M506 535Q502 540 501 548M436 548Q434 555 430 566M524 527Q524 528 520 533M407 670Q409 674 408 677M503 568Q500 574 500 585M545 408Q541 417 542 421M423 451Q422 456 418 465M444 544Q441 548 434 558M517 439Q519 445 518 456M440 505Q438 514 435 522M556 477Q551 488 551 495M551 506Q557 513 563 517M540 402Q539 407 542 410M451 390Q454 398 458 400M545 715Q543 719 536 727M565 605Q565 611 566 617M463 630Q462 631 459 635M498 697Q497 703 494 711M555 684Q559 685 557 690M572 575Q572 582 570 593M494 685Q488 689 484 694M553 619Q546 625 543 633M496 355Q492 366 492 370M482 497Q485 502 484 512M512 621Q513 625 512 628" stroke="#3574e0" stroke-width="0.6" fill="none" opacity="0.7"/>
<path d="M401 664Q402 672 397 683M472 350Q468 354 469 356M511 389Q514 399 513 406M561 427Q556 428 553 433M512 659Q516 666 517 677M553 734Q551 743 552 749M430 602Q428 613 427 621M519 594Q516 603 519 612M473 382Q473 386 476 392M423 647Q424 653 425 656M562 553Q568 560 569 562M461 719Q463 720 466 726M517 653Q521 662 524 666M555 572Q555 575 560 583M546 554Q546 562 548 567M574 605Q576 611 574 612M401 525Q402 532 407 540M466 411Q472 414 478 418M443 464Q447 476 446 482M456 542Q448 553 445 558M563 444Q570 449 576 459M468 645Q463 647 464 653M499 416Q497 425 500 435M523 365Q522 369 522 372M579 641Q577 643 576 646M470 376Q466 384 466 393M602 597Q603 602 601 609M562 523Q563 534 562 543M384 592Q383 601 377 610M552 410Q553 419 550 429M457 664Q455 670 452 680M537 418Q539 428 537 434M539 464Q532 470 531 478M531 613Q530 615 525 615M536 550Q537 559 539 565M516 584Q520 588 521 593M524 654Q521 655 513 658M477 708Q477 715 472 724M488 432Q494 438 495 440M445 663Q444 673 448 678M583 687Q584 693 589 704M466 675Q463 681 457 690M445 625Q442 629 443 635M493 601Q493 610 491 620M593 551Q596 559 595 567M589 607Q592 612 600 622M519 354Q524 359 535 364M544 433Q542 443 543 448M541 636Q549 644 554 651M485 635Q483 640 483 648M416 429Q418 436 414 437M562 627Q561 630 562 633M543 516Q549 521 561 522" stroke="#2a66d8" stroke-width="0.9" fill="none" opacity="0.7"/>
<g clip-path="url(#blobclip)"><rect x="370" y="330" width="250" height="420" fill="#fff" filter="url(#fibr)" opacity="0.4"/></g>
<ellipse cx="455" cy="555" rx="85" ry="110" fill="url(#coreg)" filter="url(#blur4)"/>
<path d="M454 540L452 513M459 544L467 511M466 550L485 536M443 593L435 615M424 527L409 512M433 542L421 532M476 579L486 588M425 517L407 492M409 594L390 608M458 580L462 605" stroke="#7a2070" stroke-width="3.6" fill="none" opacity="0.6" stroke-linecap="round"/>
<path d="M476 589L485 601M433 522L422 505M433 569L417 577M446 539L438 524M439 556L422 554M474 611L483 638M409 528L386 513M448 602L444 623" stroke="#5a2a8a" stroke-width="4.4" fill="none" opacity="0.6" stroke-linecap="round"/>
<path d="M440 617L434 636M478 508L486 490M431 618L423 640M450 511L448 486M439 499L433 478M443 583L431 610M489 517L505 498M462 526L465 508M440 534L431 519M464 575L477 600M475 578L484 588M441 526L433 507M435 566L418 572M464 592L471 617M444 513L440 496" stroke="#6a2280" stroke-width="2.8" fill="none" opacity="0.6" stroke-linecap="round"/>
<path d="M454 538L454 513M482 574L500 584M424 582L409 593M486 544L508 535M456 574L458 593M445 577L431 602M450 513L449 496M461 518L466 492M431 596L423 609M476 517L489 493M442 551L423 541" stroke="#2a2a90" stroke-width="2.8" fill="none" opacity="0.6" stroke-linecap="round"/>
<path d="M422 559L410 560M486 584L509 602M468 511L475 487M450 574L443 596M494 542L517 532" stroke="#5a2a8a" stroke-width="2.8" fill="none" opacity="0.6" stroke-linecap="round"/>
<path d="M437 527L425 506M439 623L433 647M478 556L499 555M447 579L440 598M425 539L410 530M458 625L460 648M478 592L488 607M451 574L448 588M474 562L489 564M460 577L464 593M482 519L491 507M478 514L493 487M419 566L401 570" stroke="#7a2070" stroke-width="4.4" fill="none" opacity="0.6" stroke-linecap="round"/>
<path d="M489 604L503 623M434 514L422 490M413 595L402 605M467 516L476 486M431 550L411 544M494 555L514 554M487 556L513 553M479 506L486 492M443 587L438 600M486 568L511 576M450 533L444 507M470 574L483 586" stroke="#4a2a9a" stroke-width="2.8" fill="none" opacity="0.6" stroke-linecap="round"/>
<path d="M402 543L386 539M413 590L401 599M491 536L512 522M428 565L414 568M486 577L502 588M457 575L461 601M433 548L412 539M435 560L419 562" stroke="#4a2a9a" stroke-width="3.6" fill="none" opacity="0.6" stroke-linecap="round"/>
<path d="M424 503L412 481M436 554L411 548M451 575L446 596M446 529L439 508M447 582L441 600M447 599L442 627M443 527L436 511M468 545L478 535M449 525L445 509M431 519L416 495M469 540L483 524M476 575L486 583" stroke="#5a1a7a" stroke-width="3.6" fill="none" opacity="0.6" stroke-linecap="round"/>
<path d="M442 558L418 557M420 567L404 571M485 573L497 578M482 542L505 529M416 563L396 566M483 605L496 627M472 494L479 468M452 543L449 526M462 593L466 617M459 539L466 510M408 535L391 526M414 594L399 607M407 544L393 540" stroke="#3a2aa0" stroke-width="2.8" fill="none" opacity="0.6" stroke-linecap="round"/>
<path d="M484 602L493 616M498 569L519 575M470 561L481 563M478 576L500 593M456 577L457 600M403 555L384 554M412 515L402 505M415 537L401 530M484 588L501 606M431 580L413 597M430 503L419 477M496 556L510 555M442 507L437 488M429 544L415 536M434 495L427 471" stroke="#2a2a90" stroke-width="4.4" fill="none" opacity="0.6" stroke-linecap="round"/>
<path d="M443 503L438 478M420 539L403 529M475 513L485 490M464 507L469 484M470 584L482 605M457 519L458 492M423 526L405 508M447 572L438 588" stroke="#5a2a8a" stroke-width="3.6" fill="none" opacity="0.6" stroke-linecap="round"/>
<path d="M464 516L467 499M455 619L456 641M443 564L426 571M468 524L474 511M475 540L486 531M480 596L491 613M456 612L457 645" stroke="#2a2a90" stroke-width="3.6" fill="none" opacity="0.6" stroke-linecap="round"/>
<path d="M459 602L461 628M483 610L495 634M447 586L441 606M496 517L507 505M475 608L486 634M471 548L491 534M447 589L443 602M420 609L403 634M428 514L416 496" stroke="#5a1a7a" stroke-width="2.8" fill="none" opacity="0.6" stroke-linecap="round"/>
<path d="M420 536L396 521M455 601L455 623M439 599L431 618M487 604L504 630M433 556L422 555M493 566L516 570M414 580L394 590M475 510L487 481M435 549L421 543M470 621L476 645" stroke="#3a2aa0" stroke-width="4.4" fill="none" opacity="0.6" stroke-linecap="round"/>
<path d="M489 552L501 549M437 600L432 614M449 544L440 525M439 514L430 492M493 562L513 564M467 586L478 611M475 549L488 543M455 626L455 658" stroke="#5a1a7a" stroke-width="4.4" fill="none" opacity="0.6" stroke-linecap="round"/>
<path d="M466 516L475 485M428 565L414 568M505 582L528 594M456 496L457 462M421 525L410 515M430 533L411 514" stroke="#6a2280" stroke-width="3.6" fill="none" opacity="0.6" stroke-linecap="round"/>
<path d="M470 522L477 504M455 541L454 513M437 588L422 612M435 607L427 625M409 529L398 522M473 615L481 644" stroke="#3a2aa0" stroke-width="3.6" fill="none" opacity="0.6" stroke-linecap="round"/>
<path d="M476 512L482 497M437 565L420 572M458 527L461 505M431 537L421 528M457 578L459 596M449 579L441 607M444 543L430 522" stroke="#4a2a9a" stroke-width="4.4" fill="none" opacity="0.6" stroke-linecap="round"/>
<path d="M476 551L492 546M468 605L476 634M411 562L390 563M499 594L513 606M443 546L433 537M462 586L467 607M474 536L487 521M470 526L482 497M457 535L458 517" stroke="#6a2280" stroke-width="4.4" fill="none" opacity="0.6" stroke-linecap="round"/>
<path d="M463 517L467 498M438 541L421 525M487 595L503 613M485 531L496 522M493 573L509 579M458 591L462 623M463 577L474 602M437 572L424 583" stroke="#7a2070" stroke-width="2.8" fill="none" opacity="0.6" stroke-linecap="round"/>
<path d="M434 597h0M384 588h0M474 517h0M397 611h0" stroke="#b0285a" stroke-width="4" fill="none" opacity="0.7" stroke-linecap="round"/>
<path d="M414 608h0M490 585h0M393 508h0M475 527h0M463 489h0M476 504h0" stroke="#8a2aa0" stroke-width="3" fill="none" opacity="0.7" stroke-linecap="round"/>
<path d="M426 488h0M425 648h0M453 484h0M476 592h0M414 627h0M440 561h0M426 521h0M491 604h0M505 610h0M499 519h0" stroke="#b02080" stroke-width="5" fill="none" opacity="0.7" stroke-linecap="round"/>
<path d="M495 532h0M442 481h0M438 623h0M425 617h0M406 494h0M434 498h0M442 539h0" stroke="#a02a7a" stroke-width="3" fill="none" opacity="0.7" stroke-linecap="round"/>
<path d="M506 557h0M451 563h0M443 471h0M406 559h0M482 550h0M453 602h0" stroke="#c03060" stroke-width="5" fill="none" opacity="0.7" stroke-linecap="round"/>
<path d="M510 543h0M521 563h0M419 478h0M450 616h0M490 552h0M433 652h0M510 509h0" stroke="#c03060" stroke-width="3" fill="none" opacity="0.7" stroke-linecap="round"/>
<path d="M418 583h0M446 514h0M412 513h0M514 579h0" stroke="#a02a7a" stroke-width="5" fill="none" opacity="0.7" stroke-linecap="round"/>
<path d="M414 627h0M389 600h0M497 603h0M453 528h0" stroke="#d04050" stroke-width="3" fill="none" opacity="0.7" stroke-linecap="round"/>
<path d="M421 600h0M496 532h0M461 657h0M490 569h0M466 522h0M491 605h0" stroke="#c03060" stroke-width="4" fill="none" opacity="0.7" stroke-linecap="round"/>
<path d="M437 474h0M437 630h0M474 498h0M393 598h0M494 614h0M406 558h0" stroke="#b0285a" stroke-width="5" fill="none" opacity="0.7" stroke-linecap="round"/>
<path d="M397 514h0M474 472h0M465 637h0M476 534h0M465 529h0" stroke="#d04050" stroke-width="4" fill="none" opacity="0.7" stroke-linecap="round"/>
<path d="M464 594h0M472 538h0M518 551h0M436 516h0M429 518h0" stroke="#8a2aa0" stroke-width="5" fill="none" opacity="0.7" stroke-linecap="round"/>
<path d="M427 539h0M412 636h0M490 534h0M430 480h0M505 552h0" stroke="#b02080" stroke-width="3" fill="none" opacity="0.7" stroke-linecap="round"/>
<path d="M517 604h0M445 576h0M472 467h0" stroke="#b02080" stroke-width="4" fill="none" opacity="0.7" stroke-linecap="round"/>
<path d="M410 605h0M506 499h0" stroke="#a02a7a" stroke-width="4" fill="none" opacity="0.7" stroke-linecap="round"/>
<path d="M513 531h0M477 469h0M492 502h0M516 529h0M480 544h0" stroke="#8a2aa0" stroke-width="4" fill="none" opacity="0.7" stroke-linecap="round"/>
<path d="M445 591h0M433 514h0" stroke="#d04050" stroke-width="5" fill="none" opacity="0.7" stroke-linecap="round"/>
<path d="M426 604h0M452 513h0M490 618h0" stroke="#b0285a" stroke-width="3" fill="none" opacity="0.7" stroke-linecap="round"/>
<path d="M411 517Q410 519 409 524M437 579Q436 588 434 594M497 611Q498 617 502 630M444 557Q449 563 452 566M498 640Q507 646 511 651M396 549Q387 555 381 555M415 637Q411 644 412 650M449 551Q448 558 448 561M462 547Q461 553 458 565M448 463Q442 469 441 470M402 560Q392 564 387 571M429 527Q427 536 430 542" stroke="#3574e0" stroke-width="0.6" fill="none" opacity="0.45"/>
<path d="M397 626Q392 634 391 638M446 591Q443 602 442 608M412 477Q415 480 419 487M424 647Q423 652 423 655M472 484Q467 489 465 495M517 556Q521 563 520 564M435 461Q433 466 436 472M477 625Q475 630 480 637M510 557Q504 567 500 572M406 615Q409 620 406 621M436 573Q431 577 428 582M496 494Q495 496 491 503M448 565Q441 570 441 576" stroke="#3574e0" stroke-width="1.2" fill="none" opacity="0.45"/>
<path d="M417 591Q417 597 421 606M440 553Q439 563 440 572M456 499Q452 503 454 507M525 604Q527 610 529 612M453 495Q454 496 459 500M474 548Q481 552 486 560M441 614Q443 623 449 628M412 510Q416 517 423 523M474 650Q476 651 476 656M417 472Q416 479 410 480M499 566Q494 571 491 574M428 524Q435 528 437 537M494 505Q496 514 498 517M404 592Q413 601 417 607M508 518Q508 522 505 525M445 472Q442 474 443 478M445 488Q448 491 456 498M416 522Q418 526 415 529M507 552Q510 561 511 568" stroke="#4282e6" stroke-width="1.2" fill="none" opacity="0.45"/>
<path d="M403 594Q395 601 391 609M495 621Q495 624 490 624M456 632Q456 642 458 648M488 635Q485 646 483 654M519 610Q513 617 512 620M399 612Q397 619 399 622" stroke="#2f6cdc" stroke-width="0.9" fill="none" opacity="0.45"/>
<path d="M387 576Q387 584 390 586M511 505Q502 511 499 513M441 659Q443 665 440 674M439 469Q439 478 434 483M446 512Q451 514 453 522M424 555Q434 558 440 565M480 651Q478 656 478 665M473 475Q471 484 473 492M500 616Q499 617 497 622M472 603Q473 606 469 612M456 638Q452 648 445 654" stroke="#4282e6" stroke-width="0.6" fill="none" opacity="0.45"/>
<path d="M428 561Q429 568 433 574M392 585Q388 584 379 588M439 539Q435 546 437 555M511 599Q511 602 511 609M431 580Q434 586 432 597M397 577Q396 582 395 591M457 601Q462 604 463 612M409 507Q410 519 404 525M384 531Q387 537 384 540M499 513Q496 518 489 523M463 483Q466 492 466 497M518 520Q515 526 511 534" stroke="#1c50bc" stroke-width="1.2" fill="none" opacity="0.45"/>
<path d="M414 576Q415 585 414 592M390 616Q392 620 394 622M510 613Q503 613 502 618M500 523Q502 529 504 537M463 623Q461 632 463 637M458 518Q461 524 460 529M398 586Q395 591 397 602M483 511Q473 512 469 518" stroke="#14409c" stroke-width="0.6" fill="none" opacity="0.45"/>
<path d="M484 613Q481 624 481 632M521 552Q523 558 528 559M436 632Q444 638 450 647M475 577Q475 582 477 591M424 582Q421 591 420 594M487 512Q493 513 496 520M499 624Q493 633 487 639M427 559Q430 566 429 573M476 567Q468 573 465 582M464 523Q465 530 469 539" stroke="#2a66d8" stroke-width="0.9" fill="none" opacity="0.45"/>
<path d="M391 584Q389 595 384 599M493 605Q494 609 492 613M392 551Q389 562 385 568M502 573Q507 579 507 590M522 523Q528 529 530 530M414 597Q412 605 415 613M398 558Q406 560 413 565M382 543Q378 546 373 553M414 508Q417 513 415 517M466 528Q470 536 474 547M481 610Q481 621 482 628M434 492Q432 505 432 512" stroke="#2f6cdc" stroke-width="1.2" fill="none" opacity="0.45"/>
<path d="M518 508Q517 511 515 518M483 656Q484 659 488 665M485 619Q491 622 494 625M481 629Q482 631 486 638M494 648Q495 655 495 659M467 642Q477 645 485 650M427 573Q424 575 424 580M497 555Q494 556 492 560M438 645Q440 653 443 659M446 599Q453 607 457 614M431 558Q434 563 437 568M408 496Q404 497 402 502M444 648Q438 654 437 661M449 583Q453 587 453 597M389 542Q390 546 392 554M479 643Q483 644 482 649" stroke="#2f6cdc" stroke-width="0.6" fill="none" opacity="0.45"/>
<path d="M441 626Q438 629 436 637M480 514Q479 520 477 529M438 580Q433 581 425 584M467 494Q467 497 472 504M453 500Q460 505 462 509M444 589Q446 596 443 607M481 530Q482 536 481 539M488 591Q487 597 485 609M457 586Q463 585 465 586M456 579Q453 580 446 586M443 478Q443 479 446 484M465 545Q460 557 459 563M442 527Q443 532 441 542" stroke="#1a46a8" stroke-width="1.2" fill="none" opacity="0.45"/>
<path d="M502 583Q506 596 506 603M427 636Q434 644 439 648M458 658Q455 661 455 667M405 526Q403 529 397 532M421 583Q419 584 411 587M457 568Q456 575 458 584M426 618Q422 624 422 630M487 479Q489 485 486 486" stroke="#4282e6" stroke-width="0.9" fill="none" opacity="0.45"/>
<path d="M523 584Q527 588 528 589M523 564Q519 571 519 577M464 615Q465 620 465 626M466 499Q467 508 471 516M409 554Q409 556 406 560M457 556Q454 561 449 566M459 649Q461 656 459 658M446 495Q448 504 455 512M481 511Q485 515 492 520" stroke="#2a66d8" stroke-width="1.2" fill="none" opacity="0.45"/>
<path d="M406 611Q413 619 417 627M524 598Q522 601 522 606M506 628Q503 635 503 635M399 630Q393 636 389 644M498 480Q502 480 504 483M465 511Q463 518 455 522M489 524Q488 532 486 540M384 518Q382 519 386 524M464 641Q457 644 454 649M470 556Q470 561 472 571M466 575Q469 579 468 584M403 583Q402 589 402 590M483 581Q482 584 476 592M388 587Q383 587 381 591M418 601Q423 602 426 608M433 535Q423 538 417 546" stroke="#1a46a8" stroke-width="0.6" fill="none" opacity="0.45"/>
<path d="M392 556Q393 567 394 574M393 558Q391 561 393 569M478 570Q476 574 470 580M483 476Q476 480 470 487M408 553Q407 563 404 570" stroke="#1c50bc" stroke-width="0.6" fill="none" opacity="0.45"/>
<path d="M452 553Q454 554 456 560M519 598Q520 603 522 608M460 595Q458 602 462 604M461 512Q465 521 465 531M446 561Q439 569 435 575M383 521Q387 530 387 539M401 497Q400 504 401 508M481 625Q481 629 480 638M476 568Q470 571 470 575M382 552Q383 560 383 572" stroke="#14409c" stroke-width="0.9" fill="none" opacity="0.45"/>
<path d="M395 592Q392 599 388 602M470 499Q474 502 473 505M531 573Q527 580 526 587M517 517Q522 526 522 535M528 540Q534 548 534 557M471 531Q475 534 479 539M525 607Q527 613 535 620M409 522Q407 526 407 534" stroke="#5a94ea" stroke-width="1.2" fill="none" opacity="0.45"/>
<path d="M481 569Q478 573 480 583M505 543Q505 551 507 556M455 544Q453 551 451 555M449 462Q451 472 455 480M449 654Q446 657 445 662M489 643Q489 652 492 659M520 523Q520 531 517 535M518 530Q513 535 513 546M492 622Q498 625 499 625M391 539Q391 542 389 546M505 511Q506 515 506 517M454 465Q453 471 453 482M503 607Q499 614 491 621M437 634Q446 638 454 642M453 536Q455 544 457 549M484 622Q477 628 473 638" stroke="#5a94ea" stroke-width="0.6" fill="none" opacity="0.45"/>
<path d="M451 560Q449 566 447 571M498 582Q501 585 501 588M429 591Q425 595 423 601M425 554Q417 558 408 563M417 506Q422 512 426 517M382 520Q380 523 375 531M501 530Q503 534 508 538M489 632Q482 635 477 642M455 504Q455 506 457 512M455 593Q457 598 460 605M416 468Q416 474 412 475M492 529Q496 535 503 544M456 589Q455 594 457 601M386 574Q384 576 382 583M470 624Q473 635 476 642" stroke="#14409c" stroke-width="1.2" fill="none" opacity="0.45"/>
<path d="M437 615Q431 623 428 627M443 640Q444 646 451 651M455 650Q457 655 458 656M445 535Q443 542 445 543M481 556Q487 561 498 565M454 458Q457 462 458 464M441 608Q441 608 444 614" stroke="#1a46a8" stroke-width="0.9" fill="none" opacity="0.45"/>
<path d="M505 553Q502 561 504 566M417 539Q420 547 421 552M474 624Q475 634 474 644M459 567Q463 572 472 579M444 548Q445 553 451 557M424 562Q421 572 422 579M429 648Q427 652 423 652M501 639Q500 646 503 651" stroke="#2a66d8" stroke-width="0.6" fill="none" opacity="0.45"/>
<path d="M511 531Q509 537 510 547M502 489Q501 491 501 497M393 581Q392 590 391 593M455 533Q457 533 459 537M447 455Q449 456 456 462M518 603Q523 612 529 619M385 604Q385 614 388 623M497 508Q500 513 502 520M437 642Q431 647 429 649M450 564Q450 572 454 577M461 470Q459 477 456 486" stroke="#3574e0" stroke-width="0.9" fill="none" opacity="0.45"/>
<path d="M409 550Q414 559 414 565M487 636Q485 648 482 656M452 617Q449 625 445 634M491 586Q492 592 492 598M500 632Q493 636 488 638M519 567Q512 576 508 581M430 593Q432 595 429 603M504 618Q505 623 506 626M502 626Q505 636 506 641" stroke="#1c50bc" stroke-width="0.9" fill="none" opacity="0.45"/>
<path d="M484 569Q483 572 481 580M456 469Q459 474 463 476M463 635Q462 643 462 652M501 486Q506 490 512 494M522 515Q520 519 518 520M435 577Q430 583 426 587" stroke="#5a94ea" stroke-width="0.9" fill="none" opacity="0.45"/>
<g opacity="1"><circle cx="454.0" cy="407.0" r="4.2" fill="#f2e030" stroke="#8a7a10" stroke-width="0.8"/><circle cx="452.7" cy="405.7" r="1.9" fill="#fffbb0" opacity="0.7"/><circle cx="459.0" cy="400.2" r="4.2" fill="#f2e030" stroke="#8a7a10" stroke-width="0.8"/><circle cx="457.7" cy="398.9" r="1.9" fill="#fffbb0" opacity="0.7"/><circle cx="464.0" cy="393.4" r="4.2" fill="#f2e030" stroke="#8a7a10" stroke-width="0.8"/><circle cx="462.7" cy="392.1" r="1.9" fill="#fffbb0" opacity="0.7"/><circle cx="469.0" cy="386.6" r="4.2" fill="#f2e030" stroke="#8a7a10" stroke-width="0.8"/><circle cx="467.7" cy="385.3" r="1.9" fill="#fffbb0" opacity="0.7"/><circle cx="474.0" cy="379.8" r="4.2" fill="#f2e030" stroke="#8a7a10" stroke-width="0.8"/><circle cx="472.7" cy="378.5" r="1.9" fill="#fffbb0" opacity="0.7"/><circle cx="479.0" cy="373.0" r="4.2" fill="#f2e030" stroke="#8a7a10" stroke-width="0.8"/><circle cx="477.7" cy="371.7" r="1.9" fill="#fffbb0" opacity="0.7"/></g>
<g opacity="1"><circle cx="513.0" cy="374.0" r="4.2" fill="#f2e030" stroke="#8a7a10" stroke-width="0.8"/><circle cx="511.7" cy="372.7" r="1.9" fill="#fffbb0" opacity="0.7"/><circle cx="514.2" cy="381.9" r="4.2" fill="#f2e030" stroke="#8a7a10" stroke-width="0.8"/><circle cx="513.0" cy="380.6" r="1.9" fill="#fffbb0" opacity="0.7"/><circle cx="515.4" cy="389.8" r="4.2" fill="#f2e030" stroke="#8a7a10" stroke-width="0.8"/><circle cx="514.2" cy="388.5" r="1.9" fill="#fffbb0" opacity="0.7"/><circle cx="516.6" cy="397.7" r="4.2" fill="#f2e030" stroke="#8a7a10" stroke-width="0.8"/><circle cx="515.4" cy="396.4" r="1.9" fill="#fffbb0" opacity="0.7"/><circle cx="518.1" cy="405.6" r="4.2" fill="#f2e030" stroke="#8a7a10" stroke-width="0.8"/><circle cx="516.8" cy="404.3" r="1.9" fill="#fffbb0" opacity="0.7"/><circle cx="519.5" cy="413.4" r="4.2" fill="#f2e030" stroke="#8a7a10" stroke-width="0.8"/><circle cx="518.3" cy="412.2" r="1.9" fill="#fffbb0" opacity="0.7"/><circle cx="521.0" cy="421.3" r="4.2" fill="#f2e030" stroke="#8a7a10" stroke-width="0.8"/><circle cx="519.8" cy="420.0" r="1.9" fill="#fffbb0" opacity="0.7"/><circle cx="522.5" cy="429.1" r="4.2" fill="#f2e030" stroke="#8a7a10" stroke-width="0.8"/><circle cx="521.3" cy="427.9" r="1.9" fill="#fffbb0" opacity="0.7"/><circle cx="524.0" cy="437.0" r="4.2" fill="#f2e030" stroke="#8a7a10" stroke-width="0.8"/><circle cx="522.7" cy="435.7" r="1.9" fill="#fffbb0" opacity="0.7"/></g>
<g opacity="1"><circle cx="376.0" cy="460.0" r="3.8" fill="#e8d840" stroke="#8a7a10" stroke-width="0.8"/><circle cx="374.9" cy="458.9" r="1.7" fill="#fffbb0" opacity="0.7"/><circle cx="383.0" cy="459.5" r="3.8" fill="#e8d840" stroke="#8a7a10" stroke-width="0.8"/><circle cx="381.9" cy="458.4" r="1.7" fill="#fffbb0" opacity="0.7"/><circle cx="390.0" cy="459.0" r="3.8" fill="#e8d840" stroke="#8a7a10" stroke-width="0.8"/><circle cx="388.9" cy="457.9" r="1.7" fill="#fffbb0" opacity="0.7"/><circle cx="397.0" cy="458.5" r="3.8" fill="#e8d840" stroke="#8a7a10" stroke-width="0.8"/><circle cx="395.9" cy="457.4" r="1.7" fill="#fffbb0" opacity="0.7"/><circle cx="404.0" cy="458.0" r="3.8" fill="#e8d840" stroke="#8a7a10" stroke-width="0.8"/><circle cx="402.9" cy="456.9" r="1.7" fill="#fffbb0" opacity="0.7"/></g>
<g opacity="1"><circle cx="405.0" cy="476.0" r="3.8" fill="#e0d850" stroke="#8a7a10" stroke-width="0.8"/><circle cx="403.9" cy="474.9" r="1.7" fill="#fffbb0" opacity="0.7"/><circle cx="412.5" cy="481.5" r="3.8" fill="#e0d850" stroke="#8a7a10" stroke-width="0.8"/><circle cx="411.4" cy="480.4" r="1.7" fill="#fffbb0" opacity="0.7"/><circle cx="420.0" cy="487.0" r="3.8" fill="#e0d850" stroke="#8a7a10" stroke-width="0.8"/><circle cx="418.9" cy="485.9" r="1.7" fill="#fffbb0" opacity="0.7"/></g>
<g opacity="1"><circle cx="440.0" cy="466.0" r="4.2" fill="#f2e030" stroke="#8a7a10" stroke-width="0.8"/><circle cx="438.7" cy="464.7" r="1.9" fill="#fffbb0" opacity="0.7"/><circle cx="442.0" cy="475.8" r="4.2" fill="#f2e030" stroke="#8a7a10" stroke-width="0.8"/><circle cx="440.8" cy="474.6" r="1.9" fill="#fffbb0" opacity="0.7"/><circle cx="444.1" cy="485.7" r="4.2" fill="#f2e030" stroke="#8a7a10" stroke-width="0.8"/><circle cx="442.8" cy="484.4" r="1.9" fill="#fffbb0" opacity="0.7"/><circle cx="446.3" cy="495.5" r="4.2" fill="#f2e030" stroke="#8a7a10" stroke-width="0.8"/><circle cx="445.1" cy="494.2" r="1.9" fill="#fffbb0" opacity="0.7"/><circle cx="448.7" cy="505.2" r="4.2" fill="#f2e030" stroke="#8a7a10" stroke-width="0.8"/><circle cx="447.4" cy="504.0" r="1.9" fill="#fffbb0" opacity="0.7"/><circle cx="451.0" cy="515.0" r="4.2" fill="#f2e030" stroke="#8a7a10" stroke-width="0.8"/><circle cx="449.7" cy="513.7" r="1.9" fill="#fffbb0" opacity="0.7"/></g>
<g opacity="1"><circle cx="491.0" cy="500.0" r="4.6" fill="#f2e030" stroke="#8a7a10" stroke-width="0.8"/><circle cx="489.6" cy="498.6" r="2.1" fill="#fffbb0" opacity="0.7"/><circle cx="496.3" cy="493.0" r="4.6" fill="#f2e030" stroke="#8a7a10" stroke-width="0.8"/><circle cx="495.0" cy="491.6" r="2.1" fill="#fffbb0" opacity="0.7"/><circle cx="501.7" cy="486.0" r="4.6" fill="#f2e030" stroke="#8a7a10" stroke-width="0.8"/><circle cx="500.3" cy="484.6" r="2.1" fill="#fffbb0" opacity="0.7"/><circle cx="507.0" cy="479.0" r="4.6" fill="#f2e030" stroke="#8a7a10" stroke-width="0.8"/><circle cx="505.6" cy="477.6" r="2.1" fill="#fffbb0" opacity="0.7"/></g>
<g opacity="1"><circle cx="462.0" cy="548.0" r="6.5" fill="#f0c030" stroke="#8a7a10" stroke-width="0.8"/><circle cx="460.1" cy="546.0" r="2.9" fill="#fffbb0" opacity="0.7"/></g>
<g opacity="1"><circle cx="478.0" cy="596.0" r="4.6" fill="#f2e030" stroke="#8a7a10" stroke-width="0.8"/><circle cx="476.6" cy="594.6" r="2.1" fill="#fffbb0" opacity="0.7"/><circle cx="469.5" cy="599.9" r="4.6" fill="#f2e030" stroke="#8a7a10" stroke-width="0.8"/><circle cx="468.1" cy="598.5" r="2.1" fill="#fffbb0" opacity="0.7"/><circle cx="460.9" cy="603.5" r="4.6" fill="#f2e030" stroke="#8a7a10" stroke-width="0.8"/><circle cx="459.5" cy="602.2" r="2.1" fill="#fffbb0" opacity="0.7"/><circle cx="452.1" cy="606.8" r="4.6" fill="#f2e030" stroke="#8a7a10" stroke-width="0.8"/><circle cx="450.7" cy="605.4" r="2.1" fill="#fffbb0" opacity="0.7"/><circle cx="444.6" cy="612.0" r="4.6" fill="#f2e030" stroke="#8a7a10" stroke-width="0.8"/><circle cx="443.2" cy="610.7" r="2.1" fill="#fffbb0" opacity="0.7"/><circle cx="438.1" cy="618.5" r="4.6" fill="#f2e030" stroke="#8a7a10" stroke-width="0.8"/><circle cx="436.7" cy="617.1" r="2.1" fill="#fffbb0" opacity="0.7"/><circle cx="439.4" cy="627.8" r="4.6" fill="#f2e030" stroke="#8a7a10" stroke-width="0.8"/><circle cx="438.0" cy="626.4" r="2.1" fill="#fffbb0" opacity="0.7"/><circle cx="444.2" cy="634.8" r="4.6" fill="#f2e030" stroke="#8a7a10" stroke-width="0.8"/><circle cx="442.8" cy="633.4" r="2.1" fill="#fffbb0" opacity="0.7"/><circle cx="452.0" cy="640.0" r="4.6" fill="#f2e030" stroke="#8a7a10" stroke-width="0.8"/><circle cx="450.6" cy="638.6" r="2.1" fill="#fffbb0" opacity="0.7"/></g>
<g opacity="1"><circle cx="408.0" cy="588.0" r="4.2" fill="#f2e030" stroke="#8a7a10" stroke-width="0.8"/><circle cx="406.7" cy="586.7" r="1.9" fill="#fffbb0" opacity="0.7"/><circle cx="410.6" cy="597.0" r="4.2" fill="#f2e030" stroke="#8a7a10" stroke-width="0.8"/><circle cx="409.4" cy="595.8" r="1.9" fill="#fffbb0" opacity="0.7"/><circle cx="413.3" cy="606.0" r="4.2" fill="#f2e030" stroke="#8a7a10" stroke-width="0.8"/><circle cx="412.0" cy="604.8" r="1.9" fill="#fffbb0" opacity="0.7"/><circle cx="415.9" cy="615.0" r="4.2" fill="#f2e030" stroke="#8a7a10" stroke-width="0.8"/><circle cx="414.6" cy="613.8" r="1.9" fill="#fffbb0" opacity="0.7"/><circle cx="418.6" cy="624.0" r="4.2" fill="#f2e030" stroke="#8a7a10" stroke-width="0.8"/><circle cx="417.3" cy="622.8" r="1.9" fill="#fffbb0" opacity="0.7"/><circle cx="421.3" cy="633.0" r="4.2" fill="#f2e030" stroke="#8a7a10" stroke-width="0.8"/><circle cx="420.0" cy="631.7" r="1.9" fill="#fffbb0" opacity="0.7"/><circle cx="424.0" cy="642.0" r="4.2" fill="#f2e030" stroke="#8a7a10" stroke-width="0.8"/><circle cx="422.7" cy="640.7" r="1.9" fill="#fffbb0" opacity="0.7"/></g>
<g opacity="1"><circle cx="533.0" cy="624.0" r="4.8" fill="#f2e030" stroke="#8a7a10" stroke-width="0.8"/><circle cx="531.6" cy="622.6" r="2.2" fill="#fffbb0" opacity="0.7"/><circle cx="539.9" cy="618.9" r="4.8" fill="#f2e030" stroke="#8a7a10" stroke-width="0.8"/><circle cx="538.5" cy="617.5" r="2.2" fill="#fffbb0" opacity="0.7"/><circle cx="546.9" cy="613.8" r="4.8" fill="#f2e030" stroke="#8a7a10" stroke-width="0.8"/><circle cx="545.4" cy="612.4" r="2.2" fill="#fffbb0" opacity="0.7"/><circle cx="553.9" cy="608.9" r="4.8" fill="#f2e030" stroke="#8a7a10" stroke-width="0.8"/><circle cx="552.5" cy="607.5" r="2.2" fill="#fffbb0" opacity="0.7"/><circle cx="561.0" cy="604.0" r="4.8" fill="#f2e030" stroke="#8a7a10" stroke-width="0.8"/><circle cx="559.6" cy="602.6" r="2.2" fill="#fffbb0" opacity="0.7"/></g>
<g opacity="0.85"><circle cx="340.0" cy="593.0" r="3.6" fill="#b8d040" stroke="#8a7a10" stroke-width="0.8"/><circle cx="338.9" cy="591.9" r="1.6" fill="#fffbb0" opacity="0.7"/><circle cx="344.0" cy="587.2" r="3.6" fill="#b8d040" stroke="#8a7a10" stroke-width="0.8"/><circle cx="342.9" cy="586.1" r="1.6" fill="#fffbb0" opacity="0.7"/><circle cx="348.0" cy="581.4" r="3.6" fill="#b8d040" stroke="#8a7a10" stroke-width="0.8"/><circle cx="346.9" cy="580.3" r="1.6" fill="#fffbb0" opacity="0.7"/><circle cx="352.0" cy="575.6" r="3.6" fill="#b8d040" stroke="#8a7a10" stroke-width="0.8"/><circle cx="350.9" cy="574.5" r="1.6" fill="#fffbb0" opacity="0.7"/><circle cx="356.0" cy="569.8" r="3.6" fill="#b8d040" stroke="#8a7a10" stroke-width="0.8"/><circle cx="354.9" cy="568.7" r="1.6" fill="#fffbb0" opacity="0.7"/><circle cx="360.0" cy="564.0" r="3.6" fill="#b8d040" stroke="#8a7a10" stroke-width="0.8"/><circle cx="358.9" cy="562.9" r="1.6" fill="#fffbb0" opacity="0.7"/></g>
<g opacity="1"><circle cx="469.0" cy="704.0" r="4" fill="#e8d030" stroke="#8a7a10" stroke-width="0.8"/><circle cx="467.8" cy="702.8" r="1.8" fill="#fffbb0" opacity="0.7"/><circle cx="476.8" cy="703.8" r="4" fill="#e8d030" stroke="#8a7a10" stroke-width="0.8"/><circle cx="475.6" cy="702.6" r="1.8" fill="#fffbb0" opacity="0.7"/><circle cx="484.6" cy="703.6" r="4" fill="#e8d030" stroke="#8a7a10" stroke-width="0.8"/><circle cx="483.4" cy="702.4" r="1.8" fill="#fffbb0" opacity="0.7"/><circle cx="492.4" cy="703.4" r="4" fill="#e8d030" stroke="#8a7a10" stroke-width="0.8"/><circle cx="491.2" cy="702.2" r="1.8" fill="#fffbb0" opacity="0.7"/><circle cx="500.2" cy="703.2" r="4" fill="#e8d030" stroke="#8a7a10" stroke-width="0.8"/><circle cx="499.0" cy="702.0" r="1.8" fill="#fffbb0" opacity="0.7"/><circle cx="508.0" cy="703.0" r="4" fill="#e8d030" stroke="#8a7a10" stroke-width="0.8"/><circle cx="506.8" cy="701.8" r="1.8" fill="#fffbb0" opacity="0.7"/></g>
<g opacity="0.85"><circle cx="418.0" cy="703.0" r="3.6" fill="#b8d040" stroke="#8a7a10" stroke-width="0.8"/><circle cx="416.9" cy="701.9" r="1.6" fill="#fffbb0" opacity="0.7"/><circle cx="422.0" cy="696.3" r="3.6" fill="#b8d040" stroke="#8a7a10" stroke-width="0.8"/><circle cx="420.9" cy="695.3" r="1.6" fill="#fffbb0" opacity="0.7"/><circle cx="426.0" cy="689.7" r="3.6" fill="#b8d040" stroke="#8a7a10" stroke-width="0.8"/><circle cx="424.9" cy="688.6" r="1.6" fill="#fffbb0" opacity="0.7"/><circle cx="430.0" cy="683.0" r="3.6" fill="#b8d040" stroke="#8a7a10" stroke-width="0.8"/><circle cx="428.9" cy="681.9" r="1.6" fill="#fffbb0" opacity="0.7"/></g>
<g opacity="1"><circle cx="480.0" cy="455.0" r="4" fill="#f2e030" stroke="#8a7a10" stroke-width="0.8"/><circle cx="478.8" cy="453.8" r="1.8" fill="#fffbb0" opacity="0.7"/><circle cx="485.0" cy="462.5" r="4" fill="#f2e030" stroke="#8a7a10" stroke-width="0.8"/><circle cx="483.8" cy="461.3" r="1.8" fill="#fffbb0" opacity="0.7"/><circle cx="490.0" cy="470.0" r="4" fill="#f2e030" stroke="#8a7a10" stroke-width="0.8"/><circle cx="488.8" cy="468.8" r="1.8" fill="#fffbb0" opacity="0.7"/></g>
<g opacity="1"><circle cx="392.0" cy="636.0" r="3.8" fill="#f2e030" stroke="#8a7a10" stroke-width="0.8"/><circle cx="390.9" cy="634.9" r="1.7" fill="#fffbb0" opacity="0.7"/><circle cx="388.7" cy="628.0" r="3.8" fill="#f2e030" stroke="#8a7a10" stroke-width="0.8"/><circle cx="387.5" cy="626.9" r="1.7" fill="#fffbb0" opacity="0.7"/><circle cx="385.3" cy="620.0" r="3.8" fill="#f2e030" stroke="#8a7a10" stroke-width="0.8"/><circle cx="384.2" cy="618.9" r="1.7" fill="#fffbb0" opacity="0.7"/><circle cx="382.0" cy="612.0" r="3.8" fill="#f2e030" stroke="#8a7a10" stroke-width="0.8"/><circle cx="380.9" cy="610.9" r="1.7" fill="#fffbb0" opacity="0.7"/></g>
<path d="M627 533h0M585 567h0M660 721h0M620 499h0M646 483h0M625 702h0M616 729h0M638 466h0" stroke="#b85a48" stroke-width="3.2" fill="none" opacity="0.8" stroke-linecap="round"/>
<path d="M639 697h0M664 708h0M665 630h0M581 650h0M623 625h0M662 733h0M655 751h0" stroke="#d08060" stroke-width="2.5" fill="none" opacity="0.8" stroke-linecap="round"/>
<path d="M654 685h0M663 634h0M658 514h0M648 664h0M612 478h0M602 553h0" stroke="#c86a50" stroke-width="3.2" fill="none" opacity="0.8" stroke-linecap="round"/>
<path d="M665 454h0M598 468h0M592 465h0M631 698h0M648 485h0M650 660h0M658 488h0M648 771h0M633 744h0" stroke="#d08060" stroke-width="3.2" fill="none" opacity="0.8" stroke-linecap="round"/>
<path d="M588 550h0M642 632h0M658 512h0M612 697h0M648 484h0M596 534h0M654 537h0M599 589h0M630 705h0" stroke="#b85a48" stroke-width="2.5" fill="none" opacity="0.8" stroke-linecap="round"/>
<path d="M621 693h0M591 608h0M596 572h0M617 715h0M589 769h0M642 445h0" stroke="#c86a50" stroke-width="2.5" fill="none" opacity="0.8" stroke-linecap="round"/>
<path d="M626 629h0M685 607h0M657 602h0M624 641h0M637 618h0" stroke="#1f8a90" stroke-width="4" fill="none" opacity="0.55" stroke-linecap="round"/>
<path d="M614 606h0M615 657h0M602 634h0M644 654h0M657 617h0" stroke="#1f8a90" stroke-width="3" fill="none" opacity="0.55" stroke-linecap="round"/>
<path d="M656 657h0M625 614h0M649 620h0M623 617h0M640 615h0" stroke="#2a9a9a" stroke-width="4" fill="none" opacity="0.55" stroke-linecap="round"/>
<path d="M626 606h0M648 646h0M647 634h0" stroke="#2a9a9a" stroke-width="3" fill="none" opacity="0.55" stroke-linecap="round"/>
<path d="M631 605h0M653 591h0M646 604h0" stroke="#2a9a9a" stroke-width="5" fill="none" opacity="0.55" stroke-linecap="round"/>
<path d="M648 627h0M654 608h0M653 561h0" stroke="#3ab0a8" stroke-width="5" fill="none" opacity="0.55" stroke-linecap="round"/>
<path d="M659 628h0M658 605h0" stroke="#4ac0b8" stroke-width="5" fill="none" opacity="0.55" stroke-linecap="round"/>
<path d="M616 639h0M648 611h0M621 611h0M627 643h0" stroke="#4ac0b8" stroke-width="4" fill="none" opacity="0.55" stroke-linecap="round"/>
<path d="M623 576h0M644 610h0M673 575h0" stroke="#3ab0a8" stroke-width="4" fill="none" opacity="0.55" stroke-linecap="round"/>
<path d="M589 600h0M630 555h0" stroke="#1f8a90" stroke-width="5" fill="none" opacity="0.55" stroke-linecap="round"/>
<path d="M661 625h0M638 584h0" stroke="#4ac0b8" stroke-width="3" fill="none" opacity="0.55" stroke-linecap="round"/>
<path d="M596 572h0M640 601h0M636 625h0" stroke="#3ab0a8" stroke-width="3" fill="none" opacity="0.55" stroke-linecap="round"/>
<ellipse cx="632" cy="612" rx="40" ry="55" fill="#1f8a96" opacity="0.25" filter="url(#blur8)"/>
<text x="568.6" y="378.9" font-size="25.5" font-weight="bold" fill="#e2ecf8" textLength="83.4" lengthAdjust="spacingAndGlyphs" >MWCNTs</text>
<text x="635.2" y="445.6" font-size="26.9" font-weight="bold" fill="#e2ecf8" textLength="18.3" lengthAdjust="spacingAndGlyphs" >Li</text>
<text x="655" y="436" font-size="11" fill="#eef4fa" font-weight="bold">+</text>
<text x="536.0" y="558.0" font-size="24.5" font-weight="bold" fill="#e2ecf8" textLength="119.0" lengthAdjust="spacingAndGlyphs" >strong binding</text>
<text x="438.3" y="660.6" font-size="22.4" font-weight="bold" fill="#e2ecf8" textLength="153.0" lengthAdjust="spacingAndGlyphs" >rich catalytic sites</text>
<text x="412.0" y="746.0" font-size="22.7" font-weight="bold" fill="#e2ecf8" textLength="99.0" lengthAdjust="spacingAndGlyphs" >polysulfides</text>
<path d="M569.4,413.8 L584.0,397.5" stroke="#f4f8fc" stroke-width="2.6"/>
<path d="M590.0,390.8 L588.1,401.2 L579.9,393.8 Z" fill="#f4f8fc"/>
<path d="M605.0,456.7 L622.0,438.0" stroke="#f4f8fc" stroke-width="2.6"/>
<path d="M628.0,431.3 L626.0,441.7 L617.9,434.3 Z" fill="#f4f8fc"/>
<path d="M499.4,550.3 L522.2,550.3" stroke="#f4f8fc" stroke-width="3.2"/>
<path d="M532.2,550.3 L522.2,557.3 L522.2,543.3 Z" fill="#f4f8fc"/>
<path d="M479.7,612.5 L494.1,630.9" stroke="#f4f8fc" stroke-width="3"/>
<path d="M500.3,638.8 L489.0,634.9 L499.3,626.9 Z" fill="#f4f8fc"/>
<path d="M418.0,702.0 L432.4,715.5" stroke="#f4f8fc" stroke-width="2.6"/>
<path d="M439.0,721.6 L428.3,719.8 L436.5,711.1 Z" fill="#f4f8fc"/>
<rect x="64" y="413" width="236" height="72" fill="#2a4a78" opacity="0.22"/>
<ellipse cx="45" cy="430" rx="16" ry="80" fill="#4a5e7c" opacity="0.45" filter="url(#blur8)"/>
<path d="M64,541 L64,413 L188,413" stroke="#b8344c" stroke-width="2.2" fill="none"/>
<path d="M68,538 L68,417 L188,417" stroke="#8a2a48" stroke-width="1" fill="none" opacity="0.7"/>
<path d="M64,539 L96,539" stroke="#c83a50" stroke-width="2" opacity="0.8"/>
<path d="M188,413 L300,413 L300,540" stroke="#2a4aa8" stroke-width="2.4" fill="none"/>
<path d="M188,417 L296,417 L296,480" stroke="#3050b0" stroke-width="1" fill="none" opacity="0.6"/>
<ellipse cx="187" cy="392" rx="40" ry="44" fill="url(#glow)"/>
<path d="M187,371 C196,371 200,379 200,386 C200,394 194,398 192,404 L191,413 L183,413 L182,404 C180,398 174,394 174,386 C174,379 178,371 187,371 Z" fill="#fffef6" filter="url(#blur1)"/>
<text x="81.4" y="442.0" font-size="26.9" font-weight="bold" fill="#eef2f6" textLength="211.6" lengthAdjust="spacingAndGlyphs" >Co-FeOOH/MWCNTs/PP</text>
<path d="M195.0,482.0 L195.0,454.0" stroke="#f4f8fc" stroke-width="3"/>
<path d="M195.0,445.0 L199.5,454.0 L190.5,454.0 Z" fill="#f4f8fc"/>
<path d="M104,484 L272,484 A16,53.5 0 0 1 272,591 L104,591 Z" fill="url(#cylg)" opacity="0.93"/>
<path d="M182 552h0M210 547h0M239 574h0M202 530h0M201 512h0M245 515h0M207 525h0M154 501h0M174 549h0M214 551h0M240 494h0M161 554h0" stroke="#7a9a60" stroke-width="2.2" fill="none" opacity="0.7" stroke-linecap="round"/>
<path d="M234 563h0M263 549h0M264 567h0M144 560h0M156 537h0M172 581h0M168 497h0M148 527h0M173 534h0M200 492h0M254 550h0" stroke="#4a7a8a" stroke-width="2.2" fill="none" opacity="0.7" stroke-linecap="round"/>
<path d="M198 515h0M207 507h0M245 561h0M139 512h0M222 523h0M186 508h0M185 495h0M142 548h0M209 522h0" stroke="#7a9a60" stroke-width="1.6" fill="none" opacity="0.7" stroke-linecap="round"/>
<path d="M170 557h0M201 568h0M175 566h0M152 515h0M202 553h0M189 568h0M232 579h0M235 544h0M166 578h0M238 559h0M161 566h0" stroke="#4a7a8a" stroke-width="1.6" fill="none" opacity="0.7" stroke-linecap="round"/>
<path d="M256 550h0M215 577h0M196 560h0M237 578h0M182 515h0M214 522h0M233 550h0M199 555h0M161 500h0M258 547h0" stroke="#5a8a7a" stroke-width="1.6" fill="none" opacity="0.7" stroke-linecap="round"/>
<path d="M256 564h0M243 533h0M192 521h0M258 553h0M215 514h0M214 574h0M148 548h0M200 555h0M228 573h0" stroke="#c8c040" stroke-width="1.6" fill="none" opacity="0.7" stroke-linecap="round"/>
<path d="M254 550h0M147 522h0M192 495h0M229 517h0" stroke="#5a8a7a" stroke-width="2.2" fill="none" opacity="0.7" stroke-linecap="round"/>
<path d="M236 536h0M206 548h0M207 517h0M199 571h0" stroke="#c8c040" stroke-width="2.2" fill="none" opacity="0.7" stroke-linecap="round"/>
<path d="M101,487.5 L118,487.5 L118,590.5 L101,590.5 A10,51.5 0 0 1 101,487.5 Z" fill="url(#cathg)"/>
<ellipse cx="122.5" cy="539" rx="10.5" ry="51.5" fill="url(#creamg)"/>
<g transform="translate(131,589.5) rotate(-90)">
<text x="0.0" y="0.0" font-size="18.4" font-weight="bold" fill="#111" textLength="99.0" lengthAdjust="spacingAndGlyphs" font-family="Liberation Sans, sans-serif">S cathode</text>
</g>
<ellipse cx="195" cy="535" rx="17" ry="49" fill="url(#sepg)"/>
<ellipse cx="208" cy="535" rx="4" ry="44" fill="none" stroke="#40c878" stroke-width="2.5" opacity="0.8"/>
<g opacity="1"><circle cx="187.0" cy="518.0" r="2.6" fill="#f0e020" stroke="#8a8010" stroke-width="0.8"/><circle cx="186.2" cy="517.2" r="1.2" fill="#fffbb0" opacity="0.7"/><circle cx="188.7" cy="526.4" r="2.6" fill="#f0e020" stroke="#8a8010" stroke-width="0.8"/><circle cx="187.9" cy="525.6" r="1.2" fill="#fffbb0" opacity="0.7"/><circle cx="190.3" cy="534.7" r="2.6" fill="#f0e020" stroke="#8a8010" stroke-width="0.8"/><circle cx="189.6" cy="533.9" r="1.2" fill="#fffbb0" opacity="0.7"/><circle cx="192.0" cy="543.1" r="2.6" fill="#f0e020" stroke="#8a8010" stroke-width="0.8"/><circle cx="191.2" cy="542.3" r="1.2" fill="#fffbb0" opacity="0.7"/><circle cx="193.3" cy="551.5" r="2.6" fill="#f0e020" stroke="#8a8010" stroke-width="0.8"/><circle cx="192.5" cy="550.7" r="1.2" fill="#fffbb0" opacity="0.7"/><circle cx="194.0" cy="560.0" r="2.6" fill="#f0e020" stroke="#8a8010" stroke-width="0.8"/><circle cx="193.2" cy="559.2" r="1.2" fill="#fffbb0" opacity="0.7"/></g>
<g opacity="0.8"><circle cx="181.0" cy="500.0" r="2.2" fill="#e8d828" stroke="#8a8010" stroke-width="0.8"/><circle cx="180.3" cy="499.3" r="1.0" fill="#fffbb0" opacity="0.7"/><circle cx="181.5" cy="506.0" r="2.2" fill="#e8d828" stroke="#8a8010" stroke-width="0.8"/><circle cx="180.8" cy="505.3" r="1.0" fill="#fffbb0" opacity="0.7"/><circle cx="182.0" cy="512.0" r="2.2" fill="#e8d828" stroke="#8a8010" stroke-width="0.8"/><circle cx="181.3" cy="511.3" r="1.0" fill="#fffbb0" opacity="0.7"/></g>
<ellipse cx="253" cy="526" rx="17.5" ry="39" fill="url(#lig)"/>
<path d="M272,484 A16,53.5 0 0 1 272,591 A12,53.5 0 0 0 272,484 Z" fill="#c8dce6" opacity="0.7"/>
<g transform="translate(283.5,572) rotate(-90)">
<text x="0.0" y="0.0" font-size="16.1" font-weight="bold" fill="#151515" textLength="90.0" lengthAdjust="spacingAndGlyphs" font-family="Liberation Sans, sans-serif">Li anode</text>
</g>
<ellipse cx="210" cy="716" rx="135" ry="88" fill="#2a7a92" opacity="0.5" filter="url(#blur8)"/>
<path d="M170.1 640.3h0M297.3 689.7h0M89.1 698.2h0M189.5 731.3h0M236.6 730.8h0M318.4 740.2h0M212.6 764.4h0" stroke="#38c860" stroke-width="7.5" fill="none" opacity="0.9" stroke-linecap="round"/>
<path d="M178.7 639.2h0M180.9 648.6h0M111.8 664.7h0M216.5 681.7h0M317.5 699.0h0M334.7 707.5h0M150.6 714.6h0M218.7 723.7h0M236.3 722.9h0M278.3 723.7h0M114.8 748.3h0M247.2 747.6h0M297.0 764.8h0M175.0 773.0h0M207.9 771.9h0M194.0 789.2h0" stroke="#3a5ae0" stroke-width="7.5" fill="none" opacity="0.9" stroke-linecap="round"/>
<path d="M187.1 640.4h0M103.3 673.9h0M119.7 682.4h0M223.5 682.7h0M230.8 682.7h0M257.7 689.2h0M140.3 698.5h0M299.6 698.5h0M182.9 705.8h0M198.0 705.8h0M326.4 707.5h0M277.1 716.1h0M113.2 723.3h0M100.2 732.6h0M132.1 731.4h0M123.5 747.5h0M183.8 771.2h0M170.7 788.7h0" stroke="#e03a40" stroke-width="8.5" fill="none" opacity="0.9" stroke-linecap="round"/>
<path d="M213.4 639.2h0M285.9 664.8h0M129.0 674.3h0M129.3 682.8h0M159.2 681.5h0M184.0 682.0h0M191.8 698.2h0M273.7 706.3h0M268.3 714.5h0M334.4 714.7h0M228.0 723.1h0M253.3 730.7h0M278.9 732.6h0M124.8 739.2h0M312.8 748.4h0M276.3 757.0h0M141.5 772.1h0M202.0 780.4h0M281.0 781.2h0" stroke="#e03a40" stroke-width="7.5" fill="none" opacity="0.9" stroke-linecap="round"/>
<path d="M237.3 639.1h0M139.0 673.5h0M273.8 675.0h0M166.7 682.1h0M320.8 681.5h0M249.6 691.0h0M260.4 715.2h0M161.1 724.5h0M157.8 731.1h0M296.3 732.2h0M260.6 757.0h0M293.9 772.4h0M140.0 780.4h0M235.1 781.6h0M162.2 789.3h0" stroke="#a040e8" stroke-width="7.5" fill="none" opacity="0.9" stroke-linecap="round"/>
<path d="M165.7 648.7h0M238.4 681.8h0M267.2 681.8h0M150.2 698.1h0M158.2 697.8h0M190.9 706.5h0M227.9 789.2h0" stroke="#d05a40" stroke-width="8.5" fill="none" opacity="0.9" stroke-linecap="round"/>
<path d="M172.8 648.7h0M130.9 666.6h0M232.8 674.1h0M101.4 690.6h0M299.0 707.5h0M252.1 724.7h0M132.9 739.6h0M202.4 739.5h0M308.8 739.3h0M188.8 748.5h0M169.6 756.8h0M220.5 789.2h0" stroke="#e040d8" stroke-width="7.5" fill="none" opacity="0.9" stroke-linecap="round"/>
<path d="M190.6 648.4h0M121.7 666.1h0M113.2 706.7h0M297.8 723.0h0M245.7 739.7h0M149.7 772.5h0" stroke="#f068b8" stroke-width="8.5" fill="none" opacity="0.9" stroke-linecap="round"/>
<path d="M197.8 648.3h0M92.4 690.7h0M216.4 697.7h0M281.9 698.2h0M223.0 706.6h0M291.1 705.8h0M123.5 731.8h0M91.8 740.5h0M117.0 756.2h0M286.1 757.0h0M280.2 763.7h0M186.0 789.1h0" stroke="#e040d8" stroke-width="6.5" fill="none" opacity="0.9" stroke-linecap="round"/>
<path d="M279.2 648.9h0M166.6 664.7h0M304.9 681.5h0M174.5 698.4h0M111.9 715.0h0M253.6 781.9h0" stroke="#3a5ae0" stroke-width="6.5" fill="none" opacity="0.9" stroke-linecap="round"/>
<path d="M143.1 656.3h0M246.0 665.6h0M112.3 673.4h0M290.3 698.7h0M218.8 739.5h0M305.4 748.1h0M212.6 790.3h0" stroke="#38c860" stroke-width="6.5" fill="none" opacity="0.9" stroke-linecap="round"/>
<path d="M152.9 656.4h0M212.5 657.1h0M181.2 674.8h0M309.1 675.0h0M94.7 716.3h0M158.2 715.9h0M167.2 739.8h0M131.7 771.6h0M165.9 771.4h0M200.1 772.0h0" stroke="#a040e8" stroke-width="8.5" fill="none" opacity="0.9" stroke-linecap="round"/>
<path d="M228.8 657.7h0M247.7 674.4h0M191.1 683.3h0M248.1 682.3h0M200.6 698.5h0M274.6 699.0h0M307.4 706.1h0M103.0 715.1h0M104.0 724.6h0M170.2 723.0h0M147.2 763.2h0M178.7 789.0h0" stroke="#3a5ae0" stroke-width="8.5" fill="none" opacity="0.9" stroke-linecap="round"/>
<path d="M236.9 658.3h0M198.6 683.2h0M295.1 682.3h0M126.7 689.8h0M170.3 690.3h0M132.6 697.9h0M105.9 707.1h0M122.3 706.2h0M174.1 707.1h0M215.5 706.2h0M143.1 715.3h0M149.2 739.9h0M253.2 790.3h0" stroke="#f068b8" stroke-width="6.5" fill="none" opacity="0.9" stroke-linecap="round"/>
<path d="M140.2 664.8h0M149.3 665.5h0M238.3 665.3h0M164.2 674.3h0M256.5 674.1h0M177.5 690.3h0M129.7 707.3h0M317.0 706.6h0M201.0 714.6h0M128.2 724.6h0M153.3 722.8h0M185.9 723.5h0M181.0 732.2h0M107.3 748.8h0M180.6 748.3h0M143.0 755.5h0M188.4 756.3h0M263.4 763.6h0" stroke="#f068b8" stroke-width="7.5" fill="none" opacity="0.9" stroke-linecap="round"/>
<path d="M189.7 666.6h0M240.2 673.9h0M208.0 682.7h0M164.4 705.8h0M299.6 740.6h0M255.8 748.5h0M196.6 757.2h0M154.7 764.5h0M246.9 771.6h0M261.6 781.8h0" stroke="#e040d8" stroke-width="8.5" fill="none" opacity="0.9" stroke-linecap="round"/>
<path d="M205.6 665.6h0M302.7 665.8h0M211.5 740.5h0M204.1 764.3h0M183.8 782.0h0" stroke="#d05a40" stroke-width="6.5" fill="none" opacity="0.9" stroke-linecap="round"/>
<path d="M278.3 665.9h0M112.4 682.4h0M313.2 683.1h0M181.9 697.7h0M173.6 715.2h0M149.3 731.3h0M327.4 738.8h0M252.6 756.9h0M193.6 780.3h0M228.1 780.9h0" stroke="#a040e8" stroke-width="6.5" fill="none" opacity="0.9" stroke-linecap="round"/>
<path d="M319.0 673.3h0M257.5 681.8h0M333.8 699.0h0M239.0 706.8h0M192.9 722.9h0M259.7 723.9h0" stroke="#d05a40" stroke-width="7.5" fill="none" opacity="0.9" stroke-linecap="round"/>
<path d="M276.7 682.4h0M265.3 690.7h0M209.2 697.6h0M213.0 731.2h0M221.8 731.1h0M261.5 732.3h0M116.5 738.7h0M178.5 756.8h0M221.6 764.6h0" stroke="#e03a40" stroke-width="6.5" fill="none" opacity="0.9" stroke-linecap="round"/>
<path d="M251.4 714.4h0M157.3 740.2h0M321.4 747.3h0M288.3 764.0h0M147.6 780.3h0" stroke="#38c860" stroke-width="8.5" fill="none" opacity="0.9" stroke-linecap="round"/>
<path d="M221.2 649.2h0M227.7 649.2h0M234.2 649.2h0M240.7 649.2h0M247.2 649.2h0M256.7 649.2h0M263.2 649.2h0M269.7 649.2h0M170.5 657.3h0M177.0 657.3h0M183.5 657.3h0M190.0 657.3h0M196.5 657.3h0M203.0 657.3h0M261.4 657.3h0M267.9 657.3h0M274.4 657.3h0M280.9 657.3h0M287.4 657.3h0M293.9 657.3h0M190.8 674.2h0M197.3 674.2h0M203.8 674.2h0M210.3 674.2h0M216.8 674.2h0M223.3 674.2h0M134.8 690.1h0M141.3 690.1h0M147.8 690.1h0M154.3 690.1h0M160.8 690.1h0M195.7 690.1h0M202.2 690.1h0M208.7 690.1h0M215.2 690.1h0M221.7 690.1h0M274.8 690.1h0M281.3 690.1h0M287.8 690.1h0M305.2 690.1h0M311.7 690.1h0M318.2 690.1h0M324.7 690.1h0M331.2 690.1h0M337.7 690.1h0M97.1 698.4h0M103.6 698.4h0M110.1 698.4h0M116.6 698.4h0M123.1 698.4h0M245.6 698.4h0M252.1 698.4h0M258.6 698.4h0M265.1 698.4h0M120.6 715.4h0M127.1 715.4h0M133.6 715.4h0M208.9 715.4h0M215.4 715.4h0M221.9 715.4h0M228.4 715.4h0M234.9 715.4h0M292.4 715.4h0M298.9 715.4h0M305.4 715.4h0M311.9 715.4h0M318.4 715.4h0M324.9 715.4h0M306.4 723.7h0M312.9 723.7h0M319.4 723.7h0M325.9 723.7h0M332.4 723.7h0M338.9 723.7h0M304.8 731.7h0M311.3 731.7h0M317.8 731.7h0M324.3 731.7h0M330.8 731.7h0M270.6 739.7h0M277.1 739.7h0M283.6 739.7h0M290.1 739.7h0M131.1 748.1h0M137.6 748.1h0M144.1 748.1h0M150.6 748.1h0M157.1 748.1h0M163.6 748.1h0M196.4 748.1h0M202.9 748.1h0M209.4 748.1h0M215.9 748.1h0M222.4 748.1h0M269.9 748.1h0M276.4 748.1h0M282.9 748.1h0M289.4 748.1h0M295.9 748.1h0M215.3 756.4h0M221.8 756.4h0M228.3 756.4h0M234.8 756.4h0M309.9 756.4h0M316.4 756.4h0M322.9 756.4h0M329.4 756.4h0M335.9 756.4h0M342.4 756.4h0M111.0 764.1h0M117.5 764.1h0M124.0 764.1h0M130.5 764.1h0M181.6 764.1h0M188.1 764.1h0M194.6 764.1h0M240.9 764.1h0M247.4 764.1h0M253.9 764.1h0M271.4 772.2h0M277.9 772.2h0M284.4 772.2h0M154.8 781.2h0M161.3 781.2h0M167.8 781.2h0M174.3 781.2h0" stroke="#e8dc30" stroke-width="7" fill="none" opacity="0.95" stroke-linecap="round"/>
<text x="50.8" y="694.8" font-size="24.4" font-weight="normal" fill="#e8f2f8" textLength="17.4" lengthAdjust="spacingAndGlyphs" >Li</text>
<text x="295.4" y="673.3" font-size="24.4" font-weight="normal" fill="#e8f2f8" textLength="20.0" lengthAdjust="spacingAndGlyphs" >Fe</text>
<text x="327.6" y="700.2" font-size="26.7" font-weight="normal" fill="#e8f2f8" textLength="9.6" lengthAdjust="spacingAndGlyphs" >S</text>
<text x="335.7" y="739.2" font-size="26.7" font-weight="normal" fill="#e8f2f8" textLength="18.8" lengthAdjust="spacingAndGlyphs" >O</text>
<text x="66.9" y="755.3" font-size="24.4" font-weight="normal" fill="#e8f2f8" textLength="13.4" lengthAdjust="spacingAndGlyphs" >H</text>
<text x="268.5" y="798.3" font-size="24.4" font-weight="normal" fill="#e8f2f8" textLength="22.8" lengthAdjust="spacingAndGlyphs" >Co</text>
<path d="M97.8,708.3 L76.5,692.2" stroke="#e8f4fa" stroke-width="2.2"/>
<path d="M70.9,688.0 L79.2,688.6 L73.8,695.8 Z" fill="#e8f4fa"/>
<path d="M271.2,684.0 L288.1,673.1" stroke="#e8f4fa" stroke-width="2.2"/>
<path d="M294.0,669.3 L290.6,676.9 L285.7,669.3 Z" fill="#e8f4fa"/>
<path d="M302.0,705.6 L319.0,695.6" stroke="#e8f4fa" stroke-width="2.2"/>
<path d="M325.0,692.0 L321.3,699.4 L316.7,691.7 Z" fill="#e8f4fa"/>
<path d="M314.0,744.6 L328.7,733.9" stroke="#e8f4fa" stroke-width="2.2"/>
<path d="M334.4,729.8 L331.4,737.6 L326.1,730.3 Z" fill="#e8f4fa"/>
<path d="M111.2,768.8 L90.1,754.0" stroke="#e8f4fa" stroke-width="2.2"/>
<path d="M84.4,750.0 L92.7,750.3 L87.5,757.7 Z" fill="#e8f4fa"/>
<path d="M249.7,756.7 L264.7,770.7" stroke="#e8f4fa" stroke-width="2.2"/>
<path d="M269.8,775.5 L261.6,774.0 L267.8,767.4 Z" fill="#e8f4fa"/>
</g>
</svg></div></body></html>
